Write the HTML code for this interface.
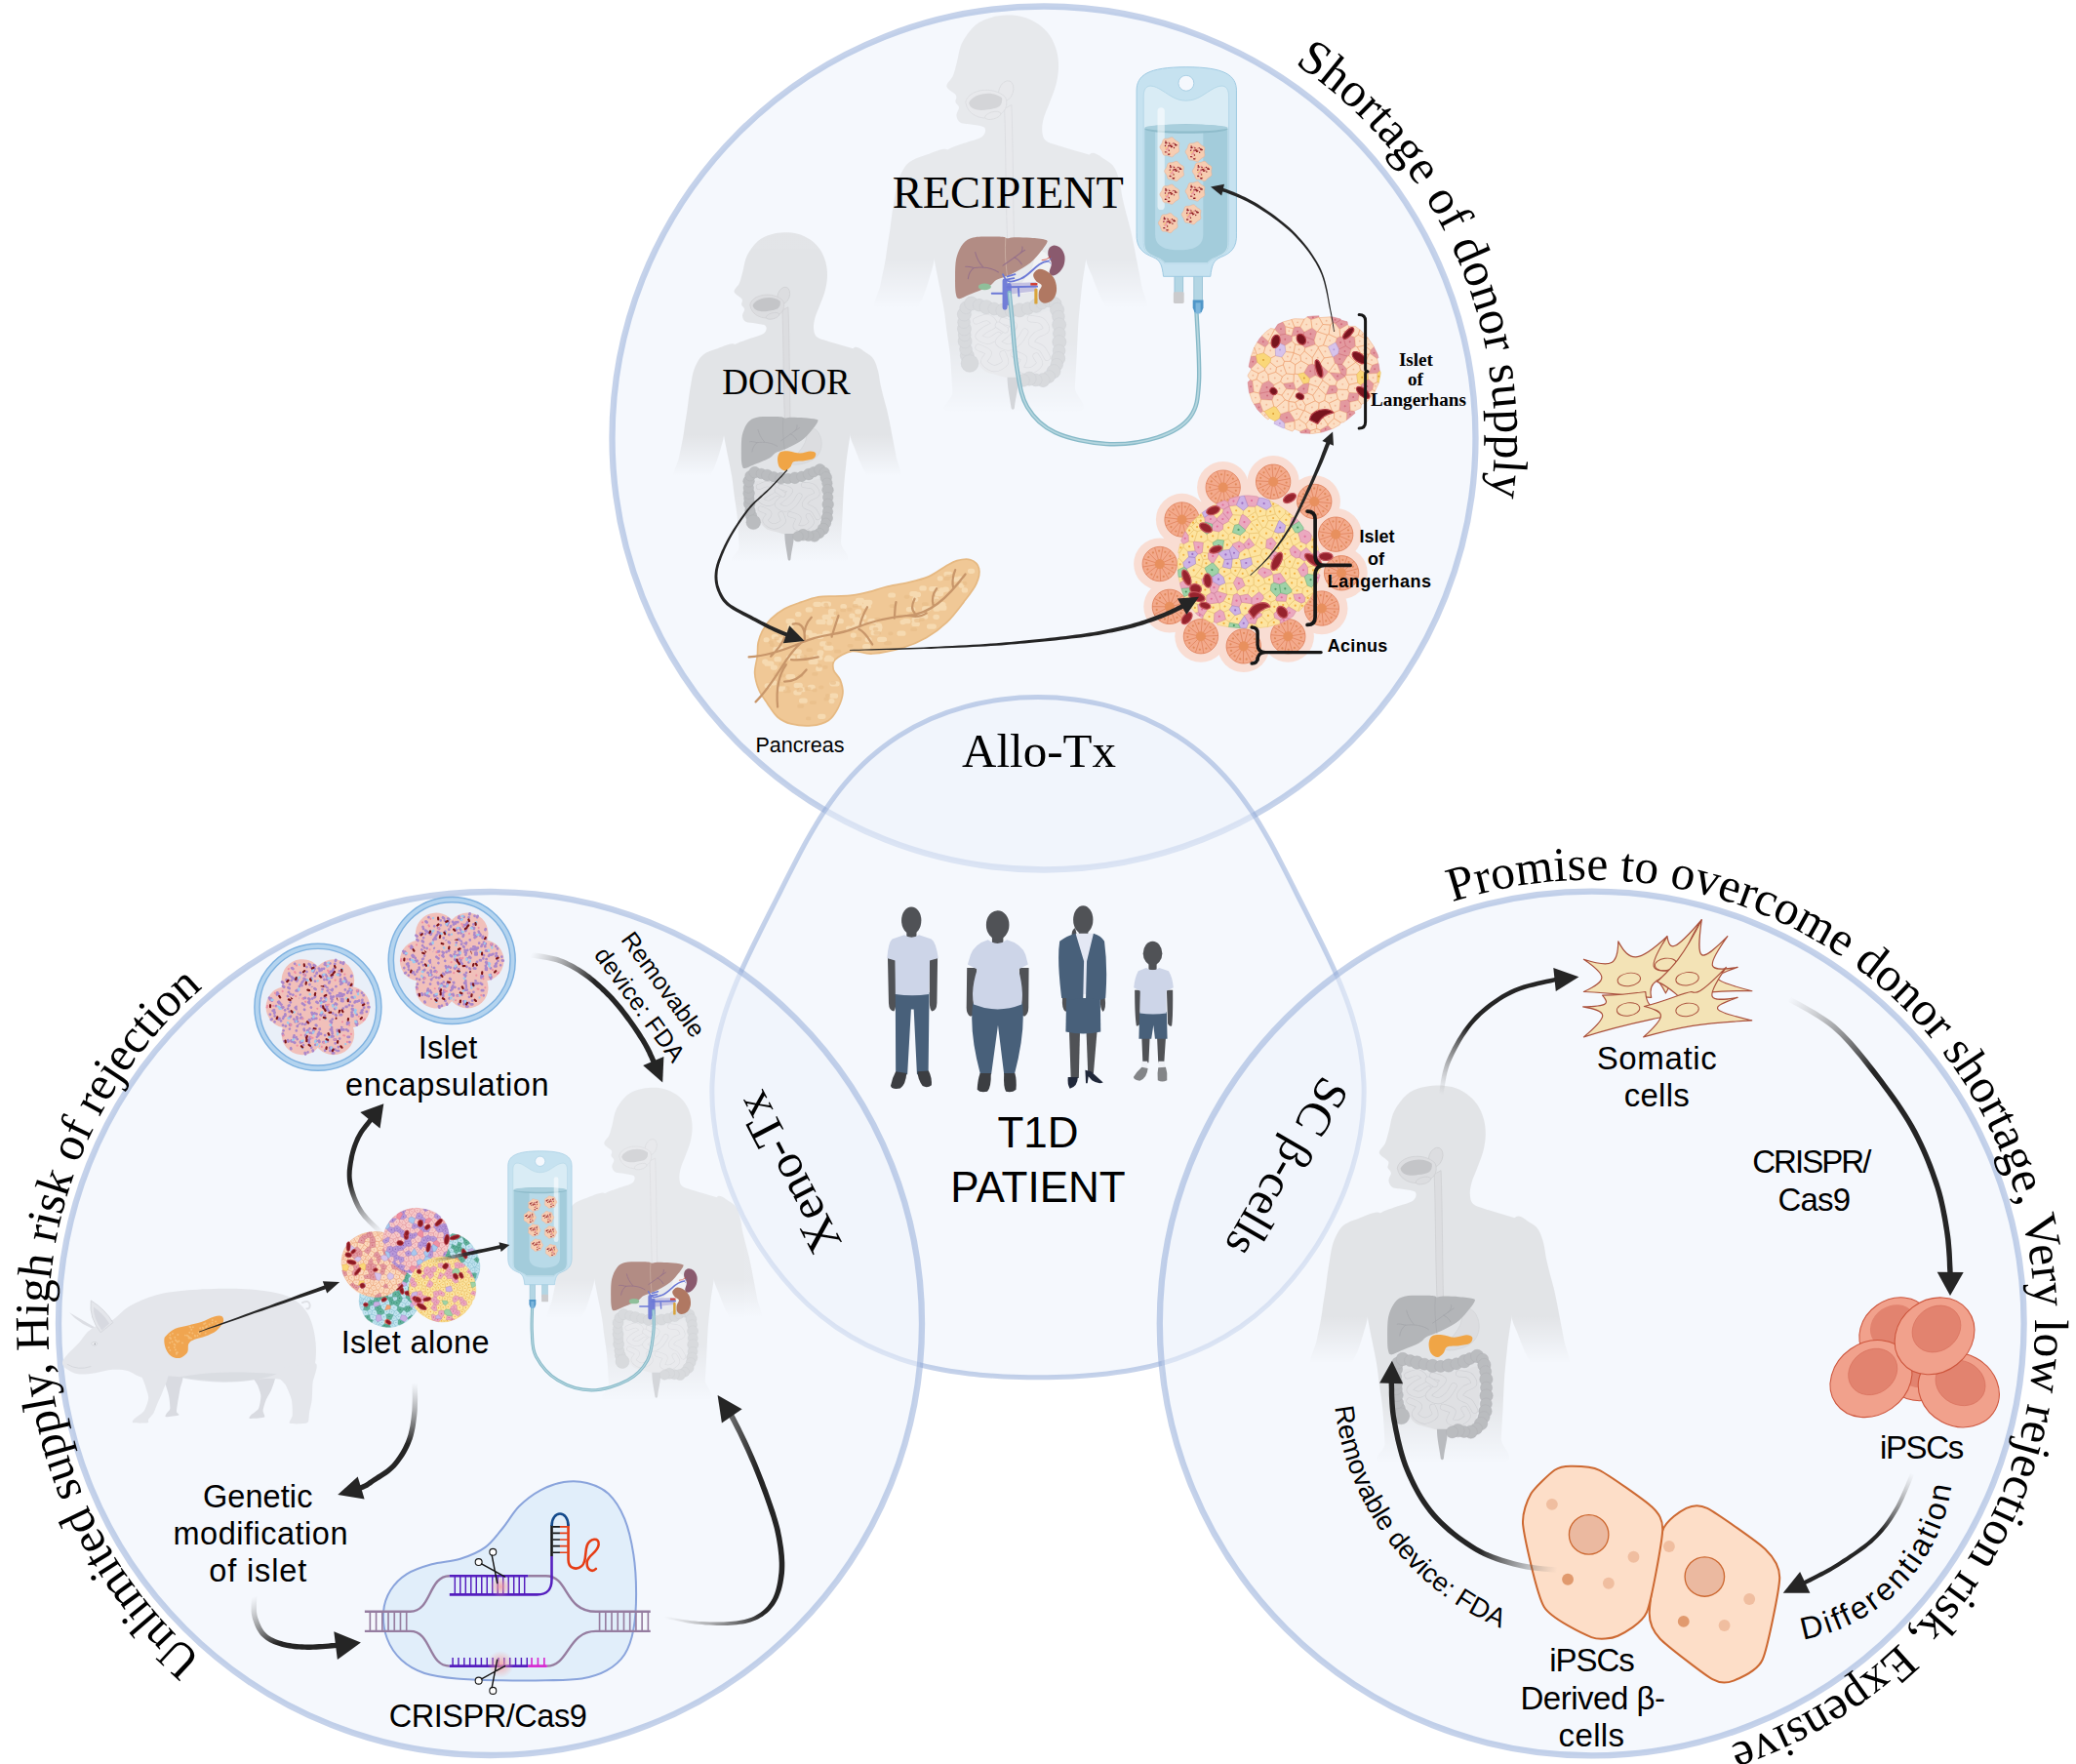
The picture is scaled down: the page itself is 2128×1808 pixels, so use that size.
<!DOCTYPE html>
<html lang="en"><head><meta charset="utf-8"><title>Islet transplantation strategies for T1D</title>
<style>
html,body{margin:0;padding:0;background:#fff;}
body{width:2128px;height:1808px;overflow:hidden;}
svg{display:block;}
.serif{font-family:"Liberation Serif","DejaVu Serif",serif;}
.sans{font-family:"Liberation Sans","DejaVu Sans",sans-serif;}
text{fill:#000;}
</style></head><body>
<svg xmlns="http://www.w3.org/2000/svg" width="2128" height="1808" viewBox="0 0 2128 1808">
<defs>
<linearGradient id="sgT" gradientUnits="userSpaceOnUse" x1="0" y1="1380" x2="0" y2="1655"><stop offset="0" stop-color="#c8c8c8"/><stop offset="1" stop-color="#c8c8c8" stop-opacity="0"/></linearGradient><linearGradient id="sgA" gradientUnits="userSpaceOnUse" x1="0" y1="1050" x2="0" y2="1240"><stop offset="0" stop-color="#c8c8c8"/><stop offset="1" stop-color="#c8c8c8" stop-opacity="0"/></linearGradient><g id="silh"><path d="M575 85C596.7 84.5 619.2 86.2 640 92C660.8 97.8 682.5 107.8 700 120C717.5 132.2 733 147.5 745 165C757 182.5 766.2 204.2 772 225C777.8 245.8 780.3 267.5 780 290C779.7 312.5 775.8 336.7 770 360C764.2 383.3 753 408.3 745 430C737 451.7 727 471.7 722 490C717 508.3 714 525 715 540C716 555 717.8 570 728 580C738.2 590 755.7 593 776 600C796.3 607 824.3 614 850 622C875.7 630 907.5 636.7 930 648C952.5 659.3 980 664.7 985 690C990 715.3 970 761.7 960 800C950 838.3 935.5 885 925 920C914.5 955 903 988 897 1010C891 1032 892.2 1033.7 889 1052C885.8 1070.3 881.2 1098.2 878 1120C874.8 1141.8 873.3 1151.5 870 1183C866.7 1214.5 861 1267.2 858 1309C855 1350.8 854.2 1392.3 852 1434C849.8 1475.7 846.5 1521.3 845 1559C843.5 1596.7 923.5 1643.2 843 1660C762.5 1676.8 442.5 1673.7 362 1660C281.5 1646.3 361.8 1615.7 360 1578C358.2 1540.3 354.7 1473.7 351 1434C347.3 1394.3 342.2 1371.3 338 1340C333.8 1308.7 331.5 1279.3 326 1246C320.5 1212.7 311.3 1172.3 305 1140C298.7 1107.7 292.2 1075.3 288 1052C283.8 1028.7 284.3 1025.3 280 1000C275.7 974.7 266.7 936.7 262 900C257.3 863.3 252 818.3 252 780C252 741.7 247.3 697 262 670C276.7 643 316.2 631 340 618C363.8 605 382 600.8 405 592C428 583.2 464.3 575.3 478 565C491.7 554.7 493.3 537.8 487 530C480.7 522.2 455.8 521.3 440 518C424.2 514.7 402.7 516 392 510C381.3 504 377 492 376 482C375 472 386.7 459 386 450C385.3 441 374 436 372 428C370 420 379.8 412.2 374 402C368.2 391.8 339 379.8 337 367C335 354.2 355.2 341.2 362 325C368.8 308.8 372 291.7 378 270C384 248.3 386 219.2 398 195C410 170.8 431.3 141.7 450 125C468.7 108.3 489.2 101.7 510 95C530.8 88.3 553.3 85.5 575 85Z" fill="url(#sgT)"/><path d="M908 632C923.3 622 954.3 650.3 970 660C985.7 669.7 993.3 675.8 1002 690C1010.7 704.2 1016.8 725.3 1022 745C1027.2 764.7 1028.7 787.2 1033 808C1037.3 828.8 1042.7 849.2 1048 870C1053.3 890.8 1060 912.2 1065 933C1070 953.8 1073.8 974.2 1078 995C1082.2 1015.8 1085 1031.8 1090 1058C1095 1084.2 1102.2 1118.3 1108 1152C1113.8 1185.7 1144.7 1241.2 1125 1260C1105.3 1278.8 1017.5 1270.8 990 1265C962.5 1259.2 968.5 1238.7 960 1225C951.5 1211.3 947 1201.3 939 1183C931 1164.7 920.3 1136.8 912 1115C903.7 1093.2 894.3 1079.5 889 1052C883.7 1024.5 881.8 1005.3 880 950C878.2 894.7 873.3 773 878 720C882.7 667 892.7 642 908 632Z" fill="url(#sgA)"/><path d="M340 618C328 604.7 274.7 632.2 250 640C225.3 647.8 206.5 655 192 665C177.5 675 171.3 685.8 163 700C154.7 714.2 147.3 732 142 750C136.7 768 134.5 788 131 808C127.5 828 124 849.2 121 870C118 890.8 116 912.2 113 933C110 953.8 106.2 974.2 103 995C99.8 1015.8 98.7 1031.8 94 1058C89.3 1084.2 81.5 1118.3 75 1152C68.5 1185.7 34.2 1241.2 55 1260C75.8 1278.8 170.8 1270.8 200 1265C229.2 1259.2 221.7 1238.7 230 1225C238.3 1211.3 243 1201.3 250 1183C257 1164.7 265.7 1136.8 272 1115C278.3 1093.2 283.3 1079.5 288 1052C292.7 1024.5 294.3 1005.3 300 950C305.7 894.7 315.3 775.3 322 720C328.7 664.7 352 631.3 340 618Z" fill="url(#sgA)"/></g><g id="orgGrey"><path d="M566 455 C 572 600 570 800 578 985 L604 985 C 600 800 600 600 594 440Z" fill="#dcdde0" stroke="#cdced1" stroke-width="3"/><ellipse cx="572" cy="385" rx="28" ry="42" fill="#dcdde0" stroke="#cdced1" stroke-width="3" transform="rotate(20 572 385)"/><path d="M412 430 C 420 380 520 360 570 410 C 585 450 560 480 520 490 C 470 500 420 480 412 430Z" fill="#dcdde0" stroke="#cdced1" stroke-width="3"/><path d="M425 432 C 440 395 520 380 556 412 C 560 445 540 455 500 458 C 470 465 430 460 425 432Z" fill="#c4c5c8"/><ellipse cx="520" cy="482" rx="32" ry="14" fill="#dcdde0" stroke="#cdced1" stroke-width="3" transform="rotate(-15 520 482)"/><g transform="translate(297 874.5) scale(0.4379)"><path d="M900 330C920 306.7 958.3 325 980 340C1001.7 355 1020 390 1030 420C1040 450 1045 486.7 1040 520C1035 553.3 1023.3 591.7 1000 620C976.7 648.3 940 673.3 900 690C860 706.7 793.3 720 760 720C726.7 720 696.7 710 700 690C703.3 670 753.3 635 780 600C806.7 565 840 525 860 480C880 435 880 353.3 900 330Z" fill="#dcdde0" stroke="#c9cbce" stroke-width="4"/><path d="M330 900C360 879.2 438.3 919.2 500 925C561.7 930.8 633.3 938.3 700 935C766.7 931.7 845 913.3 900 905C955 896.7 1006.3 852.5 1030 885C1053.7 917.5 1042 1030.8 1042 1100C1042 1169.2 1040.3 1246.7 1030 1300C1019.7 1353.3 1010 1395.8 980 1420C950 1444.2 896.7 1435 850 1445C803.3 1455 750 1479.2 700 1480C650 1480.8 596.7 1463.3 550 1450C503.3 1436.7 455 1433.3 420 1400C385 1366.7 356.7 1308.3 340 1250C323.3 1191.7 321.7 1108.3 320 1050C318.3 991.7 300 920.8 330 900Z" fill="#dfe0e3"/><path d="M360 960C376.7 955 433.3 925 460 930C486.7 935 523.3 971.7 520 990C516.7 1008.3 463.3 1021.7 440 1040C416.7 1058.3 375 1083.3 380 1100C385 1116.7 440 1141.7 470 1140C500 1138.3 545 1098.3 560 1090" fill="none" stroke="#cfd0d4" stroke-width="64" stroke-linecap="round" stroke-linejoin="round"/><path d="M360 960C376.7 955 433.3 925 460 930C486.7 935 523.3 971.7 520 990C516.7 1008.3 463.3 1021.7 440 1040C416.7 1058.3 375 1083.3 380 1100C385 1116.7 440 1141.7 470 1140C500 1138.3 545 1098.3 560 1090" fill="none" stroke="#dfe0e3" stroke-width="52" stroke-linecap="round" stroke-linejoin="round"/><path d="M600 960C616.7 966.7 693.3 981.7 700 1000C706.7 1018.3 663.3 1045 640 1070C616.7 1095 558.3 1128.3 560 1150C561.7 1171.7 620 1200 650 1200C680 1200 715 1173.3 740 1150C765 1126.7 790 1075 800 1060" fill="none" stroke="#cfd0d4" stroke-width="64" stroke-linecap="round" stroke-linejoin="round"/><path d="M600 960C616.7 966.7 693.3 981.7 700 1000C706.7 1018.3 663.3 1045 640 1070C616.7 1095 558.3 1128.3 560 1150C561.7 1171.7 620 1200 650 1200C680 1200 715 1173.3 740 1150C765 1126.7 790 1075 800 1060" fill="none" stroke="#dfe0e3" stroke-width="52" stroke-linecap="round" stroke-linejoin="round"/><path d="M850 940C866.7 943.3 926.7 943.3 950 960C973.3 976.7 998.3 1018.3 990 1040C981.7 1061.7 921.7 1070 900 1090C878.3 1110 851.7 1140 860 1160C868.3 1180 926.7 1188.3 950 1210C973.3 1231.7 991.7 1276.7 1000 1290" fill="none" stroke="#cfd0d4" stroke-width="64" stroke-linecap="round" stroke-linejoin="round"/><path d="M850 940C866.7 943.3 926.7 943.3 950 960C973.3 976.7 998.3 1018.3 990 1040C981.7 1061.7 921.7 1070 900 1090C878.3 1110 851.7 1140 860 1160C868.3 1180 926.7 1188.3 950 1210C973.3 1231.7 991.7 1276.7 1000 1290" fill="none" stroke="#dfe0e3" stroke-width="52" stroke-linecap="round" stroke-linejoin="round"/><path d="M380 1200C395 1208.3 461.7 1228.3 470 1250C478.3 1271.7 421.7 1306.7 430 1330C438.3 1353.3 488.3 1388.3 520 1390C551.7 1391.7 606.7 1361.7 620 1340C633.3 1318.3 603.3 1273.3 600 1260" fill="none" stroke="#cfd0d4" stroke-width="64" stroke-linecap="round" stroke-linejoin="round"/><path d="M380 1200C395 1208.3 461.7 1228.3 470 1250C478.3 1271.7 421.7 1306.7 430 1330C438.3 1353.3 488.3 1388.3 520 1390C551.7 1391.7 606.7 1361.7 620 1340C633.3 1318.3 603.3 1273.3 600 1260" fill="none" stroke="#dfe0e3" stroke-width="52" stroke-linecap="round" stroke-linejoin="round"/><path d="M700 1260C715 1266.7 780 1278.3 790 1300C800 1321.7 750 1371.7 760 1390C770 1408.3 821.7 1416.7 850 1410C878.3 1403.3 921.7 1371.7 930 1350C938.3 1328.3 905 1291.7 900 1280" fill="none" stroke="#cfd0d4" stroke-width="64" stroke-linecap="round" stroke-linejoin="round"/><path d="M700 1260C715 1266.7 780 1278.3 790 1300C800 1321.7 750 1371.7 760 1390C770 1408.3 821.7 1416.7 850 1410C878.3 1403.3 921.7 1371.7 930 1350C938.3 1328.3 905 1291.7 900 1280" fill="none" stroke="#dfe0e3" stroke-width="52" stroke-linecap="round" stroke-linejoin="round"/><path d="M560 1000C570 1006.7 610 1033.3 620 1040" fill="none" stroke="#cfd0d4" stroke-width="64" stroke-linecap="round" stroke-linejoin="round"/><path d="M560 1000C570 1006.7 610 1033.3 620 1040" fill="none" stroke="#dfe0e3" stroke-width="52" stroke-linecap="round" stroke-linejoin="round"/><path d="M640 1470 C 640 1560 660 1640 676 1750 Q 690 1775 704 1750 C 715 1640 745 1560 740 1470Z" fill="#b9bbbf"/><circle cx="290" cy="1330" r="56" fill="#babcbf" stroke="#acaeb2" stroke-width="4"/><circle cx="276.6" cy="1274.4" r="62" fill="#babcbf" stroke="#acaeb2" stroke-width="4"/><circle cx="264.8" cy="1218.1" r="56" fill="#babcbf" stroke="#acaeb2" stroke-width="4"/><circle cx="256.6" cy="1145.2" r="62" fill="#babcbf" stroke="#acaeb2" stroke-width="4"/><circle cx="253.5" cy="1088" r="56" fill="#babcbf" stroke="#acaeb2" stroke-width="4"/><circle cx="251" cy="1030.9" r="62" fill="#babcbf" stroke="#acaeb2" stroke-width="4"/><circle cx="247.2" cy="971.6" r="56" fill="#babcbf" stroke="#acaeb2" stroke-width="4"/><circle cx="250" cy="900" r="62" fill="#babcbf" stroke="#acaeb2" stroke-width="4"/><circle cx="265.5" cy="841.2" r="56" fill="#babcbf" stroke="#acaeb2" stroke-width="4"/><circle cx="313.6" cy="802.7" r="62" fill="#babcbf" stroke="#acaeb2" stroke-width="4"/><circle cx="385.7" cy="817.7" r="56" fill="#babcbf" stroke="#acaeb2" stroke-width="4"/><circle cx="450" cy="835" r="62" fill="#babcbf" stroke="#acaeb2" stroke-width="4"/><circle cx="521.3" cy="851.3" r="56" fill="#babcbf" stroke="#acaeb2" stroke-width="4"/><circle cx="598.8" cy="867.3" r="62" fill="#babcbf" stroke="#acaeb2" stroke-width="4"/><circle cx="675.1" cy="871.7" r="56" fill="#babcbf" stroke="#acaeb2" stroke-width="4"/><circle cx="750.6" cy="863.5" r="62" fill="#babcbf" stroke="#acaeb2" stroke-width="4"/><circle cx="825.5" cy="848" r="56" fill="#babcbf" stroke="#acaeb2" stroke-width="4"/><circle cx="901.3" cy="823.4" r="62" fill="#babcbf" stroke="#acaeb2" stroke-width="4"/><circle cx="953.9" cy="798.8" r="56" fill="#babcbf" stroke="#acaeb2" stroke-width="4"/><circle cx="1022.6" cy="774.4" r="62" fill="#babcbf" stroke="#acaeb2" stroke-width="4"/><circle cx="1073.4" cy="804.5" r="56" fill="#babcbf" stroke="#acaeb2" stroke-width="4"/><circle cx="1089.8" cy="859" r="62" fill="#babcbf" stroke="#acaeb2" stroke-width="4"/><circle cx="1101.9" cy="921.4" r="56" fill="#babcbf" stroke="#acaeb2" stroke-width="4"/><circle cx="1108.2" cy="995.3" r="62" fill="#babcbf" stroke="#acaeb2" stroke-width="4"/><circle cx="1109.9" cy="1074.5" r="56" fill="#babcbf" stroke="#acaeb2" stroke-width="4"/><circle cx="1110" cy="1151.6" r="62" fill="#babcbf" stroke="#acaeb2" stroke-width="4"/><circle cx="1107.6" cy="1230.1" r="56" fill="#babcbf" stroke="#acaeb2" stroke-width="4"/><circle cx="1100" cy="1300" r="62" fill="#babcbf" stroke="#acaeb2" stroke-width="4"/><circle cx="1086.4" cy="1356.5" r="56" fill="#babcbf" stroke="#acaeb2" stroke-width="4"/><circle cx="1058.9" cy="1417.1" r="62" fill="#babcbf" stroke="#acaeb2" stroke-width="4"/><circle cx="1016.2" cy="1464.5" r="56" fill="#babcbf" stroke="#acaeb2" stroke-width="4"/><circle cx="962.8" cy="1495.9" r="62" fill="#babcbf" stroke="#acaeb2" stroke-width="4"/><circle cx="898.1" cy="1494.2" r="56" fill="#babcbf" stroke="#acaeb2" stroke-width="4"/><circle cx="839.3" cy="1482.7" r="62" fill="#babcbf" stroke="#acaeb2" stroke-width="4"/><circle cx="785.2" cy="1498.4" r="56" fill="#babcbf" stroke="#acaeb2" stroke-width="4"/><circle cx="300" cy="1345" r="78" fill="#babcbf" stroke="#acaeb2" stroke-width="4"/><path d="M240 262C265.3 229.8 290 217.7 330 207C370 196.3 435 199.2 480 198C525 196.8 573.3 197.3 600 200C626.7 202.7 623.3 213.2 640 214C656.7 214.8 665 205.7 700 205C735 204.3 803.3 206.5 850 210C896.7 213.5 955 219.3 980 226C1005 232.7 1005 233.5 1000 250C995 266.5 975 294.2 950 325C925 355.8 888.3 403.3 850 435C811.7 466.7 758.3 494.2 720 515C681.7 535.8 650 547.2 620 560C590 572.8 565 577 540 592C515 607 510 628.3 470 650C430 671.7 344.2 703.7 300 722C255.8 740.3 225.7 760 205 760C184.3 760 182.2 748.7 176 722C169.8 695.3 167.7 653.7 168 600C168.3 546.3 166 456.3 178 400C190 343.7 214.7 294.2 240 262Z" fill="#b3b5b8"/><path d="M625 205 C 615 330 625 450 640 560" fill="none" stroke="#a3a5a9" stroke-width="5"/><path d="M560 520 C 500 480 420 470 340 480 M420 472 C 380 430 360 380 350 340 M340 480 C 310 500 290 540 285 580 M340 480 C 300 470 280 465 262 470 M600 460 C 660 420 740 360 800 320 M700 385 C 740 400 760 430 770 450 M740 360 C 770 340 780 310 775 290" fill="none" stroke="#a6a8ac" stroke-width="9" stroke-linecap="round"/><path d="M566 630C571.7 610.3 579 589.5 600 580C621 570.5 657.7 570.3 692 573C726.3 575.7 768 596 806 596C844 596 891.5 573 920 573C948.5 573 971.3 582.7 977 596C982.7 609.3 974.8 639.7 954 653C933.2 666.3 888 670.3 852 676C816 681.7 762.8 675.7 738 687C713.2 698.3 718.3 727.7 703 744C687.7 760.3 665 783.2 646 785C627 786.8 602.3 769.5 589 755C575.7 740.5 569.8 718.8 566 698C562.2 677.2 560.3 649.7 566 630Z" fill="#f0a546"/></g></g><g id="orgCol"><path d="M566 455 C 572 600 570 800 578 985 L604 985 C 600 800 600 600 594 440Z" fill="#e8e9ec" stroke="#dadbde" stroke-width="3"/><ellipse cx="572" cy="385" rx="28" ry="42" fill="#e8e9ec" stroke="#dadbde" stroke-width="3" transform="rotate(20 572 385)"/><path d="M412 430 C 420 380 520 360 570 410 C 585 450 560 480 520 490 C 470 500 420 480 412 430Z" fill="#e8e9ec" stroke="#dadbde" stroke-width="3"/><path d="M425 432 C 440 395 520 380 556 412 C 560 445 540 455 500 458 C 470 465 430 460 425 432Z" fill="#d4d5d8"/><ellipse cx="520" cy="482" rx="32" ry="14" fill="#e8e9ec" stroke="#dadbde" stroke-width="3" transform="rotate(-15 520 482)"/><g transform="translate(297 874.5) scale(0.4379)"><path d="M900 330C920 306.7 958.3 325 980 340C1001.7 355 1020 390 1030 420C1040 450 1045 486.7 1040 520C1035 553.3 1023.3 591.7 1000 620C976.7 648.3 940 673.3 900 690C860 706.7 793.3 720 760 720C726.7 720 696.7 710 700 690C703.3 670 753.3 635 780 600C806.7 565 840 525 860 480C880 435 880 353.3 900 330Z" fill="#f1f2f4" stroke="#e2e3e6" stroke-width="4"/><path d="M330 900C360 879.2 438.3 919.2 500 925C561.7 930.8 633.3 938.3 700 935C766.7 931.7 845 913.3 900 905C955 896.7 1006.3 852.5 1030 885C1053.7 917.5 1042 1030.8 1042 1100C1042 1169.2 1040.3 1246.7 1030 1300C1019.7 1353.3 1010 1395.8 980 1420C950 1444.2 896.7 1435 850 1445C803.3 1455 750 1479.2 700 1480C650 1480.8 596.7 1463.3 550 1450C503.3 1436.7 455 1433.3 420 1400C385 1366.7 356.7 1308.3 340 1250C323.3 1191.7 321.7 1108.3 320 1050C318.3 991.7 300 920.8 330 900Z" fill="#e9eaed"/><path d="M360 960C376.7 955 433.3 925 460 930C486.7 935 523.3 971.7 520 990C516.7 1008.3 463.3 1021.7 440 1040C416.7 1058.3 375 1083.3 380 1100C385 1116.7 440 1141.7 470 1140C500 1138.3 545 1098.3 560 1090" fill="none" stroke="#dcdde1" stroke-width="64" stroke-linecap="round" stroke-linejoin="round"/><path d="M360 960C376.7 955 433.3 925 460 930C486.7 935 523.3 971.7 520 990C516.7 1008.3 463.3 1021.7 440 1040C416.7 1058.3 375 1083.3 380 1100C385 1116.7 440 1141.7 470 1140C500 1138.3 545 1098.3 560 1090" fill="none" stroke="#e9eaed" stroke-width="52" stroke-linecap="round" stroke-linejoin="round"/><path d="M600 960C616.7 966.7 693.3 981.7 700 1000C706.7 1018.3 663.3 1045 640 1070C616.7 1095 558.3 1128.3 560 1150C561.7 1171.7 620 1200 650 1200C680 1200 715 1173.3 740 1150C765 1126.7 790 1075 800 1060" fill="none" stroke="#dcdde1" stroke-width="64" stroke-linecap="round" stroke-linejoin="round"/><path d="M600 960C616.7 966.7 693.3 981.7 700 1000C706.7 1018.3 663.3 1045 640 1070C616.7 1095 558.3 1128.3 560 1150C561.7 1171.7 620 1200 650 1200C680 1200 715 1173.3 740 1150C765 1126.7 790 1075 800 1060" fill="none" stroke="#e9eaed" stroke-width="52" stroke-linecap="round" stroke-linejoin="round"/><path d="M850 940C866.7 943.3 926.7 943.3 950 960C973.3 976.7 998.3 1018.3 990 1040C981.7 1061.7 921.7 1070 900 1090C878.3 1110 851.7 1140 860 1160C868.3 1180 926.7 1188.3 950 1210C973.3 1231.7 991.7 1276.7 1000 1290" fill="none" stroke="#dcdde1" stroke-width="64" stroke-linecap="round" stroke-linejoin="round"/><path d="M850 940C866.7 943.3 926.7 943.3 950 960C973.3 976.7 998.3 1018.3 990 1040C981.7 1061.7 921.7 1070 900 1090C878.3 1110 851.7 1140 860 1160C868.3 1180 926.7 1188.3 950 1210C973.3 1231.7 991.7 1276.7 1000 1290" fill="none" stroke="#e9eaed" stroke-width="52" stroke-linecap="round" stroke-linejoin="round"/><path d="M380 1200C395 1208.3 461.7 1228.3 470 1250C478.3 1271.7 421.7 1306.7 430 1330C438.3 1353.3 488.3 1388.3 520 1390C551.7 1391.7 606.7 1361.7 620 1340C633.3 1318.3 603.3 1273.3 600 1260" fill="none" stroke="#dcdde1" stroke-width="64" stroke-linecap="round" stroke-linejoin="round"/><path d="M380 1200C395 1208.3 461.7 1228.3 470 1250C478.3 1271.7 421.7 1306.7 430 1330C438.3 1353.3 488.3 1388.3 520 1390C551.7 1391.7 606.7 1361.7 620 1340C633.3 1318.3 603.3 1273.3 600 1260" fill="none" stroke="#e9eaed" stroke-width="52" stroke-linecap="round" stroke-linejoin="round"/><path d="M700 1260C715 1266.7 780 1278.3 790 1300C800 1321.7 750 1371.7 760 1390C770 1408.3 821.7 1416.7 850 1410C878.3 1403.3 921.7 1371.7 930 1350C938.3 1328.3 905 1291.7 900 1280" fill="none" stroke="#dcdde1" stroke-width="64" stroke-linecap="round" stroke-linejoin="round"/><path d="M700 1260C715 1266.7 780 1278.3 790 1300C800 1321.7 750 1371.7 760 1390C770 1408.3 821.7 1416.7 850 1410C878.3 1403.3 921.7 1371.7 930 1350C938.3 1328.3 905 1291.7 900 1280" fill="none" stroke="#e9eaed" stroke-width="52" stroke-linecap="round" stroke-linejoin="round"/><path d="M560 1000C570 1006.7 610 1033.3 620 1040" fill="none" stroke="#dcdde1" stroke-width="64" stroke-linecap="round" stroke-linejoin="round"/><path d="M560 1000C570 1006.7 610 1033.3 620 1040" fill="none" stroke="#e9eaed" stroke-width="52" stroke-linecap="round" stroke-linejoin="round"/><path d="M640 1470 C 640 1560 660 1640 676 1750 Q 690 1775 704 1750 C 715 1640 745 1560 740 1470Z" fill="#d4d6da"/><circle cx="290" cy="1330" r="56" fill="#d8dadd" stroke="#cdcfd3" stroke-width="4"/><circle cx="276.6" cy="1274.4" r="62" fill="#d8dadd" stroke="#cdcfd3" stroke-width="4"/><circle cx="264.8" cy="1218.1" r="56" fill="#d8dadd" stroke="#cdcfd3" stroke-width="4"/><circle cx="256.6" cy="1145.2" r="62" fill="#d8dadd" stroke="#cdcfd3" stroke-width="4"/><circle cx="253.5" cy="1088" r="56" fill="#d8dadd" stroke="#cdcfd3" stroke-width="4"/><circle cx="251" cy="1030.9" r="62" fill="#d8dadd" stroke="#cdcfd3" stroke-width="4"/><circle cx="247.2" cy="971.6" r="56" fill="#d8dadd" stroke="#cdcfd3" stroke-width="4"/><circle cx="250" cy="900" r="62" fill="#d8dadd" stroke="#cdcfd3" stroke-width="4"/><circle cx="265.5" cy="841.2" r="56" fill="#d8dadd" stroke="#cdcfd3" stroke-width="4"/><circle cx="313.6" cy="802.7" r="62" fill="#d8dadd" stroke="#cdcfd3" stroke-width="4"/><circle cx="385.7" cy="817.7" r="56" fill="#d8dadd" stroke="#cdcfd3" stroke-width="4"/><circle cx="450" cy="835" r="62" fill="#d8dadd" stroke="#cdcfd3" stroke-width="4"/><circle cx="521.3" cy="851.3" r="56" fill="#d8dadd" stroke="#cdcfd3" stroke-width="4"/><circle cx="598.8" cy="867.3" r="62" fill="#d8dadd" stroke="#cdcfd3" stroke-width="4"/><circle cx="675.1" cy="871.7" r="56" fill="#d8dadd" stroke="#cdcfd3" stroke-width="4"/><circle cx="750.6" cy="863.5" r="62" fill="#d8dadd" stroke="#cdcfd3" stroke-width="4"/><circle cx="825.5" cy="848" r="56" fill="#d8dadd" stroke="#cdcfd3" stroke-width="4"/><circle cx="901.3" cy="823.4" r="62" fill="#d8dadd" stroke="#cdcfd3" stroke-width="4"/><circle cx="953.9" cy="798.8" r="56" fill="#d8dadd" stroke="#cdcfd3" stroke-width="4"/><circle cx="1022.6" cy="774.4" r="62" fill="#d8dadd" stroke="#cdcfd3" stroke-width="4"/><circle cx="1073.4" cy="804.5" r="56" fill="#d8dadd" stroke="#cdcfd3" stroke-width="4"/><circle cx="1089.8" cy="859" r="62" fill="#d8dadd" stroke="#cdcfd3" stroke-width="4"/><circle cx="1101.9" cy="921.4" r="56" fill="#d8dadd" stroke="#cdcfd3" stroke-width="4"/><circle cx="1108.2" cy="995.3" r="62" fill="#d8dadd" stroke="#cdcfd3" stroke-width="4"/><circle cx="1109.9" cy="1074.5" r="56" fill="#d8dadd" stroke="#cdcfd3" stroke-width="4"/><circle cx="1110" cy="1151.6" r="62" fill="#d8dadd" stroke="#cdcfd3" stroke-width="4"/><circle cx="1107.6" cy="1230.1" r="56" fill="#d8dadd" stroke="#cdcfd3" stroke-width="4"/><circle cx="1100" cy="1300" r="62" fill="#d8dadd" stroke="#cdcfd3" stroke-width="4"/><circle cx="1086.4" cy="1356.5" r="56" fill="#d8dadd" stroke="#cdcfd3" stroke-width="4"/><circle cx="1058.9" cy="1417.1" r="62" fill="#d8dadd" stroke="#cdcfd3" stroke-width="4"/><circle cx="1016.2" cy="1464.5" r="56" fill="#d8dadd" stroke="#cdcfd3" stroke-width="4"/><circle cx="962.8" cy="1495.9" r="62" fill="#d8dadd" stroke="#cdcfd3" stroke-width="4"/><circle cx="898.1" cy="1494.2" r="56" fill="#d8dadd" stroke="#cdcfd3" stroke-width="4"/><circle cx="839.3" cy="1482.7" r="62" fill="#d8dadd" stroke="#cdcfd3" stroke-width="4"/><circle cx="785.2" cy="1498.4" r="56" fill="#d8dadd" stroke="#cdcfd3" stroke-width="4"/><circle cx="300" cy="1345" r="78" fill="#d8dadd" stroke="#cdcfd3" stroke-width="4"/><path d="M240 262C265.3 229.8 290 217.7 330 207C370 196.3 435 199.2 480 198C525 196.8 573.3 197.3 600 200C626.7 202.7 623.3 213.2 640 214C656.7 214.8 665 205.7 700 205C735 204.3 803.3 206.5 850 210C896.7 213.5 955 219.3 980 226C1005 232.7 1005 233.5 1000 250C995 266.5 975 294.2 950 325C925 355.8 888.3 403.3 850 435C811.7 466.7 758.3 494.2 720 515C681.7 535.8 650 547.2 620 560C590 572.8 565 577 540 592C515 607 510 628.3 470 650C430 671.7 344.2 703.7 300 722C255.8 740.3 225.7 760 205 760C184.3 760 182.2 748.7 176 722C169.8 695.3 167.7 653.7 168 600C168.3 546.3 166 456.3 178 400C190 343.7 214.7 294.2 240 262Z" fill="#b28c84"/><path d="M625 205 C 615 330 625 450 640 560" fill="none" stroke="#d9c2b4" stroke-width="5"/><path d="M560 520 C 500 480 420 470 340 480 M420 472 C 380 430 360 380 350 340 M340 480 C 310 500 290 540 285 580 M340 480 C 300 470 280 465 262 470 M600 460 C 660 420 740 360 800 320 M700 385 C 740 400 760 430 770 450 M740 360 C 770 340 780 310 775 290" fill="none" stroke="#96708a" stroke-width="9" stroke-linecap="round"/><ellipse cx="435" cy="652" rx="58" ry="30" fill="#8fbf9a"/><path d="M240 262C265.3 229.8 290 217.7 330 207C370 196.3 435 199.2 480 198C525 196.8 573.3 197.3 600 200C626.7 202.7 623.3 213.2 640 214C656.7 214.8 665 205.7 700 205C735 204.3 803.3 206.5 850 210C896.7 213.5 955 219.3 980 226C1005 232.7 1005 233.5 1000 250C995 266.5 975 294.2 950 325C925 355.8 888.3 403.3 850 435C811.7 466.7 758.3 494.2 720 515C681.7 535.8 650 547.2 620 560C590 572.8 565 577 540 592C515 607 510 628.3 470 650C430 671.7 344.2 703.7 300 722C255.8 740.3 225.7 760 205 760C184.3 760 182.2 748.7 176 722C169.8 695.3 167.7 653.7 168 600C168.3 546.3 166 456.3 178 400C190 343.7 214.7 294.2 240 262Z" fill="#b28c84" opacity="0.0"/><path d="M650 620 L900 610 L905 690 L650 720Z" fill="#b9b5dd" opacity="0.8"/><path d="M1060 278C1077.5 276.3 1103.7 284.7 1120 300C1136.3 315.3 1153 343.3 1158 370C1163 396.7 1159.7 433.3 1150 460C1140.3 486.7 1116.7 514.7 1100 530C1083.3 545.3 1063.3 553.7 1050 552C1036.7 550.3 1021.7 538.7 1020 520C1018.3 501.3 1041.7 465 1040 440C1038.3 415 1014.2 391.7 1010 370C1005.8 348.3 1006.7 325.3 1015 310C1023.3 294.7 1042.5 279.7 1060 278Z" fill="#8a5a6e"/><path d="M930 492C952.5 488.7 986.7 503.7 1010 520C1033.3 536.3 1057.5 561.7 1070 590C1082.5 618.3 1088.3 660 1085 690C1081.7 720 1067.5 751.7 1050 770C1032.5 788.3 1000 800 980 800C960 800 939.2 786.7 930 770C920.8 753.3 921.7 721.7 925 700C928.3 678.3 954.2 656.7 950 640C945.8 623.3 912.5 616.7 900 600C887.5 583.3 870 558 875 540C880 522 907.5 495.3 930 492Z" fill="#b07862"/><rect x="885" y="668" width="28" height="140" rx="8" fill="#d9a43b"/><rect x="850" y="618" width="62" height="22" fill="#d23b2e"/><path d="M618 600 L618 840 M655 640 L655 800" stroke="#6b78d6" stroke-width="44" fill="none" stroke-linecap="round" opacity="0.95"/><path d="M500 712 L600 712 M640 655 L910 650 M600 540 C 640 640 700 600 760 580 C 860 540 900 430 1010 420 M740 655 L745 735 M640 560 L710 540 M640 585 L700 575" stroke="#6b78d6" stroke-width="16" fill="none" stroke-linecap="round"/><path d="M1010 420 L1040 395 M1010 420 L1035 445" stroke="#6b78d6" stroke-width="7" fill="none"/><path d="M950 412 L990 405 L1030 380" stroke="#d23b2e" stroke-width="7" fill="none"/></g></g><g id="isb"><path d="M57 0C57 9.4 62.1 20.8 58.6 28.2C55 35.6 42.9 38.7 35.5 44.6C28.2 50.4 22.5 61.5 14.5 63.4C6.4 65.2 -3.5 57.7 -12.7 55.6C-21.8 53.5 -34.1 56 -40.5 50.8C-47 45.7 -47.3 33.2 -51.4 24.7C-55.4 16.3 -65 8.2 -65 0C-65 -8.2 -55.4 -16.3 -51.4 -24.7C-47.3 -33.2 -47 -45.7 -40.5 -50.8C-34.1 -56 -21.8 -53.5 -12.7 -55.6C-3.5 -57.7 6.4 -65.2 14.5 -63.4C22.5 -61.5 28.2 -50.4 35.5 -44.6C42.9 -38.7 55 -35.6 58.6 -28.2C62.1 -20.8 57 -9.4 57 0Z" fill="#f6cdb2" stroke="#e8a98c" stroke-width="3"/><path d="M15 -6h0M-19 34h0M-26 -15h0M-2 -7h0M-11 14h0M-4 -12h0M-12 2h0M-1 45h0M19 -6h0M-23 16h0M-18 10h0M13 -20h0M-8 -30h0M9 -2h0" stroke="#ee9aa0" stroke-width="11" stroke-linecap="round"/><path d="M1 40h0M-26 6h0M12 -9h0M-29 7h0M3 -20h0M-6 22h0M13 -1h0M-20 -1h0" stroke="#f3c070" stroke-width="8" stroke-linecap="round"/><path d="M-28 -27h7M36 -13h7M27 4h0M-27 -36h0M-30 32h4M-30 -8h0M-3 -24h0M34 -20h0M0 -10h7M-9 -8h0M8 -1h0M14 -3h0M-11 46h7M24 -24h0M34 -13h4M-6 22h0" stroke="#8c1c24" stroke-width="9" stroke-linecap="round"/></g><g id="ivbag"><rect x="340" y="1390" width="55" height="200" fill="#b3d6e4" stroke="#8fbdd2" stroke-width="5"/><rect x="465" y="1390" width="55" height="240" fill="#b3d6e4" stroke="#8fbdd2" stroke-width="5"/><rect x="333" y="1570" width="68" height="74" rx="9" fill="#cbcbcd"/><path d="M458 1622h68v50l-12 30h-44l-12-30z" fill="#4f96c8"/><rect x="476" y="1640" width="32" height="70" fill="#7db6dc"/><path d="M95 270C95 170 170 118 415 118S740 170 740 270V1190C745 1290 700 1320 640 1345C590 1365 580 1400 572 1470H268C260 1400 250 1365 200 1345C140 1320 90 1290 95 1190Z" fill="#c6e2f0" stroke="#9cc8e0" stroke-width="6"/><path d="M140 310C140 240 175 225 235 255C300 290 340 335 415 335S530 290 595 255C655 225 690 240 690 310V1250C690 1300 670 1325 620 1345C580 1360 560 1372 555 1385H275C270 1372 250 1360 210 1345C160 1325 140 1300 140 1250Z" fill="#d9ecf5" stroke="#a8cfe2" stroke-width="4"/><path d="M146 515H684V1250C684 1298 666 1320 618 1340C578 1356 560 1368 553 1380H277C270 1368 252 1356 212 1340C164 1320 146 1298 146 1250Z" fill="#a3ccdb"/><path d="M215 520H525V1200C525 1270 470 1300 370 1300S215 1270 215 1200Z" fill="#bcdcea" opacity="0.85"/><ellipse cx="415" cy="517" rx="269" ry="30" fill="#8fbccb"/><ellipse cx="415" cy="510" rx="269" ry="22" fill="#a9cfdd"/><rect x="230" y="380" width="46" height="660" rx="23" fill="#fff" opacity="0.55"/><circle cx="415" cy="222" r="50" fill="#f5f8fd" stroke="#9cc8e0" stroke-width="5"/><use href="#isb" x="310" y="635"/><use href="#isb" x="475" y="665"/><use href="#isb" x="340" y="790"/><use href="#isb" x="520" y="790"/><use href="#isb" x="310" y="940"/><use href="#isb" x="475" y="920"/><use href="#isb" x="450" y="1070"/><use href="#isb" x="300" y="1125"/></g><g id="acin"><circle r="105" fill="#f3aa8c" stroke="#dc7850" stroke-width="4"/><path d="M26 0L104 0M23 12L92 48M15 21L59 86M3 26L13 103M-9 24L-37 97M-19 17L-78 69M-25 6L-101 25M-25 -6L-101 -25M-19 -17L-78 -69M-9 -24L-37 -97M3 -26L13 -103M15 -21L59 -86M23 -12L92 -48" stroke="#dc7850" stroke-width="3.5" fill="none"/><path d="M78 19h0M60 53h0M28 75h0M-10 79h0M-45 66h0M-71 37h0M-80 0h0M-71 -37h0M-45 -66h0M-10 -79h0M28 -75h0M60 -53h0M78 -19h0" stroke="#e08a5c" stroke-width="13" stroke-linecap="round"/><circle r="30" fill="#e8905e"/></g><g id="lobe0"><circle r="147" fill="#f1c0ba"/><path d="M-13 16h10M-13 99h0M-88 3h0M-113 -55h0M10 109h0M26 -29h10M43 32h0M34 92h0M-10 -16h0M5 39h10M43 -26h0M58 -51h0M3 -131h0M-27 97h10M51 -80h0M-8 134h10M-22 18h0M77 -64h0M-25 118h0M-71 -111h0M-9 -3h0M-14 -86h0M-22 -32h10M-22 -80h6M21 -128h0M-80 -67h6M92 -31h0M-114 23h0M34 -104h10M93 -101h10M-88 -96h0M88 -70h0M-95 36h0M52 -31h10M28 -21h0M-109 3h6M-73 57h6M-22 113h10M-57 -90h0M-104 -5h0M-61 116h0M69 -120h10M-15 -123h0M-61 8h0M-13 -47h0M25 118h10M114 56h0M-134 38h10M-121 -52h0M12 66h0M-41 51h0M103 -23h0M101 20h10M-107 -67h10M63 -31h10" stroke="#aa86ca" stroke-width="19" stroke-linecap="round"/><path d="M9 39h0M-36 -118h0M-84 90h0M-68 59h0M71 9h0M78 11h0M125 0h0M97 55h0" stroke="#ef8fa3" stroke-width="15" stroke-linecap="round"/><path d="M-16 94l0 9M28 -5l0 9M-108 78l7 5M-55 49l0 9M44 -16l0 5M-26 -69l7 5M85 71l0 0M-32 23l4 0M-101 0l0 9" stroke="#9ccbee" stroke-width="16" stroke-linecap="round"/><path d="M-8 119l6 -11M-32 5l-6 -11M60 95l-9 -9M-50 92l-2 12M30 49l-2 12M-40 41l-11 -5M39 -26l4 12M75 -65l2 -12" stroke="#7e1418" stroke-width="15" stroke-linecap="round"/></g><g id="lobe1"><circle r="147" fill="#f1c0ba"/><path d="M25 -21h6M-103 -86h10M134 0h0M3 65h6M75 -82h0M24 44h0M131 -38h6M132 20h10M-90 -4h10M49 -94h0M9 48h0M23 -116h10M20 89h6M11 110h10M13 -67h0M33 -106h10M-73 12h0M-23 -133h0M10 136h0M-43 132h10M-2 -129h6M-9 -84h10M-111 8h0M53 16h0M-69 -21h0M-15 -44h10M52 -24h0M12 -20h6M76 15h0M36 -46h10M-117 17h0M-74 17h10M-63 -45h0M79 -100h10M-82 50h0M43 68h0M-22 -62h0M7 -56h0M109 -34h0M48 29h6M50 -25h6M-63 120h0M-31 -22h10M71 107h6M53 -32h6M-36 33h0M-62 75h0M100 -67h0M37 -128h0M-62 -38h0M34 78h0M66 -29h6M-57 -118h0M-101 51h6M-8 58h0" stroke="#aa86ca" stroke-width="19" stroke-linecap="round"/><path d="M-30 132h0M67 58h0M47 -63h0M-92 28h0M-122 24h0M4 11h0M-7 -99h0M39 -53h0" stroke="#ef8fa3" stroke-width="15" stroke-linecap="round"/><path d="M90 28l7 0M-48 -102l0 0M99 -82l4 5M72 -77l7 5M45 8l0 9M17 67l4 9M-103 -33l4 0M-2 -41l0 9M9 -81l4 5" stroke="#9ccbee" stroke-width="16" stroke-linecap="round"/><path d="M-123 -51l-11 5M90 25l-11 6M-71 -51l-6 -11M-15 -91l5 -11M21 130l-12 -2M34 -20l-10 -8M45 -19l12 4M95 -30l-9 8" stroke="#7e1418" stroke-width="15" stroke-linecap="round"/></g><g id="lobe2"><circle r="147" fill="#f1c0ba"/><path d="M50 -114h0M36 -36h0M135 -12h6M-21 -99h0M-59 -38h10M91 17h0M85 33h10M2 -38h0M-133 -41h0M66 -52h0M2 116h0M-60 60h10M-99 -65h0M-17 -110h0M-65 -73h10M41 -44h0M21 35h0M88 -59h0M21 12h6M-93 22h0M-39 -120h0M-77 -91h10M-51 -85h6M57 111h10M-42 13h0M96 12h0M61 96h0M126 22h0M91 -40h0M-3 -120h10M28 17h0M43 20h0M-60 -50h10M65 123h0M-3 122h0M58 49h0M-93 -74h6M94 -92h0M-63 -78h0M129 -39h0M105 -6h0M46 -120h6M-76 -70h0M-23 0h6M22 -11h0M-1 -14h0M81 -108h0M23 52h6M55 -45h0M-7 -129h0M5 -100h0M24 62h6M13 -71h10M87 -39h10M-3 111h10" stroke="#aa86ca" stroke-width="19" stroke-linecap="round"/><path d="M-39 109h0M47 -121h0M116 76h0M12 128h0M108 84h0M73 60h0M-107 24h0M-138 1h0" stroke="#ef8fa3" stroke-width="15" stroke-linecap="round"/><path d="M42 30l7 9M31 -77l4 5M42 14l7 5M-120 -1l4 9M-26 -59l4 0M52 97l7 5M55 -100l0 5M0 -122l0 0M-114 -53l7 0" stroke="#9ccbee" stroke-width="16" stroke-linecap="round"/><path d="M0 82l0 12M-42 37l-7 -10M-97 81l11 6M-95 -51l3 12M-12 -41l-1 -12M88 76l8 -10M-69 43l3 -12M94 -22l10 -7" stroke="#7e1418" stroke-width="15" stroke-linecap="round"/></g><g id="capsule"><circle r="432" fill="#e9eff8" stroke="#7fb2e0" stroke-width="46"/><circle r="432" fill="none" stroke="#b4d4ef" stroke-width="26"/><use href="#lobe0" transform="translate(111 192) rotate(0)"/><use href="#lobe1" transform="translate(-111 192) rotate(73)"/><use href="#lobe2" transform="translate(-222 0) rotate(146)"/><use href="#lobe0" transform="translate(-111 -192) rotate(219)"/><use href="#lobe1" transform="translate(111 -192) rotate(292)"/><use href="#lobe2" transform="translate(222 -0) rotate(365)"/><use href="#lobe1" transform="rotate(40)"/></g><radialGradient id="glow"><stop offset="0" stop-color="#f59a9a" stop-opacity="0.8"/><stop offset="1" stop-color="#f59a9a" stop-opacity="0"/></radialGradient><linearGradient id="ag1" gradientUnits="userSpaceOnUse" x1="391.4" y1="1264" x2="358.9" y2="1212.7"><stop offset="0" stop-color="rgba(120,120,120,0)"/><stop offset="1" stop-color="#252525"/></linearGradient><linearGradient id="ag2" gradientUnits="userSpaceOnUse" x1="441.5" y1="1292.9" x2="482" y2="1284.5"><stop offset="0" stop-color="rgba(120,120,120,0)"/><stop offset="1" stop-color="#252525"/></linearGradient><linearGradient id="ag3" gradientUnits="userSpaceOnUse" x1="544.3" y1="978.7" x2="608.6" y2="1005.5"><stop offset="0" stop-color="rgba(120,120,120,0)"/><stop offset="1" stop-color="#252525"/></linearGradient><linearGradient id="ag4" gradientUnits="userSpaceOnUse" x1="425.2" y1="1417.4" x2="417.9" y2="1479.8"><stop offset="0" stop-color="rgba(120,120,120,0)"/><stop offset="1" stop-color="#252525"/></linearGradient><linearGradient id="ag5" gradientUnits="userSpaceOnUse" x1="260.6" y1="1636.2" x2="285.5" y2="1684"><stop offset="0" stop-color="rgba(120,120,120,0)"/><stop offset="1" stop-color="#252525"/></linearGradient><linearGradient id="ag6" gradientUnits="userSpaceOnUse" x1="680.8" y1="1657.5" x2="782.5" y2="1653.3"><stop offset="0" stop-color="rgba(120,120,120,0)"/><stop offset="1" stop-color="#252525"/></linearGradient><linearGradient id="ag7" gradientUnits="userSpaceOnUse" x1="1477.1" y1="1121.9" x2="1504.3" y2="1053.2"><stop offset="0" stop-color="rgba(120,120,120,0)"/><stop offset="1" stop-color="#252525"/></linearGradient><linearGradient id="ag8" gradientUnits="userSpaceOnUse" x1="1833.6" y1="1023.7" x2="1919.7" y2="1097.3"><stop offset="0" stop-color="rgba(120,120,120,0)"/><stop offset="1" stop-color="#252525"/></linearGradient><linearGradient id="ag9" gradientUnits="userSpaceOnUse" x1="1960.4" y1="1510.2" x2="1928.5" y2="1568.8"><stop offset="0" stop-color="rgba(120,120,120,0)"/><stop offset="1" stop-color="#252525"/></linearGradient><linearGradient id="ag10" gradientUnits="userSpaceOnUse" x1="1596.3" y1="1609.3" x2="1516.9" y2="1590.1"><stop offset="0" stop-color="rgba(120,120,120,0)"/><stop offset="1" stop-color="#252525"/></linearGradient><path id="tp_diff" d="M1848.2 1680.4A185 185 0 0 0 2000.3 1523.1"/><path id="tp_remr" d="M1368.4 1442.1A279.7 279.7 0 0 0 1538.5 1668.9"/><path id="tp_short" d="M1327 65.1A462 462 0 0 1 1527.9 510.1"/><path id="tp_unlim" d="M207.1 1699.9A453 453 0 0 1 207.7 1012.6"/><path id="tp_prom" d="M1488.8 924.5A455 455 0 1 1 1770.8 1789.7"/>
</defs>
<g id="p00_circles"><circle cx="1070" cy="449" r="442.5" fill="rgba(237,242,251,0.55)" stroke="rgba(139,165,213,0.5)" stroke-width="6.3"/><path d="M1064 714.6C1051.5 714.6 1038.8 715.4 1026.4 717C1014 718.7 1001.5 721 989.5 724.3C977.4 727.6 965.5 731.7 954.1 736.7C942.7 741.7 931.6 747.6 921.2 754.3C910.8 761 900.9 768.6 891.8 776.7C882.6 784.8 874.1 793.8 866.3 802.9C858.5 812.1 851.5 821.9 844.9 831.7C838.4 841.5 832.6 851.6 826.9 861.5C821.3 871.5 816.3 881.5 811.2 891.3C806.1 901.1 801.3 910.9 796.5 920.5C791.6 930.2 786.8 939.7 781.9 949.4C777.1 959.1 772.2 968.7 767.5 978.7C762.8 988.6 758 998.6 753.8 1009.1C749.6 1019.5 745.4 1030.2 742.1 1041.2C738.8 1052.2 735.8 1063.5 733.8 1075C731.8 1086.5 730.5 1098.3 730 1110.1C729.6 1121.9 730 1133.9 731.3 1145.7C732.5 1157.6 734.6 1169.5 737.4 1181.1C740.2 1192.8 743.8 1204.4 748 1215.7C752.2 1227 757.2 1238.1 762.7 1249C768.1 1259.8 774.2 1270.5 780.9 1280.7C787.6 1290.9 794.9 1300.8 802.8 1310.2C810.6 1319.6 819.1 1328.7 828.1 1337C837.1 1345.3 846.8 1353.1 856.9 1360.1C867 1367 877.7 1373.3 888.6 1378.8C899.6 1384.2 911 1388.8 922.5 1392.8C934 1396.7 945.9 1399.7 957.7 1402.3C969.5 1404.8 981.4 1406.5 993.2 1408C1005.1 1409.4 1016.9 1410.2 1028.7 1410.9C1040.5 1411.5 1052.2 1411.7 1064 1411.7C1075.8 1411.7 1087.5 1411.5 1099.3 1410.9C1111.1 1410.2 1122.9 1409.4 1134.8 1408C1146.6 1406.5 1158.5 1404.8 1170.3 1402.3C1182.1 1399.7 1194 1396.7 1205.5 1392.8C1217 1388.8 1228.4 1384.2 1239.4 1378.8C1250.3 1373.3 1261 1367 1271.1 1360.1C1281.2 1353.1 1290.9 1345.3 1299.9 1337C1308.9 1328.7 1317.4 1319.6 1325.2 1310.2C1333.1 1300.8 1340.4 1290.9 1347.1 1280.7C1353.8 1270.5 1359.9 1259.8 1365.3 1249C1370.8 1238.1 1375.8 1227 1380 1215.7C1384.2 1204.4 1387.8 1192.8 1390.6 1181.1C1393.4 1169.5 1395.5 1157.6 1396.7 1145.7C1398 1133.9 1398.4 1121.9 1398 1110.1C1397.5 1098.3 1396.2 1086.5 1394.2 1075C1392.2 1063.5 1389.2 1052.2 1385.9 1041.2C1382.6 1030.2 1378.4 1019.5 1374.2 1009.1C1370 998.6 1365.2 988.6 1360.5 978.7C1355.8 968.7 1350.9 959.1 1346.1 949.4C1341.2 939.7 1336.4 930.2 1331.5 920.5C1326.7 910.9 1321.9 901.1 1316.8 891.3C1311.7 881.5 1306.7 871.5 1301.1 861.5C1295.4 851.6 1289.6 841.5 1283.1 831.7C1276.5 821.9 1269.5 812.1 1261.7 802.9C1253.9 793.8 1245.4 784.8 1236.2 776.7C1227.1 768.6 1217.2 761 1206.8 754.3C1196.4 747.6 1185.3 741.7 1173.9 736.7C1162.5 731.7 1150.6 727.6 1138.5 724.3C1126.5 721 1114 718.7 1101.6 717C1089.2 715.4 1076.5 714.6 1064 714.6Z" fill="rgba(237,242,251,0.55)" stroke="rgba(139,165,213,0.5)" stroke-width="5"/><circle cx="502.5" cy="1356.5" r="442.5" fill="rgba(237,242,251,0.55)" stroke="rgba(139,165,213,0.5)" stroke-width="6.3"/><circle cx="1631.7" cy="1356.5" r="442.9" fill="rgba(237,242,251,0.55)" stroke="rgba(139,165,213,0.5)" stroke-width="6.3"/></g><g id="p05_defs"></g><g id="p06_bag"></g><g id="p10_top"><g transform="translate(883.1 -6.4) scale(0.2589)"><use href="#silh" opacity="0.3"/><use href="#orgCol"/></g><g transform="translate(680 220) scale(0.2154)"><use href="#silh" opacity="0.4"/><use href="#orgGrey"/></g><path d="M1226.4 318C1226.8 330.2 1230.1 372.7 1229 391C1227.9 409.3 1227 418 1219.8 427.6C1212.6 437.2 1200.3 443.9 1186 448.5C1171.7 453.1 1151.2 455.9 1133.8 455C1116.4 454.1 1095.1 449.6 1081.6 443.3C1068.1 437 1059.5 428.1 1053 417.2C1046.5 406.3 1045.1 393.3 1042.5 378.1C1039.9 362.9 1038.6 339 1037.3 326C1036 313 1035.1 304.3 1034.7 300" fill="none" stroke="#86b9c8" stroke-width="4.4" stroke-linecap="round"/><path d="M1226.4 318C1226.8 330.2 1230.1 372.7 1229 391C1227.9 409.3 1227 418 1219.8 427.6C1212.6 437.2 1200.3 443.9 1186 448.5C1171.7 453.1 1151.2 455.9 1133.8 455C1116.4 454.1 1095.1 449.6 1081.6 443.3C1068.1 437 1059.5 428.1 1053 417.2C1046.5 406.3 1045.1 393.3 1042.5 378.1C1039.9 362.9 1038.6 339 1037.3 326C1036 313 1035.1 304.3 1034.7 300" fill="none" stroke="#b5d6df" stroke-width="1.8"/><use href="#ivbag" transform="translate(1150 50) scale(0.15873 0.15873)"/><g transform="translate(700 520) scale(0.1734)"><path d="M1700 310C1721.7 317.5 1744.2 336.7 1750 360C1755.8 383.3 1750 416.7 1735 450C1720 483.3 1689.2 521.7 1660 560C1630.8 598.3 1596.7 645 1560 680C1523.3 715 1483.3 745 1440 770C1396.7 795 1353.3 814.2 1300 830C1246.7 845.8 1170 861.7 1120 865C1070 868.3 1036.7 844.2 1000 850C963.3 855.8 918.3 881.7 900 900C881.7 918.3 885 940 890 960C895 980 920.8 996.7 930 1020C939.2 1043.3 947.5 1071.7 945 1100C942.5 1128.3 929.2 1163.3 915 1190C900.8 1216.7 885.8 1243.3 860 1260C834.2 1276.7 796.7 1286.7 760 1290C723.3 1293.3 673.3 1288.3 640 1280C606.7 1271.7 583.3 1260 560 1240C536.7 1220 518.3 1186.7 500 1160C481.7 1133.3 462.5 1110 450 1080C437.5 1050 426.7 1013.3 425 980C423.3 946.7 436.7 910 440 880C443.3 850 440 825 445 800C450 775 457.5 753.3 470 730C482.5 706.7 498.3 681.7 520 660C541.7 638.3 570 616.7 600 600C630 583.3 666.7 571.7 700 560C733.3 548.3 766.7 535.8 800 530C833.3 524.2 866.7 526.7 900 525C933.3 523.3 966.7 524.2 1000 520C1033.3 515.8 1066.7 508.3 1100 500C1133.3 491.7 1161.7 479.2 1200 470C1238.3 460.8 1288.3 455 1330 445C1371.7 435 1413.3 425.8 1450 410C1486.7 394.2 1521.7 365.8 1550 350C1578.3 334.2 1595 321.7 1620 315C1645 308.3 1678.3 302.5 1700 310Z" fill="#f0c896" stroke="#e6b982" stroke-width="10"/><path d="M1153 699h9M1516 574h24M1080 562h26M823 807h17M1370 516h23M1065 647h7M483 912h6M568 834h11M739 605h13M504 924h19M757 757h23M670 1052h24M1490 543h10M553 898h15M530 1037h11M1493 648h9M809 866h6M1644 462h5M1412 478h14M1634 421h9M1601 426h12M784 573h21M491 783h6M1557 394h21M678 632h8M495 924h29M1035 550h22M782 888h30M772 764h8M846 831h30M1298 678h5M877 1145h5M756 913h29M631 703h9M688 883h15M832 572h30M1354 511h23M1163 781h28M1529 595h16M864 682h7M1428 599h26M623 673h25M1031 616h10M665 852h23M605 779h13M752 1063h16M625 888h26M574 1073h28M1334 603h26M1076 823h19M1280 745h23M800 954h9M875 631h16M1405 646h30M1137 723h25M1005 756h6M1018 664h17M701 1077h9M647 790h6M1371 544h6M1494 594h30M1091 782h11M1456 704h28M668 1095h19M882 1114h21M1366 689h20M849 898h30M867 672h7M873 615h19M532 946h12M701 1143h21M1518 420h5M538 765h12M569 785h26M811 1236h19M1504 511h22M1227 519h16M737 740h13M1662 490h8M699 791h6M614 745h18M801 677h30M802 763h16M1494 601h12M997 641h6M1021 566h26M1107 673h25M1149 709h16M1116 713h12M1071 584h27M1311 673h21M837 648h25M945 586h9M978 715h7M1698 377h13M808 858h10M623 1001h27M497 1054h10M882 1043h30M1011 709h22M1029 686h29M1549 485h10M547 839h19M856 888h11M1383 647h27M1531 591h14M1469 482h24M1125 742h24M1367 664h14M917 673h19M840 745h16M1527 489h13M1413 624h5" stroke="#f7dcb4" stroke-width="30" stroke-linecap="round" opacity="0.9"/><path d="M740 843h16M1589 405h9M1350 629h22M814 1063h8M773 985h15M1231 583h20M774 1081h8M1319 529h10M983 818h13M687 1175h18M759 1154h20M853 1113h6M941 608h13M1356 722h18M987 727h5M615 1068h6M566 1043h22M640 797h20M902 625h9M607 919h6M703 883h20M981 604h10M1405 662h13M516 798h8M573 994h23M688 1076h11M604 1086h24M689 995h12M1378 669h16M1199 803h25M549 775h10M1551 422h17M728 1073h20M546 988h8M683 1081h8M1664 450h5M1563 409h13M1224 746h8M1276 644h11M1134 720h11M881 1037h14M1143 662h14M905 851h20M1496 552h9M1013 582h13M1423 572h18M843 575h6M577 929h8M737 1248h9M837 945h9M1138 743h22M844 1133h9M853 806h16M1025 778h22M524 813h6M849 587h5M805 937h7" stroke="#e9bd88" stroke-width="22" stroke-linecap="round" opacity="0.6"/><path d="M390 885C470 880 560 860 700 800S900 760 1000 720S1200 650 1330 640S1560 540 1670 395M700 800C600 880 560 1020 430 1150M610 930C560 1000 550 1080 560 1180M640 900C700 905 760 895 800 885M600 1030C660 1030 700 1000 730 960M520 880C560 840 590 800 600 770M650 690C690 680 720 700 720 770M760 650C720 690 715 740 720 780M920 640C900 700 890 730 880 765M1040 720C1080 740 1100 780 1120 810M1090 590C1060 640 1050 680 1045 705M1260 560C1250 600 1255 630 1250 655M1370 540C1350 580 1355 610 1370 625M1500 480C1470 520 1475 560 1480 580M1610 370C1590 420 1590 450 1600 480M1330 640C1380 650 1420 640 1440 625" fill="none" stroke="#c8966a" stroke-width="13" stroke-linecap="round"/></g><g transform="translate(1150 460) scale(0.16861)"><circle cx="615" cy="235" r="158" fill="#f9ddd3"/><circle cx="920" cy="200" r="158" fill="#f9ddd3"/><circle cx="1170" cy="320" r="158" fill="#f9ddd3"/><circle cx="1300" cy="520" r="158" fill="#f9ddd3"/><circle cx="1335" cy="755" r="158" fill="#f9ddd3"/><circle cx="1215" cy="970" r="158" fill="#f9ddd3"/><circle cx="1010" cy="1140" r="158" fill="#f9ddd3"/><circle cx="740" cy="1200" r="158" fill="#f9ddd3"/><circle cx="480" cy="1140" r="158" fill="#f9ddd3"/><circle cx="290" cy="960" r="158" fill="#f9ddd3"/><circle cx="230" cy="700" r="158" fill="#f9ddd3"/><circle cx="365" cy="430" r="158" fill="#f9ddd3"/><circle cx="760" cy="700" r="470" fill="#f9ddd3"/><g transform="translate(615 235) rotate(0)"><use href="#acin"/></g><g transform="translate(920 200) rotate(17)"><use href="#acin"/></g><g transform="translate(1170 320) rotate(34)"><use href="#acin"/></g><g transform="translate(1300 520) rotate(51)"><use href="#acin"/></g><g transform="translate(1335 755) rotate(68)"><use href="#acin"/></g><g transform="translate(1215 970) rotate(85)"><use href="#acin"/></g><g transform="translate(1010 1140) rotate(102)"><use href="#acin"/></g><g transform="translate(740 1200) rotate(119)"><use href="#acin"/></g><g transform="translate(480 1140) rotate(136)"><use href="#acin"/></g><g transform="translate(290 960) rotate(153)"><use href="#acin"/></g><g transform="translate(230 700) rotate(170)"><use href="#acin"/></g><g transform="translate(365 430) rotate(187)"><use href="#acin"/></g><path d="M545 372L574 350L575 334L530 360ZM953 344L948 341L896 313L910 348L922 352ZM499 414L488 389L469 404L454 418ZM618 368L574 350L545 372L544 391L576 425L614 388ZM739 375L696 343L653 348L652 349L672 401L727 405L735 399ZM809 351L767 350L739 375L735 399L761 417L813 382ZM828 415L875 404L879 371L820 341L809 351L813 382ZM910 348L879 371L875 404L880 411L933 397L922 352ZM922 352L933 397L960 429L994 393L996 374L953 344ZM994 393L1033 420L1050 416L1049 416L1000 377L996 374ZM422 473L452 444L451 421L421 450L409 468ZM452 444L487 471L506 445L503 416L499 414L454 418L451 421ZM710 459L727 405L672 401L651 432L649 441L686 464ZM761 417L784 443L822 426L828 415L813 382ZM875 404L828 415L822 426L857 481L872 476L890 437L880 411ZM880 411L890 437L954 439L958 436L960 429L933 397ZM1033 420L994 393L960 429L958 436L995 466L1022 463ZM404 528L438 493L422 473L409 468L386 501ZM452 444L422 473L438 493L459 502L486 494L487 471ZM649 441L615 460L614 488L649 523L672 508L686 464ZM750 499L774 515L833 511L834 507L783 444L749 492ZM783 444L834 507L857 481L822 426L784 443ZM954 439L890 437L872 476L926 505L927 504ZM1020 535L1054 509L1031 470L1022 463L995 466L986 507L1014 534ZM459 502L438 493L404 528L405 563L435 566L440 564ZM517 519L486 494L459 502L440 564L494 571L522 553ZM581 553L590 504L546 495L517 519L522 553L552 571ZM590 504L581 553L620 557L646 547L649 523L614 488ZM672 508L649 523L646 547L674 578L713 563L720 525ZM720 525L713 563L740 580L773 542L774 515L750 499ZM838 526L833 511L774 515L773 542L806 585L812 584ZM872 476L857 481L834 507L833 511L838 526L880 553L911 539L926 505ZM948 512L927 504L926 505L911 539L939 574L970 571L972 567ZM1014 534L986 507L948 512L972 567ZM1072 510L1054 509L1020 535L1041 589L1047 589L1088 565ZM1149 555L1183 578L1179 566L1152 525ZM374 597L375 578L371 576L354 578L342 632L349 635ZM446 622L435 566L405 563L375 578L374 597L401 625ZM524 635L565 614L552 571L522 553L494 571L488 630ZM620 557L611 618L653 613L672 589L674 578L646 547ZM876 602L880 553L838 526L812 584L852 614ZM988 606L970 571L939 574L914 614L915 617L956 638ZM1041 589L1020 535L1014 534L972 567L970 571L988 606L1020 612ZM1088 565L1047 589L1089 627L1121 601L1121 579ZM1149 555L1121 579L1121 601L1158 640L1193 620L1195 616L1194 606L1183 578ZM407 657L401 625L374 597L349 635L348 667L372 692ZM494 674L526 670L524 635L488 630L477 637ZM784 661L784 661L768 610L753 604L714 632L706 665L721 677ZM852 614L812 584L806 585L768 610L784 661L843 646ZM863 675L899 667L915 617L914 614L876 602L852 614L843 646ZM959 657L986 678L1029 645L1020 612L988 606L956 638ZM378 719L372 692L348 667L340 668L338 700L341 737ZM448 699L484 715L494 674L477 637L461 640L445 661ZM547 695L526 670L494 674L484 715L487 718L504 725ZM589 640L556 695L590 733L612 718L624 674ZM706 665L671 670L666 719L728 722L728 722L721 677ZM856 721L863 675L843 646L784 661L784 661L792 702L834 734ZM899 667L863 675L856 721L904 737L926 710L925 685ZM925 685L926 710L988 718L992 716L986 678L959 657ZM992 716L1019 727L1033 721L1058 664L1029 645L986 678ZM1069 733L1110 691L1109 682L1079 661L1058 664L1033 721ZM1186 706L1186 696L1154 656L1109 682L1110 691L1129 720ZM1186 696L1186 706L1200 737L1208 734L1212 700L1210 680ZM484 715L448 699L393 729L413 777L417 780L443 776L487 718ZM487 718L443 776L485 793L521 763L504 725ZM586 754L617 780L664 752L660 729L612 718L590 733ZM664 752L697 778L728 722L666 719L660 729ZM751 729L728 722L728 722L697 778L698 779L730 789L770 769ZM792 702L751 729L770 769L801 781L827 755L834 734ZM988 718L926 710L904 737L916 761L919 766L963 756ZM1022 782L1019 727L992 716L988 718L963 756L997 804ZM1019 727L1022 782L1066 792L1092 775L1069 733L1033 721ZM1194 760L1200 737L1186 706L1129 720L1130 762L1183 768ZM345 779L353 816L407 780ZM443 776L417 780L422 831L470 850L492 823L485 793ZM617 780L627 816L631 819L678 815L698 779L697 778L664 752ZM730 789L748 831L780 837L802 827L801 781L770 769ZM801 781L802 827L826 843L871 818L862 786L827 755ZM916 761L862 786L871 818L908 825L924 814L919 766ZM1032 858L1064 834L1066 792L1022 782L997 804L994 809ZM1110 777L1092 775L1066 792L1064 834L1100 849L1128 831ZM414 884L443 909L476 877L470 850L422 831L411 846ZM470 850L476 877L515 892L542 875L532 833L492 823ZM580 867L637 884L631 819L627 816L594 830ZM702 861L678 815L631 819L637 884L639 885L679 889L700 880ZM717 894L765 884L780 837L748 831L702 861L700 880ZM834 870L826 843L802 827L780 837L765 884L789 908ZM903 860L908 825L871 818L826 843L834 870L858 891ZM1043 885L1096 881L1100 849L1064 834L1032 858L1030 872ZM1154 841L1128 831L1100 849L1096 881L1114 906L1163 875L1166 868ZM1180 810L1154 841L1166 868L1183 836L1190 814ZM442 938L443 909L414 884L379 899L397 932L424 950ZM513 945L515 892L476 877L443 909L442 938L461 946L508 952ZM639 885L617 925L667 948L679 889ZM940 899L903 860L858 891L862 907L907 932L936 919ZM1014 953L1052 918L1043 885L1030 872L1004 885L997 927ZM1114 906L1111 929L1122 937L1151 897L1163 875ZM465 995L461 946L442 938L424 950L417 964L448 997ZM593 939L587 935L513 945L508 952L516 983L563 1000L597 978ZM667 948L617 925L593 939L597 978L619 992L653 978L670 954ZM728 933L712 962L723 1000L744 1014L774 998L787 974L793 946L788 941ZM787 974L851 1004L862 986L834 944L793 946ZM907 932L862 907L834 944L862 986L896 977ZM907 932L896 977L924 1002L962 971L943 925L936 919ZM943 925L962 971L993 978L1014 960L1014 953L997 927ZM1091 938L1052 918L1014 953L1014 960L1059 987L1072 985ZM1111 929L1091 938L1072 985L1075 989L1111 952L1122 937ZM516 983L494 1016L492 1028L540 1055L546 1058L560 1052L563 1000ZM631 1037L653 1053L688 1012L653 978L619 992ZM653 1053L655 1057L709 1067L744 1017L744 1014L723 1000L688 1012ZM896 977L862 986L851 1004L849 1016L890 1058L929 1028L924 1002ZM581 1070L641 1082L650 1083L655 1057L653 1053L631 1037L576 1059ZM757 1090L765 1090L820 1089L824 1084L812 1064L770 1060ZM812 1064L824 1084L839 1088L883 1083L885 1082L890 1058L849 1016L823 1031ZM890 1058L885 1082L885 1083L889 1082L951 1066L963 1061L961 1043L929 1028Z" fill="#fde4a0" stroke="#ecc46e" stroke-width="3" stroke-linejoin="round"/><path d="M652 349L653 348L646 325L623 313L578 333L575 334L574 350L618 368ZM696 343L718 291L710 289L700 290L656 302L646 325L653 348ZM820 341L834 298L822 290L772 284L756 284L743 285L767 350L809 351ZM651 432L672 401L652 349L618 368L614 388ZM503 416L506 445L550 459L578 435L576 425L544 391ZM576 425L578 435L615 460L649 441L651 432L614 388ZM735 399L727 405L710 459L749 492L783 444L784 443L761 417ZM1033 420L1022 463L1031 470L1078 442L1078 442L1050 416ZM546 495L590 504L614 488L615 460L578 435L550 459ZM371 576L375 578L405 563L404 528L386 501L383 505L360 558ZM1149 555L1152 525L1141 508L1139 506L1104 490L1072 510L1088 565L1121 579ZM477 637L488 630L494 571L440 564L435 566L446 622L461 640ZM753 604L740 580L713 563L674 578L672 589L714 632ZM773 542L740 580L753 604L768 610L806 585ZM939 574L911 539L880 553L876 602L914 614ZM587 632L565 614L524 635L526 670L547 695L556 695L589 640ZM915 617L899 667L925 685L959 657L956 638ZM1058 664L1079 661L1089 627L1047 589L1041 589L1020 612L1029 645ZM1121 601L1089 627L1079 661L1109 682L1154 656L1158 640ZM1193 620L1158 640L1154 656L1186 696L1210 680L1205 640ZM827 755L862 786L916 761L904 737L856 721L834 734ZM1129 720L1110 691L1069 733L1092 775L1110 777L1130 762ZM422 831L417 780L413 777L407 780L353 816L356 833L362 851L411 846ZM485 793L492 823L532 833L552 806L551 776L521 763ZM730 789L698 779L678 815L702 861L748 831ZM997 804L963 756L919 766L924 814L958 825L994 809ZM1194 760L1183 768L1180 810L1190 814L1204 770L1204 766ZM532 833L542 875L561 879L580 867L594 830L552 806ZM515 892L513 945L587 935L561 879L542 875ZM561 879L587 935L593 939L617 925L639 885L637 884L580 867ZM679 889L667 948L670 954L712 962L728 933L717 894L700 880ZM789 908L765 884L717 894L728 933L788 941ZM834 870L789 908L788 941L793 946L834 944L862 907L858 891ZM1004 885L965 876L940 899L936 919L943 925L997 927ZM1114 906L1096 881L1043 885L1052 918L1091 938L1111 929ZM494 1016L516 983L508 952L461 946L465 995ZM448 997L457 1008L490 1030L492 1028L494 1016L465 995ZM597 978L563 1000L560 1052L576 1059L631 1037L619 992ZM744 1014L744 1017L770 1060L812 1064L823 1031L774 998ZM774 998L823 1031L849 1016L851 1004L787 974ZM929 1028L961 1043L994 1025L993 978L962 971L924 1002ZM1059 987L1014 960L993 978L994 1025L1017 1034L1041 1017ZM994 1025L961 1043L963 1061L1011 1038L1017 1034Z" fill="#eba8bf" stroke="#cf7f9c" stroke-width="3" stroke-linejoin="round"/><path d="M743 285L728 287L718 291L696 343L739 375L767 350ZM896 313L892 311L864 301L836 297L834 298L820 341L879 371L910 348ZM499 414L503 416L544 391L545 372L530 360L522 365L488 389ZM986 507L995 466L958 436L954 439L927 504L948 512ZM445 661L461 640L446 622L401 625L407 657ZM671 670L653 613L611 618L587 632L589 640L624 674ZM706 665L714 632L672 589L653 613L671 670L671 670ZM393 729L448 699L445 661L407 657L372 692L378 719ZM612 718L660 729L666 719L671 670L671 670L624 674ZM784 661L721 677L728 722L751 729L792 702ZM551 776L552 806L594 830L627 816L617 780L586 754ZM670 954L653 978L688 1012L723 1000L712 962ZM770 1060L744 1017L709 1067L719 1088L757 1090Z" fill="#cdb2e6" stroke="#9f7fc8" stroke-width="3" stroke-linejoin="round"/><path d="M506 445L487 471L486 494L517 519L546 495L550 459ZM710 459L686 464L672 508L720 525L750 499L749 492ZM1104 490L1103 478L1078 442L1031 470L1054 509L1072 510ZM587 632L611 618L620 557L581 553L552 571L565 614ZM341 737L343 767L345 779L407 780L413 777L393 729L378 719ZM547 695L504 725L521 763L551 776L586 754L590 733L556 695ZM1130 762L1110 777L1128 831L1154 841L1180 810L1183 768ZM362 851L378 897L379 899L414 884L411 846ZM958 825L924 814L908 825L903 860L940 899L965 876ZM1030 872L1032 858L994 809L958 825L965 876L1004 885ZM709 1067L655 1057L650 1083L704 1088L719 1088Z" fill="#9fd2a8" stroke="#5fae74" stroke-width="3" stroke-linejoin="round"/><path d="M554 354h0M920 336h0M479 406h0M579 383h0M695 375h0M773 379h0M842 379h0M903 381h0M958 382h0M1017 399h0M433 449h0M479 437h0M688 430h0M797 414h0M858 438h0M920 421h0M998 432h0M410 496h0M457 475h0M648 479h0M788 488h0M822 463h0M913 464h0M1017 497h0M429 531h0M482 535h0M553 530h0M614 527h0M682 541h0M743 538h0M804 540h0M878 514h0M940 541h0M979 532h0M1054 547h0M1162 552h0M358 601h0M410 594h0M523 597h0M640 584h0M849 572h0M951 603h0M1006 576h0M1089 593h0M1157 597h0M375 645h0M504 651h0M745 643h0M809 622h0M878 637h0M992 639h0M354 702h0M469 675h0M512 696h0M591 688h0M696 695h0M826 686h0M891 700h0M958 691h0M1020 686h0M1070 696h0M1146 690h0M1200 708h0M437 738h0M485 758h0M623 746h0M690 741h0M734 758h0M792 741h0M942 735h0M996 757h0M1050 758h0M1163 738h0M368 791h0M453 811h0M656 788h0M770 803h0M831 801h0M896 796h0M1033 815h0M1093 812h0M441 868h0M506 857h0M612 851h0M664 852h0M740 863h0M798 865h0M867 851h0M1065 862h0M1128 865h0M1171 836h0M414 915h0M481 917h0M651 913h0M900 898h0M1022 910h0M1131 907h0M444 966h0M555 965h0M626 958h0M751 969h0M824 970h0M871 947h0M927 960h0M980 949h0M1054 953h0M1096 954h0M531 1020h0M650 1013h0M700 1034h0M889 1014h0M620 1061h0M790 1076h0M849 1057h0M924 1055h0" stroke="#f0b040" stroke-width="13" stroke-linecap="round" fill="none"/><path d="M614 341h0M679 318h0M789 315h0M643 388h0M539 427h0M613 427h0M744 445h0M1045 441h0M580 472h0M384 544h0M1113 533h0M465 598h0M712 594h0M770 579h0M904 577h0M553 652h0M927 651h0M1053 628h0M1117 643h0M1184 657h0M869 752h0M1103 737h0M390 819h0M520 798h0M711 818h0M953 791h0M1190 784h0M560 843h0M544 912h0M598 899h0M697 923h0M755 912h0M823 912h0M971 903h0M1080 907h0M487 976h0M473 1010h0M592 1019h0M784 1032h0M812 1003h0M961 1007h0M1019 997h0M984 1041h0" stroke="#e0709a" stroke-width="13" stroke-linecap="round" fill="none"/><path d="M732 330h0M864 332h0M518 387h0M962 479h0M429 640h0M631 643h0M682 633h0M410 690h0M643 698h0M755 694h0M587 793h0M689 981h0M740 1060h0" stroke="#9a6cc0" stroke-width="13" stroke-linecap="round" fill="none"/><path d="M517 480h0M709 492h0M1069 478h0M588 588h0M373 754h0M548 736h0M1148 796h0M390 869h0M934 853h0M992 850h0M681 1074h0" stroke="#4f9a64" stroke-width="13" stroke-linecap="round" fill="none"/><ellipse cx="448" cy="851" rx="35" ry="29" transform="rotate(15 448 851)" fill="#96232d" stroke="#c4525a" stroke-width="7.6"/><ellipse cx="521" cy="801" rx="42" ry="24" transform="rotate(83 521 801)" fill="#96232d" stroke="#c4525a" stroke-width="7.6"/><ellipse cx="506" cy="953" rx="34" ry="19" transform="rotate(16 506 953)" fill="#96232d" stroke="#c4525a" stroke-width="7.6"/><ellipse cx="571" cy="612" rx="40" ry="20" transform="rotate(162 571 612)" fill="#96232d" stroke="#c4525a" stroke-width="7.6"/><ellipse cx="393" cy="783" rx="50" ry="22" transform="rotate(68 393 783)" fill="#96232d" stroke="#c4525a" stroke-width="7.6"/><ellipse cx="942" cy="684" rx="59" ry="25" transform="rotate(117 942 684)" fill="#96232d" stroke="#c4525a" stroke-width="7.6"/><ellipse cx="1164" cy="677" rx="61" ry="25" transform="rotate(35 1164 677)" fill="#96232d" stroke="#c4525a" stroke-width="7.6"/><ellipse cx="975" cy="993" rx="39" ry="28" transform="rotate(51 975 993)" fill="#96232d" stroke="#c4525a" stroke-width="7.6"/><ellipse cx="456" cy="899" rx="51" ry="26" transform="rotate(18 456 899)" fill="#96232d" stroke="#c4525a" stroke-width="7.6"/><path d="M770 990C800 930 880 920 900 960C860 970 830 990 800 1030Z" fill="#96232d" stroke="#c4525a" stroke-width="8"/><ellipse cx="555" cy="375" rx="42" ry="24" transform="rotate(-20 555 375)" fill="#96232d" stroke="#c4525a" stroke-width="7"/><ellipse cx="510" cy="480" rx="42" ry="24" transform="rotate(30 510 480)" fill="#96232d" stroke="#c4525a" stroke-width="7"/><ellipse cx="1020" cy="300" rx="42" ry="24" transform="rotate(-30 1020 300)" fill="#96232d" stroke="#c4525a" stroke-width="7"/><ellipse cx="395" cy="1030" rx="42" ry="24" transform="rotate(-50 395 1030)" fill="#96232d" stroke="#c4525a" stroke-width="7"/><ellipse cx="1240" cy="655" rx="42" ry="24" transform="rotate(0 1240 655)" fill="#96232d" stroke="#c4525a" stroke-width="7"/></g><g transform="translate(1240 290) scale(0.13488)"><path d="M741 260L770 279L829 262L831 251L782 252L741 257ZM995 274L937 259L920 257L919 258L934 303L953 307L995 281ZM1046 295L995 281L953 307L987 352L1049 317ZM576 332L556 297L518 314L494 351L494 351L532 395L579 388ZM636 347L622 401L626 406L713 393L719 372L689 333L644 333ZM815 370L778 341L719 372L713 393L719 406L795 435ZM398 402L397 403L378 424L361 452L422 490L451 457L446 445ZM579 388L532 395L522 454L571 476L626 442L626 406L622 401ZM795 435L719 406L703 472L724 494L803 468ZM956 453L982 504L1034 479L1016 412L991 406L966 418ZM1016 412L1034 479L1075 505L1108 482L1102 412L1060 398ZM1075 505L1034 479L982 504L976 537L1047 557L1061 554ZM1221 511L1218 536L1273 577L1282 567L1276 544L1247 485ZM362 602L352 554L314 558L300 619L297 637L315 651ZM951 612L968 618L1009 618L1047 557L976 537L938 562ZM782 614L750 622L716 683L759 727L803 703L794 620ZM803 703L858 731L904 675L837 616L794 620ZM995 685L1030 709L1039 699L1042 652L1009 618L968 618ZM1234 625L1207 690L1276 685L1292 670L1283 611L1280 609ZM1029 712L1030 709L995 685L911 680L967 749ZM308 736L290 755L290 758L299 829L303 839L336 829L325 743ZM373 837L376 840L485 819L489 775L449 742L400 763ZM638 754L557 765L582 806L650 811L655 808ZM757 767L752 759L713 766L659 809L701 850L744 838ZM910 778L883 849L963 837L975 809L958 777ZM1157 822L1202 836L1237 812L1247 766L1205 731L1147 775ZM389 886L475 891L495 838L485 819L376 840ZM1047 886L1065 906L1129 892L1138 837L1059 833ZM392 985L405 974L383 910L337 920L363 962L384 984ZM1047 886L992 896L985 968L1042 988L1069 969L1065 906ZM645 1051L649 1045L606 978L600 975L538 997L528 1031L568 1065ZM1098 974L1069 969L1042 988L1040 1042L1057 1029L1105 989ZM768 1122L741 1104L688 1127L689 1139L702 1142L763 1144ZM897 1082L838 1117L843 1136L860 1133L927 1110Z" fill="#e3999f" stroke="#cf6f78" stroke-width="3" stroke-linejoin="round"/><path d="M576 332L636 347L644 333L622 278L560 295L556 297ZM644 333L689 333L719 274L648 272L633 274L622 278ZM689 333L719 372L778 341L770 279L741 260L719 274ZM860 315L832 264L829 262L770 279L778 341L815 370L819 370ZM832 264L860 315L916 319L934 303L919 258ZM494 351L494 351L464 345L428 370L399 401L398 402L446 445ZM636 347L576 332L579 388L622 401ZM905 390L916 319L860 315L819 370L893 395ZM934 303L916 319L905 390L966 418L991 406L987 352L953 307ZM987 352L991 406L1016 412L1060 398L1058 329L1049 317ZM1058 329L1060 398L1102 412L1129 394L1141 355L1106 329ZM1129 394L1187 424L1203 419L1200 415L1147 359L1141 355ZM451 457L498 468L522 454L532 395L494 351L446 445ZM719 406L713 393L626 406L626 442L650 467L703 472ZM819 370L815 370L795 435L803 468L825 485L863 473L893 395ZM863 473L901 485L956 453L966 418L905 390L893 395ZM1102 412L1108 482L1122 487L1174 475L1187 424L1129 394ZM1187 424L1174 475L1221 511L1247 485L1243 477L1203 419ZM352 554L358 547L339 490L316 552L314 558ZM358 547L410 533L422 490L361 452L341 486L339 490ZM422 490L410 533L465 571L501 553L498 468L451 457ZM571 476L577 522L638 530L650 467L626 442ZM703 472L650 467L638 530L639 532L689 552L720 518L724 494ZM724 494L720 518L780 569L825 495L825 485L803 468ZM825 485L825 495L870 570L935 561L901 485L863 473ZM1075 505L1061 554L1110 603L1149 538L1122 487L1108 482ZM1174 475L1122 487L1149 538L1208 543L1218 536L1221 511ZM559 622L567 596L547 563L501 553L465 571L459 602L508 641ZM613 596L639 532L638 530L577 522L547 563L567 596ZM650 621L694 592L689 552L639 532L613 596ZM780 569L720 518L689 552L694 592L750 622L782 614ZM837 616L870 570L825 495L780 569L782 614L794 620ZM870 570L837 616L904 675L904 675L951 612L938 562L935 561ZM1061 554L1047 557L1009 618L1042 652L1110 603L1110 603ZM1110 603L1139 628L1183 603L1208 543L1149 538L1110 603ZM1273 577L1218 536L1208 543L1183 603L1234 625L1280 609ZM419 649L362 602L315 651L316 659L371 687L418 663ZM444 696L502 677L508 641L459 602L419 649L418 663ZM502 677L552 712L583 689L559 622L508 641ZM583 689L640 695L646 691L650 621L613 596L567 596L559 622ZM694 592L650 621L646 691L671 693L716 683L750 622ZM911 680L995 685L968 618L951 612L904 675ZM1039 699L1118 695L1145 663L1139 628L1110 603L1042 652ZM1234 625L1183 603L1139 628L1145 663L1201 693L1207 690ZM371 687L316 659L291 698L290 709L308 736L325 743L356 732ZM400 763L449 742L444 696L418 663L371 687L356 732ZM444 696L449 742L489 775L538 750L552 712L502 677ZM583 689L552 712L538 750L557 765L638 754L640 695ZM638 754L655 808L659 809L713 766L671 693L646 691L640 695ZM759 727L752 759L757 767L826 792L858 741L858 731L803 703ZM858 731L858 741L910 778L958 777L967 749L911 680L904 675L904 675ZM1125 758L1118 695L1039 699L1030 709L1029 712L1060 773ZM1201 693L1205 731L1247 766L1275 753L1276 685L1207 690ZM325 743L336 829L373 837L400 763L356 732ZM548 853L582 806L557 765L538 750L489 775L485 819L495 838ZM826 798L826 792L757 767L744 838L784 854ZM826 792L826 798L882 849L883 849L910 778L858 741ZM958 777L975 809L1048 812L1060 773L1029 712L967 749ZM1138 837L1157 822L1147 775L1125 758L1060 773L1048 812L1059 833ZM1275 753L1247 766L1237 812L1256 821L1285 760L1286 755ZM389 886L376 840L373 837L336 829L303 839L323 898L337 920L383 910ZM475 891L488 939L505 946L573 889L548 853L495 838ZM573 889L598 897L650 811L582 806L548 853ZM698 880L701 850L659 809L655 808L650 811L598 897L600 900L649 907ZM744 838L701 850L698 880L729 930L801 896L784 854ZM801 896L831 912L873 893L882 849L826 798L784 854ZM963 837L883 849L882 849L873 893L907 913L974 882ZM992 896L1047 886L1059 833L1048 812L975 809L963 837L974 882ZM1129 892L1152 923L1196 901L1211 885L1213 882L1202 836L1157 822L1138 837ZM1237 812L1202 836L1213 882L1254 826L1256 821ZM417 976L488 939L475 891L389 886L383 910L405 974ZM600 975L600 900L598 897L573 889L505 946L538 997ZM669 954L649 907L600 900L600 975L606 978ZM720 969L729 930L698 880L649 907L669 954L716 970ZM828 956L831 912L801 896L729 930L720 969L773 997ZM873 893L831 912L828 956L863 993L930 973L907 913ZM907 913L930 973L947 983L985 968L992 896L974 882ZM1065 906L1069 969L1098 974L1149 949L1152 923L1129 892ZM390 990L416 1017L444 1038L456 1028L417 976L405 974L392 985ZM669 954L606 978L649 1045L678 1035L716 970ZM773 997L720 969L716 970L678 1035L731 1073L778 1017ZM807 1043L859 1020L863 993L828 956L773 997L778 1017ZM859 1020L898 1076L945 1029L947 983L930 973L863 993ZM1042 988L985 968L947 983L945 1029L996 1062L1017 1059L1040 1042ZM586 1112L624 1126L629 1127L646 1111L645 1051L568 1065L569 1102ZM688 1127L741 1104L731 1073L678 1035L649 1045L645 1051L646 1111ZM731 1073L741 1104L768 1122L814 1109L807 1043L778 1017ZM814 1109L838 1117L897 1082L898 1076L859 1020L807 1043ZM897 1082L927 1110L934 1108L988 1078L996 1062L945 1029L898 1076ZM838 1117L814 1109L768 1122L763 1144L782 1145L843 1136Z" fill="#fcdec3" stroke="#eb9664" stroke-width="3" stroke-linejoin="round"/><path d="M498 468L501 553L547 563L577 522L571 476L522 454ZM935 561L938 562L976 537L982 504L956 453L901 485ZM569 1102L568 1065L528 1031L495 1050L489 1069L549 1099L565 1105Z" fill="#d7c3eb" stroke="#a58fd0" stroke-width="3" stroke-linejoin="round"/><path d="M459 602L465 571L410 533L358 547L352 554L362 602L419 649ZM671 693L713 766L752 759L759 727L716 683ZM1147 775L1205 731L1201 693L1145 663L1118 695L1125 758ZM1292 670L1276 685L1275 753L1286 755L1299 688L1298 673ZM538 997L505 946L488 939L417 976L456 1028L495 1050L528 1031Z" fill="#fad778" stroke="#e4b040" stroke-width="3" stroke-linejoin="round"/><path d="M785 262h0M953 280h0M1001 313h0M541 349h0M668 369h0M767 387h0M406 447h0M573 428h0M748 452h0M994 452h0M1065 447h0M1027 519h0M1249 532h0M328 598h0M988 578h0M765 670h0M841 670h0M1010 657h0M1254 654h0M972 708h0M312 788h0M434 793h0M610 783h0M715 804h0M931 812h0M1197 786h0M438 856h0M1091 867h0M374 945h0M1028 936h0M585 1023h0M1067 998h0M730 1127h0M880 1110h0" stroke="#d06a7c" stroke-width="14" stroke-linecap="round" fill="none"/><path d="M603 312h0M668 299h0M736 316h0M812 312h0M887 287h0M446 390h0M603 365h0M874 353h0M948 363h0M1025 369h0M1095 367h0M1161 393h0M492 418h0M672 431h0M839 426h0M913 438h0M1140 442h0M1208 466h0M337 533h0M378 501h0M461 513h0M611 489h0M679 506h0M774 512h0M878 521h0M1104 538h0M1173 510h0M513 595h0M592 559h0M655 577h0M735 574h0M821 568h0M898 610h0M1056 602h0M1158 579h0M1231 585h0M367 648h0M462 652h0M542 667h0M606 643h0M691 644h0M952 655h0M1093 657h0M1185 645h0M329 702h0M405 715h0M495 723h0M592 727h0M668 747h0M804 746h0M912 735h0M1080 730h0M1242 720h0M359 782h0M530 802h0M779 810h0M868 792h0M1010 770h0M1103 800h0M1258 784h0M348 872h0M516 889h0M595 845h0M653 864h0M745 880h0M833 859h0M922 872h0M1010 849h0M1169 870h0M1225 841h0M432 925h0M561 944h0M627 938h0M691 926h0M778 945h0M874 943h0M954 932h0M1106 932h0M421 1003h0M661 994h0M729 1019h0M819 1002h0M905 1017h0M994 1014h0M610 1087h0M686 1083h0M775 1075h0M847 1069h0M944 1070h0M802 1128h0" stroke="#f2b896" stroke-width="14" stroke-linecap="round" fill="none"/><path d="M534 508h0M944 506h0M533 1067h0" stroke="#b59ad8" stroke-width="14" stroke-linecap="round" fill="none"/><path d="M408 585h0M718 723h0M1158 717h0M1285 709h0M483 993h0" stroke="#d89a30" stroke-width="14" stroke-linecap="round" fill="none"/><ellipse cx="686" cy="862" rx="32" ry="23" transform="rotate(25 686 862)" fill="#78141e" stroke="#b43a44" stroke-width="8.3"/><ellipse cx="1054" cy="382" rx="55" ry="22" transform="rotate(133 1054 382)" fill="#78141e" stroke="#b43a44" stroke-width="8.3"/><ellipse cx="830" cy="651" rx="69" ry="22" transform="rotate(74 830 651)" fill="#78141e" stroke="#b43a44" stroke-width="8.3"/><ellipse cx="696" cy="428" rx="43" ry="32" transform="rotate(59 696 428)" fill="#78141e" stroke="#b43a44" stroke-width="8.3"/><ellipse cx="501" cy="444" rx="50" ry="32" transform="rotate(105 501 444)" fill="#78141e" stroke="#b43a44" stroke-width="8.3"/><ellipse cx="1136" cy="568" rx="62" ry="32" transform="rotate(37 1136 568)" fill="#78141e" stroke="#b43a44" stroke-width="8.3"/><ellipse cx="1166" cy="833" rx="61" ry="29" transform="rotate(39 1166 833)" fill="#78141e" stroke="#b43a44" stroke-width="8.3"/><ellipse cx="485" cy="823" rx="29" ry="25" transform="rotate(39 485 823)" fill="#78141e" stroke="#b43a44" stroke-width="8.3"/><path d="M760 1040C770 960 900 940 940 985C880 1000 850 1020 820 1070Z" fill="#78141e" stroke="#b43a44" stroke-width="9"/></g><path d="M1393.1 322.5Q1399.6 322.5 1399.6 329.0L1399.6 378.25Q1399.6 380.75 1402.1 380.75Q1399.6 380.75 1399.6 383.25L1399.6 432.5Q1399.6 439 1393.1 439" fill="none" stroke="#161616" stroke-width="3.0" stroke-linecap="round" stroke-linejoin="round"/><path d="M1340.1 524.1Q1348.1 524.1 1348.1 532.1L1348.1 569.4Q1348.1 579.4 1358.1 579.4L1384.1 579.4M1358.1 579.4Q1348.1 579.4 1348.1 589.4L1348.1 632.4Q1348.1 640.4 1340.1 640.4" fill="none" stroke="#161616" stroke-width="3.7" stroke-linecap="round" stroke-linejoin="round"/><path d="M1283.1 643Q1289.1 643 1289.1 649L1289.1 660.6Q1289.1 668.6 1297.1 668.6L1354.1 668.6M1297.1 668.6Q1289.1 668.6 1289.1 676.6L1289.1 674Q1289.1 680 1283.1 680" fill="none" stroke="#161616" stroke-width="3.4" stroke-linecap="round" stroke-linejoin="round"/><path d="M806.6 481.3L805.4 482.5L803.9 484.1L802.2 485.9L800.2 488L798.1 490.2L795.9 492.5L793.6 494.9L791.4 497.2L789.2 499.4L787.2 501.4L785.2 503.3L783.2 505.1L781.2 506.9L779.3 508.6L777.3 510.4L775.3 512.2L773.2 514L771.2 516L769.2 518.1L767.3 520.4L765.3 522.8L763.2 525.5L761.2 528.2L759.2 531.1L757.1 534L755.2 536.9L753.2 539.9L751.4 542.8L749.6 545.7L748 548.4L746.4 551.2L744.9 553.9L743.5 556.7L742.1 559.4L740.9 562.2L739.6 564.8L738.5 567.4L737.5 569.9L736.6 572.3L735.7 574.6L735 576.7L734.4 578.6L733.9 580.5L733.5 582.3L733.1 584L732.9 585.6L732.7 587.2L732.6 588.8L732.5 590.4L732.5 592L732.6 593.7L732.7 595.3L732.9 596.9L733.2 598.5L733.5 600.1L733.9 601.7L734.4 603.2L734.9 604.7L735.5 606.2L736.1 607.6L736.7 609.1L737.4 610.4L738.1 611.8L738.9 613.2L739.7 614.5L740.7 615.9L741.8 617.2L743 618.6L744.4 619.9L746 621.3L747.7 622.6L749.7 624L751.7 625.3L753.9 626.5L756.2 627.8L758.6 629.1L761.1 630.4L763.6 631.7L766.1 633L768.5 634.3L771.1 635.7L773.7 637.1L776.4 638.6L779.2 640L782 641.5L784.8 643L787.7 644.4L790.5 645.8L793.4 647.2L796.2 648.5L799.1 649.7L802.2 651L805.5 652.3L808.1 653.2L809.5 649.3L806.9 648.4L803.7 647.2L800.7 645.9L797.8 644.7L795 643.5L792.2 642.2L789.4 640.9L786.6 639.5L783.7 638.1L780.9 636.7L778.2 635.2L775.5 633.8L772.8 632.4L770.3 631.1L767.7 629.8L765.2 628.5L762.7 627.2L760.3 626L757.9 624.8L755.6 623.5L753.5 622.3L751.5 621.1L749.7 619.9L748 618.7L746.6 617.5L745.3 616.3L744.2 615.1L743.3 613.9L742.4 612.7L741.6 611.5L740.9 610.3L740.2 609L739.6 607.7L738.9 606.4L738.3 605L737.8 603.6L737.3 602.2L736.8 600.8L736.4 599.4L736.1 598L735.9 596.5L735.7 595L735.5 593.5L735.5 592L735.4 590.4L735.5 588.9L735.6 587.5L735.7 586L735.9 584.4L736.2 582.8L736.6 581.2L737 579.4L737.6 577.5L738.3 575.4L739.1 573.2L739.9 570.9L740.9 568.4L742 565.9L743.1 563.2L744.4 560.5L745.7 557.8L747.1 555L748.5 552.3L750 549.6L751.6 546.8L753.3 544L755.1 541.1L757 538.1L758.9 535.2L760.9 532.2L762.9 529.4L764.8 526.7L766.8 524L768.7 521.6L770.6 519.4L772.6 517.3L774.5 515.3L776.4 513.5L778.4 511.7L780.4 509.9L782.3 508.1L784.3 506.3L786.3 504.5L788.2 502.6L790.3 500.5L792.4 498.2L794.6 495.9L796.9 493.5L799.1 491.1L801.2 488.9L803.1 486.8L804.8 484.9L806.3 483.3L807.4 482.1Z" fill="#252525"/><path d="M824.8 657L802.8 659.2L809.2 641.3Z" fill="#252525"/><path d="M871 666.8L875.1 666.8L880.4 666.7L886.6 666.6L893.6 666.4L901.1 666.3L909 666.1L917.1 665.9L925.1 665.8L932.8 665.5L940 665.3L947.1 665.1L954.3 664.9L961.6 664.6L968.9 664.3L976.2 664L983.4 663.7L990.5 663.4L997.3 663.1L1003.9 662.8L1010.1 662.4L1015.9 662.1L1021.3 661.7L1026.5 661.4L1031.4 661L1036.2 660.6L1040.9 660.2L1045.6 659.8L1050.3 659.4L1055.1 659L1060.1 658.5L1065.4 658L1070.8 657.5L1076.2 657L1081.8 656.4L1087.3 655.8L1092.7 655.2L1098.1 654.6L1103.2 654L1108.2 653.4L1112.9 652.8L1117.3 652.2L1121.5 651.5L1125.5 650.9L1129.4 650.2L1133.1 649.5L1136.7 648.8L1140.3 648.2L1143.7 647.4L1147.1 646.7L1150.5 646L1153.7 645.2L1156.9 644.4L1160 643.7L1163 642.9L1165.9 642L1168.8 641.2L1171.6 640.4L1174.4 639.5L1177.1 638.6L1179.9 637.7L1182.7 636.7L1185.4 635.7L1188 634.7L1190.7 633.7L1193.3 632.7L1195.9 631.6L1198.4 630.5L1201 629.4L1203.5 628.3L1206 627.1L1208.6 625.8L1211.4 624.4L1214.2 622.9L1215.4 622.3L1213.1 618.1L1211.9 618.7L1209.2 620.2L1206.5 621.6L1204 622.9L1201.5 624.1L1199.1 625.2L1196.6 626.3L1194.1 627.4L1191.6 628.5L1189 629.6L1186.4 630.6L1183.8 631.6L1181.2 632.6L1178.5 633.5L1175.8 634.5L1173 635.4L1170.3 636.3L1167.5 637.2L1164.7 638L1161.9 638.8L1158.9 639.7L1155.9 640.5L1152.8 641.2L1149.5 642L1146.2 642.8L1142.9 643.6L1139.5 644.3L1136 645L1132.4 645.8L1128.7 646.5L1124.9 647.2L1120.9 647.9L1116.7 648.5L1112.3 649.2L1107.7 649.9L1102.8 650.6L1097.6 651.2L1092.3 651.9L1086.9 652.5L1081.4 653.2L1075.9 653.8L1070.4 654.4L1065.1 654.9L1059.9 655.5L1054.8 656L1050 656.5L1045.3 657L1040.6 657.5L1036 657.9L1031.2 658.3L1026.3 658.7L1021.1 659.2L1015.7 659.6L1009.9 660L1003.7 660.4L997.2 660.8L990.4 661.2L983.3 661.6L976.1 662L968.8 662.3L961.5 662.7L954.2 663L947 663.4L940 663.7L932.7 664L925 664.2L917 664.5L909 664.8L901.1 665L893.6 665.3L886.6 665.5L880.4 665.7L875.1 665.8L871 666Z" fill="#252525"/><path d="M1229 611.8L1216.3 629.9L1206.9 613.4Z" fill="#252525"/><path d="M1281.8 590.1L1283 588.9L1284.5 587.5L1286.4 585.8L1288.5 583.9L1290.7 581.9L1293 579.7L1295.4 577.3L1297.8 574.9L1300.1 572.5L1302.2 570.1L1304.3 567.6L1306.4 565L1308.5 562.3L1310.7 559.5L1312.8 556.6L1314.9 553.7L1317 550.7L1319 547.6L1321 544.6L1322.9 541.4L1324.8 538.3L1326.7 535L1328.5 531.6L1330.2 528.2L1332 524.7L1333.7 521.2L1335.3 517.8L1337 514.4L1338.6 511.1L1340.1 507.8L1341.7 504.6L1343.2 501.4L1344.8 498.1L1346.2 494.9L1347.7 491.7L1349.1 488.6L1350.4 485.6L1351.7 482.7L1352.9 480.1L1354 477.6L1354.9 475.4L1355.8 473.4L1356.6 471.6L1357.2 469.9L1357.9 468.3L1358.4 466.9L1359 465.4L1359.6 463.9L1360.2 462.4L1360.9 460.7L1361.6 458.9L1362.4 457L1363.3 455L1363.9 453.4L1360 451.9L1359.4 453.4L1358.6 455.5L1357.8 457.4L1357.1 459.3L1356.5 460.9L1355.9 462.5L1355.3 464L1354.8 465.5L1354.2 467L1353.7 468.5L1353 470.2L1352.3 472L1351.5 474L1350.6 476.2L1349.6 478.7L1348.5 481.3L1347.3 484.2L1346 487.2L1344.7 490.3L1343.3 493.5L1341.9 496.8L1340.4 500.1L1338.9 503.3L1337.5 506.6L1336 509.8L1334.4 513.2L1332.9 516.6L1331.3 520.1L1329.7 523.6L1328 527.1L1326.3 530.5L1324.6 533.9L1322.9 537.2L1321.1 540.4L1319.2 543.5L1317.3 546.6L1315.4 549.6L1313.4 552.6L1311.3 555.6L1309.3 558.5L1307.2 561.3L1305.2 564L1303.2 566.6L1301.2 569.1L1299.1 571.6L1296.9 574.1L1294.6 576.5L1292.2 578.9L1290 581.1L1287.8 583.2L1285.8 585.2L1283.9 586.9L1282.4 588.3L1281.2 589.5Z" fill="#252525"/><path d="M1366.1 442.4L1367 456.8L1355.4 452.1Z" fill="#252525"/><path d="M1367.9 339.9L1367.7 338.7L1367.5 337.2L1367.3 335.5L1367 333.6L1366.7 331.4L1366.3 329L1365.9 326.5L1365.4 323.7L1364.9 320.8L1364.2 317.7L1363.6 314.3L1362.9 310.6L1362.2 306.6L1361.5 302.4L1360.7 298L1359.7 293.6L1358.6 289.1L1357.4 284.7L1355.9 280.5L1354.3 276.4L1352.4 272.6L1350.3 268.7L1348 264.9L1345.6 261.2L1343.1 257.5L1340.4 253.8L1337.6 250.3L1334.7 246.8L1331.7 243.4L1328.6 240.1L1325.4 236.8L1322 233.6L1318.5 230.5L1314.8 227.4L1311 224.5L1307.3 221.6L1303.5 218.8L1299.8 216.2L1296.2 213.8L1292.8 211.5L1289.5 209.3L1286.1 207.3L1282.8 205.5L1279.5 203.7L1276.3 202.1L1273.2 200.7L1270.2 199.3L1267.3 198L1264.5 196.8L1261.8 195.7L1259.3 194.7L1256.7 193.8L1254.2 193L1252.2 192.4L1251.2 195.8L1253.2 196.4L1255.6 197.1L1258.1 197.9L1260.6 198.9L1263.2 200L1265.9 201.1L1268.8 202.3L1271.8 203.6L1274.9 205.1L1278.1 206.6L1281.3 208.2L1284.6 210L1287.9 211.9L1291.2 213.9L1294.6 216.2L1298.2 218.6L1301.9 221.1L1305.6 223.8L1309.4 226.6L1313.2 229.5L1316.8 232.4L1320.4 235.5L1323.8 238.6L1327 241.7L1330 244.9L1333 248.2L1335.9 251.6L1338.7 255.1L1341.4 258.6L1344 262.3L1346.4 265.9L1348.7 269.6L1350.8 273.4L1352.7 277.2L1354.4 281.1L1355.9 285.2L1357.2 289.5L1358.3 293.9L1359.3 298.3L1360.2 302.6L1361 306.8L1361.7 310.8L1362.4 314.6L1363.2 317.9L1363.8 321L1364.4 323.9L1364.9 326.6L1365.4 329.2L1365.8 331.5L1366.1 333.7L1366.4 335.6L1366.7 337.3L1366.9 338.8L1367.1 340.1Z" fill="#252525"/><path d="M1241 191.5L1255 188.7L1252.2 200.4Z" fill="#252525"/></g><g id="p20_left"><use href="#capsule" transform="translate(325.9 1032.2) scale(0.14451)"/><use href="#capsule" transform="translate(463.2 984.5) scale(0.14451)"/><g transform="translate(60 1200) scale(0.22158)"><path d="M480 945C489 940.3 562.4 942.4 572 950C581.6 957.6 564.6 994.8 562 1010C559.4 1025.2 551.9 1067.8 550 1080C548.1 1092.2 545.3 1109.2 546 1115C546.7 1120.8 561.7 1127.3 556 1130C550.3 1132.7 503.5 1138.9 497 1138C490.5 1137.1 497.8 1126.4 500 1122C502.2 1117.6 514.8 1109.6 516 1100C517.2 1090.4 512.5 1052.8 510 1040C507.6 1027.2 498.5 1001.1 495 990C491.5 978.9 471 949.7 480 945Z" fill="#d9dbe1"/><path d="M900 945C909.6 938.6 992 927.4 1002 935C1012 942.6 990.9 995.4 986 1010C981.1 1024.6 964.7 1048.3 960 1060C955.3 1071.7 946.9 1100.7 946 1110C945.1 1119.3 959.1 1135.8 952 1140C944.9 1144.2 892.2 1147.2 885 1146C877.8 1144.8 885.3 1135.4 890 1130C894.7 1124.6 919.6 1110.5 925 1100C930.4 1089.5 936.6 1052.8 936 1040C935.4 1027.2 924.2 1001.1 920 990C915.8 978.9 890.4 951.4 900 945Z" fill="#d9dbe1"/><path d="M165 722L50 655Q100 715 195 742Z" fill="#dcdee4"/><path d="M18 885C19.7 873.3 32.2 860 45 845C57.8 830 80 811.7 95 795C110 778.3 120.8 758.3 135 745C149.2 731.7 160.8 724.2 180 715C199.2 705.8 225 705 250 690C275 675 296.7 644.2 330 625C363.3 605.8 405 587.2 450 575C495 562.8 541.7 557 600 552C658.3 547 741.7 544.5 800 545C858.3 545.5 906.7 549.2 950 555C993.3 560.8 1030 567.5 1060 580C1090 592.5 1111.7 610 1130 630C1148.3 650 1160 671.7 1170 700C1180 728.3 1187.5 766.7 1190 800C1192.5 833.3 1191.7 873.3 1185 900C1178.3 926.7 1172.5 949.2 1150 960C1127.5 970.8 1083.3 964.7 1050 965C1016.7 965.3 991.7 960.3 950 962C908.3 963.7 850 974.5 800 975C750 975.5 696.7 969.2 650 965C603.3 960.8 558.3 950.8 520 950C481.7 949.2 445 960 420 960C395 960 386.7 955.8 370 950C353.3 944.2 340 930 320 925C300 920 275 918.3 250 920C225 921.7 196.7 931.7 170 935C143.3 938.3 112.5 943.3 90 940C67.5 936.7 47 924.2 35 915C23 905.8 16.3 896.7 18 885Z" fill="#e4e6eb"/><path d="M385 925C397.2 918.6 493.7 923.9 505 935C516.3 946.1 487.7 1003.1 482 1020C476.3 1036.9 460.9 1068.3 456 1080C451.1 1091.7 444.7 1111.8 440 1120C435.3 1128.2 419.3 1144.6 416 1150C412.7 1155.4 420.3 1164.1 412 1166C403.7 1167.9 352.2 1168.1 345 1166C337.8 1163.9 344.1 1154.5 350 1148C355.9 1141.5 388.3 1121.4 396 1110C403.7 1098.6 415.5 1064 416 1050C416.5 1036 403.6 1004.6 400 990C396.4 975.4 372.8 931.4 385 925Z" fill="#e4e6eb"/><path d="M1005 925C1021.1 913.3 1168 883.6 1188 890C1208 896.4 1177.9 960.2 1176 980C1174.1 999.8 1173.9 1043.7 1172 1060C1170.1 1076.3 1162.6 1107.6 1160 1120C1157.4 1132.4 1160.5 1160.4 1150 1166C1139.5 1171.6 1077.9 1172.2 1070 1168C1062.1 1163.8 1081.1 1142.6 1082 1130C1082.9 1117.4 1081.7 1076.3 1078 1060C1074.3 1043.7 1058.5 1005.8 1050 990C1041.5 974.2 988.9 936.7 1005 925Z" fill="#e4e6eb"/><path d="M560 955C700 990 900 985 1010 940C900 930 700 925 560 955Z" fill="#d6d8de" opacity="0.7"/><path d="M195 748Q140 680 150 600Q215 640 252 702Z" fill="#e4e6eb" stroke="#d3d5db" stroke-width="4"/><path d="M200 738Q160 680 162 630Q205 660 235 706Z" fill="#d7d9e0"/><ellipse cx="166" cy="800" rx="13" ry="8" fill="#f2f3f6" stroke="#c9cbd2" stroke-width="3"/><circle cx="168" cy="801" r="4" fill="#a9abb3"/><path d="M40 895Q90 925 150 905" fill="none" stroke="#d3d5db" stroke-width="4"/><path d="M1128 610q30 -15 35 10q0 20 -15 18" fill="none" stroke="#dfe1e6" stroke-width="9" stroke-linecap="round"/><path d="M500 760C508.5 751.7 523.3 737.5 540 730C556.7 722.5 580 720 600 715C620 710 640 706.7 660 700C680 693.3 704.2 679.5 720 675C735.8 670.5 748 668.8 755 673C762 677.2 766.2 688.8 762 700C757.8 711.2 743.7 729.2 730 740C716.3 750.8 696.7 758.3 680 765C663.3 771.7 643 774.2 630 780C617 785.8 607.7 790 602 800C596.3 810 603 829 596 840C589 851 572.7 863.3 560 866C547.3 868.7 530.8 863.7 520 856C509.2 848.3 500.2 832.7 495 820C489.8 807.3 488.2 790 489 780C489.8 770 491.5 768.3 500 760Z" fill="#f0a550"/><path d="M671 732h0M606 748h0M610 724h0M615 734h0M673 708h0M614 775h0M679 705h0M736 709h0M667 725h0M550 841h0M518 773h0M722 720h0M546 842h0M535 802h0M711 703h0M539 806h0M669 734h0M516 759h0M727 697h0M648 748h0M654 754h0M515 795h0M552 758h0M557 787h0M682 722h0M604 774h0M686 719h0M631 762h0M573 796h0M546 847h0M607 771h0M603 774h0M655 728h0M601 766h0M545 786h0M509 818h0M541 783h0M595 762h0M586 761h0M707 724h0M632 765h0M622 723h0M712 691h0M528 753h0M608 774h0M519 777h0M515 772h0M684 722h0M680 751h0M538 771h0M620 751h0M550 792h0M516 830h0M698 711h0M541 828h0M526 791h0M607 721h0M643 763h0M510 818h0M536 817h0" stroke="#f7c27e" stroke-width="9" stroke-linecap="round" opacity="0.8"/></g><g transform="translate(550.7 1097.4) scale(0.2037)"><use href="#silh" opacity="0.3"/><use href="#orgCol"/></g><path d="M545.6 1340C545.5 1344.3 544.7 1357.3 545.3 1365.7C545.9 1374.1 545 1382 549.4 1390.2C553.8 1398.4 562.3 1408.9 571.8 1414.7C581.3 1420.5 594.6 1424.9 606.5 1424.9C618.4 1424.9 633.8 1419.8 643.3 1414.7C652.8 1409.6 659.3 1402.5 663.7 1394.3C668.1 1386.1 668.8 1374.2 669.8 1365.7C670.8 1357.2 669.8 1347 669.8 1343.3" fill="none" stroke="#86b9c8" stroke-width="3.2" stroke-linecap="round"/><path d="M545.6 1340C545.5 1344.3 544.7 1357.3 545.3 1365.7C545.9 1374.1 545 1382 549.4 1390.2C553.8 1398.4 562.3 1408.9 571.8 1414.7C581.3 1420.5 594.6 1424.9 606.5 1424.9C618.4 1424.9 633.8 1419.8 643.3 1414.7C652.8 1409.6 659.3 1402.5 663.7 1394.3C668.1 1386.1 668.8 1374.2 669.8 1365.7C670.8 1357.2 669.8 1347 669.8 1343.3" fill="none" stroke="#b5d6df" stroke-width="1.2"/><use href="#ivbag" transform="translate(595.7 1167.8) scale(-0.10127 0.10127)"/><g transform="translate(60 1200) scale(0.22158)"><circle cx="1530" cy="585" r="140" fill="#c3e4ef"/><path d="M1516 457L1531 450L1531 447L1530 447L1509 449L1505 450ZM1531 450L1547 457L1557 449L1552 448L1531 447ZM1456 480L1458 476L1461 465L1448 472L1442 477ZM1488 458L1487 460L1488 463L1507 481L1518 473L1516 457L1505 450L1497 452ZM1576 467L1567 452L1559 450L1557 449L1547 457L1545 469L1552 482ZM1567 452L1576 467L1579 469L1589 468L1595 461L1594 460L1573 452L1568 451ZM1426 495L1438 505L1457 484L1456 480L1442 477L1431 486L1426 492ZM1553 491L1552 482L1545 469L1526 475L1530 490L1542 501ZM1575 488L1579 469L1576 467L1552 482L1553 491L1562 494ZM1597 494L1597 479L1589 468L1579 469L1575 488L1591 498ZM1442 513L1438 505L1426 495L1420 499L1417 503L1410 514L1410 519L1427 531L1430 530ZM1493 496L1482 491L1469 496L1465 510L1482 519L1485 517ZM1506 498L1504 495L1493 496L1485 517L1507 514L1511 508ZM1553 516L1571 513L1562 494L1553 491L1542 501L1541 505ZM1634 518L1642 511L1644 502L1635 492L1629 485L1617 498L1618 510ZM1465 510L1457 515L1463 539L1485 530L1482 519ZM1507 514L1501 535L1517 539L1531 534L1530 515L1511 508ZM1634 518L1618 510L1610 519L1610 530L1618 538L1635 531ZM1655 538L1660 528L1656 521L1655 518L1642 511L1634 518L1635 531L1646 539ZM1401 562L1416 557L1418 548L1401 535L1398 542L1396 553ZM1448 544L1430 530L1427 531L1418 548L1416 557L1425 565L1440 563ZM1469 558L1469 557L1462 541L1448 544L1440 563L1451 570ZM1514 557L1524 564L1543 552L1541 540L1531 534L1517 539ZM1541 540L1543 552L1548 557L1568 559L1578 533L1577 532L1555 532ZM1617 559L1618 538L1610 530L1588 538L1599 560L1610 561ZM1634 561L1654 566L1662 549L1658 542L1655 538L1646 539ZM1416 557L1401 562L1398 565L1395 583L1396 584L1410 594L1414 593L1425 578L1425 565ZM1451 570L1440 563L1425 565L1425 578L1441 590L1452 575ZM1479 581L1469 558L1451 570L1452 575L1463 585ZM1491 552L1469 557L1469 558L1479 581L1486 584L1497 572L1498 562ZM1548 557L1543 552L1524 564L1523 582L1524 584L1544 584L1545 583ZM1591 589L1607 588L1610 561L1599 560L1580 572ZM1662 549L1654 566L1660 578L1666 580L1674 576L1672 562L1669 552ZM1396 584L1391 598L1391 603L1406 610L1410 594ZM1425 578L1414 593L1434 604L1442 597L1441 590ZM1452 575L1441 590L1442 597L1458 601L1463 585ZM1545 583L1544 584L1548 597L1552 604L1568 597L1567 582ZM1605 615L1618 599L1618 596L1607 588L1591 589L1585 606ZM1407 614L1406 610L1391 603L1391 607L1393 619ZM1434 604L1414 593L1410 594L1406 610L1407 614L1415 623L1432 618ZM1482 606L1488 621L1491 624L1512 615L1511 599L1489 593ZM1531 605L1521 591L1511 599L1512 615L1519 621L1534 622ZM1582 607L1571 627L1597 635L1607 626L1605 615L1585 606ZM1625 624L1631 610L1618 599L1605 615L1607 626L1609 627ZM1660 636L1663 633L1665 629L1671 611L1668 604L1650 610L1648 612L1648 616ZM1408 645L1411 643L1415 623L1407 614L1393 619L1394 629L1400 644ZM1463 630L1456 621L1440 624L1439 640L1451 647L1464 642ZM1519 621L1512 615L1491 624L1492 634L1506 647L1510 644ZM1570 628L1551 617L1536 623L1535 639L1555 650L1566 644ZM1654 648L1655 648L1660 637L1660 636L1648 616L1635 634L1635 641ZM1416 671L1436 667L1429 647L1411 643L1408 645L1408 658ZM1439 668L1448 664L1451 647L1439 640L1429 647L1436 667ZM1451 647L1448 664L1470 671L1476 665L1473 649L1464 642ZM1534 639L1510 644L1506 647L1507 659L1516 666L1529 661ZM1535 639L1534 639L1529 661L1548 667L1555 650ZM1559 674L1580 659L1566 644L1555 650L1548 667L1548 667ZM1583 660L1587 667L1605 670L1611 655L1597 643ZM1605 670L1614 682L1632 668L1623 649L1611 655ZM1654 648L1635 641L1623 648L1623 649L1632 668L1638 669L1641 666L1653 650ZM1470 671L1448 664L1439 668L1441 686L1455 691L1468 689ZM1507 659L1491 667L1496 690L1509 693L1519 684L1516 666ZM1569 689L1559 674L1548 667L1539 687L1549 695ZM1583 660L1580 659L1559 674L1569 689L1572 690L1579 687L1587 667ZM1468 689L1455 691L1450 702L1466 711L1470 710L1475 698ZM1510 706L1509 693L1496 690L1476 698L1498 716ZM1532 712L1549 704L1549 695L1539 687L1532 688L1531 711ZM1572 690L1569 689L1549 695L1549 704L1560 719L1563 718L1571 710ZM1498 716L1476 698L1475 698L1470 710L1471 712L1487 718L1497 720ZM1549 704L1532 712L1536 723L1552 721L1560 719Z" fill="#c3e4ef" stroke="#7fbacd" stroke-width="1.6" stroke-linejoin="round"/><path d="M1458 476L1482 475L1488 463L1487 460L1472 460L1467 461L1461 465ZM1530 515L1531 534L1541 540L1555 532L1553 516L1541 505ZM1535 639L1536 623L1534 622L1519 621L1510 644L1534 639ZM1532 688L1519 684L1509 693L1510 706L1517 710L1531 711Z" fill="#f3a374" stroke="#d9804c" stroke-width="1.6" stroke-linejoin="round"/><path d="M1545 469L1547 457L1531 450L1516 457L1518 473L1526 475ZM1616 475L1612 472L1595 461L1589 468L1597 479ZM1458 476L1456 480L1457 484L1469 496L1482 491L1482 475ZM1507 481L1488 463L1482 475L1482 491L1493 496L1504 495ZM1530 490L1526 475L1518 473L1507 481L1504 495L1506 498ZM1597 479L1597 494L1617 498L1629 485L1629 485L1616 475ZM1465 510L1469 496L1457 484L1438 505L1442 513L1457 515ZM1542 501L1530 490L1506 498L1511 508L1530 515L1541 505ZM1579 519L1588 511L1591 498L1575 488L1562 494L1571 513ZM1610 519L1618 510L1617 498L1597 494L1591 498L1588 511ZM1418 548L1427 531L1410 519L1407 521L1406 522L1401 535ZM1448 544L1462 541L1463 539L1457 515L1442 513L1430 530ZM1507 514L1485 517L1482 519L1485 530L1494 537L1501 535ZM1577 532L1579 519L1571 513L1553 516L1555 532ZM1463 539L1462 541L1469 557L1491 552L1494 537L1485 530ZM1494 537L1491 552L1498 562L1514 557L1517 539L1501 535ZM1599 560L1588 538L1578 533L1568 559L1578 572L1580 572ZM1635 531L1618 538L1617 559L1629 564L1634 561L1646 539ZM1524 564L1514 557L1498 562L1497 572L1523 582ZM1568 559L1548 557L1545 583L1567 582L1578 572ZM1607 588L1618 596L1633 583L1629 564L1617 559L1610 561ZM1629 564L1633 583L1641 586L1660 578L1654 566L1634 561ZM1458 601L1461 607L1482 606L1489 593L1486 584L1479 581L1463 585ZM1497 572L1486 584L1489 593L1511 599L1521 591L1524 584L1523 582ZM1524 584L1521 591L1531 605L1548 597L1544 584ZM1578 572L1567 582L1568 597L1582 607L1585 606L1591 589L1580 572ZM1618 596L1618 599L1631 610L1648 612L1650 610L1641 586L1633 583ZM1641 586L1650 610L1668 604L1669 601L1666 580L1660 578ZM1666 580L1669 601L1673 601L1675 585L1674 576ZM1456 621L1461 607L1458 601L1442 597L1434 604L1432 618L1440 624ZM1548 597L1531 605L1534 622L1536 623L1551 617L1552 604ZM1568 597L1552 604L1551 617L1570 628L1571 627L1582 607ZM1439 640L1440 624L1432 618L1415 623L1411 643L1429 647ZM1473 649L1492 634L1491 624L1488 621L1463 630L1464 642ZM1597 635L1571 627L1570 628L1566 644L1580 659L1583 660L1597 643ZM1607 626L1597 635L1597 643L1611 655L1623 649L1623 648L1609 627ZM1623 648L1635 641L1635 634L1625 624L1609 627ZM1506 647L1492 634L1473 649L1476 665L1491 667L1507 659ZM1441 686L1439 668L1436 667L1416 671L1416 672L1428 687L1434 691ZM1548 667L1548 667L1529 661L1516 666L1519 684L1532 688L1539 687ZM1614 682L1614 685L1618 687L1626 681L1638 669L1632 668ZM1441 686L1434 691L1446 700L1450 702L1455 691ZM1572 690L1571 710L1578 712L1592 706L1601 700L1601 698L1579 687ZM1517 710L1510 706L1498 716L1497 720L1508 722L1517 723ZM1532 712L1531 711L1517 710L1517 723L1530 723L1536 723Z" fill="#62b29c" stroke="#3f937c" stroke-width="1.6" stroke-linejoin="round"/><path d="M1577 532L1578 533L1588 538L1610 530L1610 519L1588 511L1579 519ZM1488 621L1482 606L1461 607L1456 621L1463 630ZM1648 616L1648 612L1631 610L1625 624L1635 634ZM1476 698L1496 690L1491 667L1476 665L1470 671L1468 689L1475 698ZM1605 670L1587 667L1579 687L1601 698L1614 685L1614 682Z" fill="#c9b0e4" stroke="#9a7cc6" stroke-width="1.6" stroke-linejoin="round"/><path d="M1518 451h0M1544 450h0M1453 473h0M1504 464h0M1558 464h0M1580 460h0M1441 489h0M1540 484h0M1565 481h0M1586 482h0M1425 513h0M1478 504h0M1498 506h0M1555 504h0M1629 502h0M1469 524h0M1516 524h0M1621 524h0M1646 525h0M1405 549h0M1431 548h0M1454 555h0M1527 548h0M1559 544h0M1605 545h0M1649 552h0M1410 574h0M1437 574h0M1464 572h0M1484 566h0M1535 570h0M1597 574h0M1664 565h0M1400 597h0M1429 591h0M1452 589h0M1556 591h0M1601 600h0M1397 611h0M1419 608h0M1496 607h0M1521 608h0M1590 621h0M1617 614h0M1660 617h0M1404 629h0M1451 633h0M1504 629h0M1552 633h0M1647 634h0M1420 657h0M1440 653h0M1462 656h0M1519 652h0M1541 653h0M1562 659h0M1597 658h0M1618 665h0M1637 653h0M1454 677h0M1505 676h0M1552 682h0M1574 674h0M1463 699h0M1495 701h0M1539 698h0M1561 702h0M1482 710h0M1544 714h0" stroke="#8cc4d8" stroke-width="6" stroke-linecap="round" fill="none"/><path d="M1530 462h0M1600 471h0M1470 483h0M1493 482h0M1516 485h0M1610 486h0M1454 502h0M1524 502h0M1577 502h0M1603 505h0M1413 532h0M1447 528h0M1494 524h0M1565 523h0M1478 544h0M1503 547h0M1582 553h0M1629 546h0M1511 568h0M1559 570h0M1619 577h0M1642 573h0M1473 594h0M1504 585h0M1534 592h0M1578 589h0M1634 598h0M1656 593h0M1670 588h0M1446 610h0M1541 610h0M1565 611h0M1426 632h0M1477 634h0M1580 642h0M1608 641h0M1623 634h0M1490 652h0M1430 677h0M1530 674h0M1625 677h0M1445 693h0M1582 699h0M1508 715h0M1525 717h0" stroke="#3a8a74" stroke-width="6" stroke-linecap="round" fill="none"/><ellipse cx="1506" cy="596" rx="13" ry="9" transform="rotate(155 1506 596)" fill="#8c1a22" stroke="#c0444e" stroke-width="3.1"/><ellipse cx="1587" cy="551" rx="21" ry="9" transform="rotate(73 1587 551)" fill="#8c1a22" stroke="#c0444e" stroke-width="3.1"/><ellipse cx="1565" cy="478" rx="12" ry="12" transform="rotate(13 1565 478)" fill="#8c1a22" stroke="#c0444e" stroke-width="3.1"/><ellipse cx="1421" cy="619" rx="11" ry="9" transform="rotate(175 1421 619)" fill="#8c1a22" stroke="#c0444e" stroke-width="3.1"/><ellipse cx="1526" cy="700" rx="14" ry="9" transform="rotate(34 1526 700)" fill="#8c1a22" stroke="#c0444e" stroke-width="3.1"/><ellipse cx="1622" cy="567" rx="21" ry="11" transform="rotate(7 1622 567)" fill="#8c1a22" stroke="#c0444e" stroke-width="3.1"/><ellipse cx="1576" cy="538" rx="20" ry="10" transform="rotate(149 1576 538)" fill="#8c1a22" stroke="#c0444e" stroke-width="3.1"/><ellipse cx="1544" cy="511" rx="22" ry="11" transform="rotate(82 1544 511)" fill="#8c1a22" stroke="#c0444e" stroke-width="3.1"/><circle cx="1805" cy="440" r="145" fill="#c3e4ef"/><path d="M1787 300L1807 297L1805 291L1805 291L1783 294ZM1745 323L1760 317L1758 303L1739 311L1738 313L1737 316ZM1760 317L1773 324L1774 324L1786 306L1787 300L1783 294L1782 294L1760 301L1758 303ZM1807 297L1787 300L1786 306L1804 324L1818 311L1813 299ZM1717 356L1728 335L1721 324L1704 339L1703 340ZM1728 335L1743 334L1745 323L1737 316L1731 317L1721 324L1721 324ZM1758 345L1773 324L1760 317L1745 323L1743 334L1745 339ZM1786 306L1774 324L1791 341L1799 337L1804 324ZM1818 311L1804 324L1799 337L1820 341L1821 340L1827 318ZM1827 318L1821 340L1841 349L1849 330L1844 318L1843 317ZM1874 333L1876 325L1868 307L1865 307L1844 318L1849 330L1866 335ZM1698 372L1718 357L1717 356L1703 340L1690 356L1685 365ZM1718 357L1720 358L1735 352L1745 339L1743 334L1728 335L1717 356ZM1735 352L1757 367L1764 360L1758 345L1745 339ZM1816 356L1820 341L1799 337L1791 341L1788 358L1804 365ZM1884 360L1884 346L1874 333L1866 335L1860 353L1880 362ZM1896 365L1914 359L1915 348L1907 338L1907 337L1902 336L1884 346L1884 360ZM1710 393L1711 393L1731 380L1720 358L1718 357L1698 372L1699 380ZM1737 382L1749 381L1753 376L1757 367L1735 352L1720 358L1731 380ZM1786 359L1764 360L1757 367L1753 376L1784 386ZM1829 375L1829 363L1816 356L1804 365L1811 376ZM1870 377L1871 381L1889 391L1899 382L1896 365L1884 360L1880 362ZM1936 385L1932 375L1926 364L1922 366L1926 382L1934 385ZM1677 418L1688 409L1684 389L1675 385L1671 397L1669 408ZM1737 382L1731 380L1711 393L1721 413L1735 409ZM1784 386L1753 376L1749 381L1763 404L1770 404L1785 391ZM1840 384L1829 375L1811 376L1809 384L1818 402L1834 403L1839 400ZM1851 374L1840 384L1839 400L1847 404L1867 394L1871 381L1870 377ZM1871 381L1867 394L1880 408L1889 400L1889 391ZM1889 391L1889 400L1910 407L1911 406L1915 390L1899 382ZM1934 385L1926 382L1915 390L1911 406L1921 410L1936 398ZM1669 408L1666 418L1665 424L1671 425L1676 421L1677 418ZM1677 418L1676 421L1694 440L1706 419L1691 409L1688 409ZM1691 409L1706 419L1718 418L1720 417L1721 413L1711 393L1710 393ZM1752 417L1735 409L1721 413L1720 417L1736 432L1753 425ZM1761 437L1783 420L1770 404L1763 404L1752 417L1753 425ZM1801 419L1803 413L1787 391L1785 391L1770 404L1783 420L1794 424ZM1813 428L1831 418L1834 403L1818 402L1803 413L1801 419ZM1910 407L1889 400L1880 408L1878 419L1895 426L1902 423ZM1911 406L1910 407L1902 423L1911 429L1930 420L1921 410ZM1676 455L1695 442L1694 440L1676 421L1671 425L1664 439L1664 440L1664 450ZM1713 447L1718 418L1706 419L1694 440L1695 442L1701 447ZM1736 432L1725 453L1727 455L1756 452L1763 445L1761 437L1753 425ZM1783 420L1761 437L1763 445L1771 447L1790 446L1794 424ZM1878 419L1863 428L1862 429L1863 433L1881 449L1895 439L1895 426ZM1895 426L1895 439L1909 453L1922 446L1911 429L1902 423ZM1930 420L1911 429L1922 446L1926 446L1929 445L1939 425ZM1929 445L1948 458L1949 440L1948 427L1940 425L1939 425ZM1668 481L1679 466L1676 455L1664 450L1664 462L1666 481ZM1726 463L1747 478L1757 459L1756 452L1727 455ZM1790 446L1771 447L1776 470L1796 463L1797 453ZM1827 463L1837 481L1858 462L1854 453L1827 453ZM1881 449L1863 433L1854 453L1858 462L1868 468L1883 463ZM1903 464L1909 453L1895 439L1881 449L1883 463L1889 467ZM1922 446L1909 453L1903 464L1911 474L1927 473L1926 446ZM1929 445L1926 446L1927 473L1934 476L1945 472L1947 463L1948 458ZM1679 466L1668 481L1681 491L1692 491L1695 469ZM1719 481L1727 490L1748 489L1750 486L1747 478L1726 463L1719 475ZM1750 486L1771 483L1771 477L1757 459L1747 478ZM1796 487L1802 495L1803 495L1810 492L1816 471L1797 468ZM1816 471L1810 492L1833 490L1838 485L1837 481L1827 463ZM1868 468L1858 462L1837 481L1838 485L1852 490L1865 487ZM1889 467L1883 463L1868 468L1865 487L1868 489L1888 487ZM1910 489L1911 474L1903 464L1889 467L1888 487L1897 497ZM1934 476L1931 492L1938 493L1941 484L1945 472ZM1681 491L1668 481L1666 481L1667 485L1674 507L1674 507ZM1694 519L1703 509L1699 495L1692 491L1681 491L1674 507L1675 509ZM1749 501L1748 489L1727 490L1726 506L1736 510ZM1833 490L1810 492L1803 495L1819 515L1834 512ZM1897 497L1888 487L1868 489L1872 506L1889 509L1896 499ZM1919 516L1928 510L1927 497L1910 489L1897 497L1896 499ZM1927 497L1928 510L1929 511L1932 505L1938 493L1931 492ZM1694 519L1675 509L1684 528L1690 534ZM1723 535L1714 513L1703 509L1694 519L1690 534L1690 534L1703 542ZM1726 506L1714 513L1723 535L1728 537L1740 530L1736 510ZM1819 515L1803 495L1802 495L1789 516L1791 526L1808 533ZM1836 514L1834 512L1819 515L1808 533L1809 534L1826 537L1835 529ZM1860 518L1854 514L1836 514L1835 529L1851 537L1863 529ZM1732 557L1728 537L1723 535L1703 542L1703 549L1718 560L1721 562ZM1732 557L1737 561L1757 555L1755 530L1755 530L1740 530L1728 537ZM1781 535L1755 530L1757 555L1768 561L1781 554ZM1808 533L1791 526L1781 535L1781 554L1784 556L1807 547L1809 534ZM1835 529L1826 537L1836 557L1842 560L1844 559L1851 537ZM1902 530L1892 527L1876 537L1877 552L1887 559L1890 557L1905 543ZM1915 524L1902 530L1905 543L1906 541L1918 527ZM1737 561L1732 557L1721 562L1738 571L1739 571ZM1767 575L1768 561L1757 555L1737 561L1739 571L1755 577ZM1864 560L1844 559L1842 560L1840 576L1845 580L1850 578L1866 572ZM1877 552L1864 560L1866 572L1871 569L1887 559Z" fill="#c3e4ef" stroke="#7fbacd" stroke-width="1.6" stroke-linejoin="round"/><path d="M1841 295L1828 292L1820 291L1813 299L1818 311L1827 318L1843 317ZM1843 317L1844 318L1865 307L1863 303L1851 298L1841 295ZM1868 307L1876 325L1890 321L1872 308L1869 306ZM1876 325L1874 333L1884 346L1902 336L1900 330L1891 321L1890 321ZM1773 324L1758 345L1764 360L1786 359L1788 358L1791 341L1774 324ZM1821 340L1820 341L1816 356L1829 363L1841 350L1841 349ZM1849 330L1841 349L1841 350L1849 356L1860 353L1866 335ZM1811 376L1804 365L1788 358L1786 359L1784 386L1785 391L1787 391L1809 384ZM1841 350L1829 363L1829 375L1840 384L1851 374L1849 356ZM1860 353L1849 356L1851 374L1870 377L1880 362ZM1688 409L1691 409L1710 393L1699 380L1684 389ZM1763 404L1749 381L1737 382L1735 409L1752 417ZM1787 391L1803 413L1818 402L1809 384ZM1880 408L1867 394L1847 404L1863 428L1878 419ZM1936 398L1921 410L1930 420L1939 425L1940 425L1945 410L1945 409ZM1790 446L1797 453L1823 448L1813 428L1801 419L1794 424ZM1823 448L1823 448L1835 434L1831 418L1813 428ZM1827 453L1854 453L1863 433L1862 429L1835 434L1823 448ZM1696 468L1719 475L1726 463L1727 455L1725 453L1713 447L1701 447ZM1776 470L1771 447L1763 445L1756 452L1757 459L1771 477ZM1695 469L1692 491L1699 495L1719 481L1719 475L1696 468ZM1934 476L1927 473L1911 474L1910 489L1927 497L1931 492ZM1773 485L1771 508L1789 516L1802 495L1796 487ZM1852 490L1838 485L1833 490L1834 512L1836 514L1854 514ZM1865 487L1852 490L1854 514L1860 518L1872 506L1868 489ZM1789 516L1771 508L1761 512L1755 530L1755 530L1781 535L1791 526ZM1889 509L1892 527L1902 530L1915 524L1919 516L1896 499ZM1807 547L1813 560L1836 557L1826 537L1809 534ZM1877 552L1876 537L1863 529L1851 537L1844 559L1864 560ZM1784 556L1800 576L1801 576L1806 573L1813 560L1807 547ZM1842 560L1836 557L1813 560L1806 573L1833 582L1840 576ZM1770 581L1782 584L1800 585L1801 585L1801 576L1800 576L1769 578Z" fill="#62b29c" stroke="#3f937c" stroke-width="1.6" stroke-linejoin="round"/><path d="M1684 389L1699 380L1698 372L1685 365L1679 376L1675 385ZM1899 382L1915 390L1926 382L1922 366L1914 359L1896 365ZM1720 417L1718 418L1713 447L1725 453L1736 432ZM1796 463L1776 470L1771 477L1771 483L1773 485L1796 487L1797 468ZM1727 490L1719 481L1699 495L1703 509L1714 513L1726 506ZM1748 489L1749 501L1761 512L1771 508L1773 485L1771 483L1750 486ZM1740 530L1755 530L1761 512L1749 501L1736 510Z" fill="#c9b0e4" stroke="#9a7cc6" stroke-width="1.6" stroke-linejoin="round"/><path d="M1862 429L1863 428L1847 404L1839 400L1834 403L1831 418L1835 434ZM1695 442L1676 455L1679 466L1695 469L1696 468L1701 447ZM1796 463L1797 468L1816 471L1827 463L1827 453L1823 448L1823 448L1797 453ZM1860 518L1863 529L1876 537L1892 527L1889 509L1872 506ZM1781 554L1768 561L1767 575L1769 578L1800 576L1784 556ZM1833 582L1806 573L1801 576L1801 585L1801 585L1805 585L1828 584L1833 583Z" fill="#f3a374" stroke="#d9804c" stroke-width="1.6" stroke-linejoin="round"/><path d="M1795 295h0M1749 313h0M1772 307h0M1802 308h0M1716 339h0M1733 325h0M1756 330h0M1789 324h0M1814 327h0M1835 331h0M1861 321h0M1701 357h0M1731 344h0M1750 352h0M1803 350h0M1873 348h0M1899 351h0M1713 375h0M1738 367h0M1772 371h0M1817 367h0M1885 375h0M1928 375h0M1678 401h0M1725 396h0M1766 389h0M1825 388h0M1854 388h0M1878 394h0M1901 394h0M1923 396h0M1670 417h0M1691 422h0M1707 408h0M1736 419h0M1765 419h0M1787 408h0M1818 413h0M1893 412h0M1914 418h0M1676 439h0M1707 433h0M1745 441h0M1778 435h0M1879 432h0M1906 438h0M1925 432h0M1941 440h0M1670 464h0M1742 462h0M1783 456h0M1841 463h0M1868 452h0M1894 454h0M1917 461h0M1935 461h0M1683 478h0M1733 478h0M1758 475h0M1804 480h0M1824 479h0M1854 477h0M1877 476h0M1899 479h0M1937 482h0M1673 492h0M1689 504h0M1736 498h0M1821 501h0M1881 497h0M1913 501h0M1930 499h0M1685 521h0M1705 526h0M1728 520h0M1803 515h0M1823 525h0M1848 524h0M1718 548h0M1743 544h0M1768 545h0M1793 540h0M1838 543h0M1889 541h0M1909 532h0M1731 563h0M1753 566h0M1851 568h0M1873 561h0" stroke="#8cc4d8" stroke-width="6" stroke-linecap="round" fill="none"/><path d="M1829 304h0M1850 305h0M1877 316h0M1887 332h0M1774 344h0M1827 351h0M1853 343h0M1795 375h0M1840 367h0M1862 365h0M1695 394h0M1747 399h0M1803 397h0M1864 410h0M1934 411h0M1804 437h0M1824 431h0M1844 442h0M1711 460h0M1766 459h0M1703 480h0M1921 483h0M1785 499h0M1843 500h0M1861 501h0M1773 522h0M1902 516h0M1819 547h0M1861 546h0M1800 560h0M1826 568h0M1788 580h0" stroke="#3a8a74" stroke-width="6" stroke-linecap="round" fill="none"/><ellipse cx="1741" cy="434" rx="15" ry="8" transform="rotate(15 1741 434)" fill="#8c1a22" stroke="#c0444e" stroke-width="3.1"/><ellipse cx="1697" cy="382" rx="11" ry="10" transform="rotate(134 1697 382)" fill="#8c1a22" stroke="#c0444e" stroke-width="3.1"/><ellipse cx="1702" cy="524" rx="13" ry="11" transform="rotate(133 1702 524)" fill="#8c1a22" stroke="#c0444e" stroke-width="3.1"/><ellipse cx="1780" cy="497" rx="13" ry="9" transform="rotate(166 1780 497)" fill="#8c1a22" stroke="#c0444e" stroke-width="3.1"/><ellipse cx="1878" cy="384" rx="24" ry="11" transform="rotate(70 1878 384)" fill="#8c1a22" stroke="#c0444e" stroke-width="3.1"/><ellipse cx="1852" cy="546" rx="23" ry="10" transform="rotate(132 1852 546)" fill="#8c1a22" stroke="#c0444e" stroke-width="3.1"/><ellipse cx="1833" cy="308" rx="24" ry="9" transform="rotate(164 1833 308)" fill="#8c1a22" stroke="#c0444e" stroke-width="3.1"/><ellipse cx="1806" cy="474" rx="17" ry="11" transform="rotate(53 1806 474)" fill="#8c1a22" stroke="#c0444e" stroke-width="3.1"/><circle cx="1462" cy="432" r="152" fill="#fbd9be"/><path d="M1405 298L1426 292L1427 290L1427 287L1416 289L1403 293ZM1477 298L1481 299L1497 285L1486 283L1472 283ZM1385 302L1395 308L1402 305L1405 298L1403 293L1393 297L1385 301ZM1477 298L1472 283L1462 282L1462 282L1452 290L1457 305L1461 307ZM1481 299L1495 317L1508 306L1510 295L1499 286L1497 285ZM1510 295L1508 306L1524 316L1536 300L1531 297L1519 292ZM1366 312L1352 322L1351 324L1360 335L1378 332ZM1382 333L1385 331L1395 308L1385 302L1383 302L1372 308L1366 312L1378 332ZM1433 308L1417 318L1417 327L1440 330L1441 311ZM1481 299L1477 298L1461 307L1467 326L1483 328L1494 322L1495 317ZM1524 316L1508 306L1495 317L1494 322L1505 332L1525 324ZM1341 349L1352 344L1360 335L1351 324L1336 340ZM1360 335L1352 344L1371 358L1382 351L1382 333L1378 332ZM1382 333L1382 351L1397 366L1414 342L1412 337L1385 331ZM1412 337L1414 342L1430 353L1438 353L1442 334L1440 330L1417 327ZM1484 348L1483 328L1467 326L1464 330L1466 352L1474 357ZM1494 322L1483 328L1484 348L1507 350L1505 332ZM1533 329L1525 324L1505 332L1507 350L1508 351L1511 352L1531 345ZM1558 351L1553 328L1549 324L1533 329L1531 345L1548 359ZM1553 328L1558 351L1567 351L1580 341L1568 326L1567 324ZM1319 373L1330 377L1347 369L1341 350L1327 354L1323 361L1319 372ZM1404 373L1413 372L1430 353L1414 342L1397 366L1397 368ZM1477 369L1474 357L1466 352L1443 357L1444 369L1463 380L1476 374ZM1507 350L1484 348L1474 357L1477 369L1498 366L1508 351ZM1545 370L1548 359L1531 345L1511 352L1519 364L1538 375ZM1322 395L1330 392L1330 377L1319 373L1318 374L1315 384L1313 389ZM1347 369L1330 377L1330 392L1341 401L1354 395L1356 375ZM1423 397L1433 390L1433 386L1413 372L1404 373L1404 390ZM1433 386L1433 390L1447 402L1457 395L1463 380L1444 369ZM1498 366L1477 369L1476 374L1489 394L1492 395L1506 389L1506 383ZM1562 396L1567 398L1578 391L1580 377L1556 377ZM1582 374L1580 377L1578 391L1596 407L1606 392L1604 386L1598 371ZM1317 409L1322 395L1313 389L1310 408L1310 411ZM1317 409L1335 415L1336 414L1341 401L1330 392L1322 395ZM1341 401L1336 414L1362 420L1369 410L1369 407L1354 395ZM1400 409L1410 416L1418 409L1423 397L1404 390L1397 400ZM1447 402L1433 390L1423 397L1418 409L1435 415L1447 403ZM1473 402L1457 395L1447 402L1447 403L1453 413L1471 413ZM1548 400L1549 412L1563 420L1569 415L1567 398L1562 396ZM1596 407L1596 414L1612 420L1611 408L1606 392ZM1312 436L1333 432L1335 415L1317 409L1310 411L1309 432L1309 434ZM1333 432L1343 441L1359 438L1362 420L1336 414L1335 415ZM1387 434L1385 422L1369 410L1362 420L1359 438L1363 441ZM1412 427L1410 416L1400 409L1385 422L1387 434L1391 436ZM1435 415L1418 409L1410 416L1412 427L1421 435L1433 431ZM1453 413L1454 430L1472 436L1480 433L1480 431L1471 413ZM1480 433L1486 435L1503 430L1507 418L1493 406L1480 431ZM1533 431L1532 424L1523 412L1507 418L1503 430L1519 440ZM1560 429L1563 420L1549 412L1532 424L1533 431L1539 435ZM1590 419L1569 415L1563 420L1560 429L1571 444L1587 440ZM1363 441L1359 438L1343 441L1338 458L1359 467L1369 456ZM1486 435L1480 433L1472 436L1466 454L1490 461L1495 452ZM1539 435L1533 431L1519 440L1515 452L1532 466L1545 453ZM1338 458L1331 464L1334 483L1341 488L1359 481L1359 467ZM1408 480L1415 460L1394 451L1381 461L1385 479L1391 483ZM1419 457L1415 460L1408 480L1412 485L1438 478L1431 460ZM1490 461L1466 454L1461 462L1463 472L1488 475ZM1532 466L1515 452L1511 454L1506 478L1520 484L1532 470ZM1561 457L1545 453L1532 466L1532 470L1551 482L1559 477ZM1564 455L1561 457L1559 477L1578 484L1587 474L1587 471ZM1343 501L1341 488L1334 483L1322 488L1328 501L1335 510ZM1359 481L1341 488L1343 501L1362 513L1369 505L1368 486ZM1385 479L1368 486L1369 505L1389 505L1391 483ZM1417 498L1412 485L1408 480L1391 483L1389 505L1393 510L1412 509ZM1520 484L1506 478L1493 481L1488 504L1508 507L1524 499ZM1559 477L1551 482L1549 496L1562 503L1578 497L1578 484ZM1600 482L1587 474L1578 484L1578 497L1589 506L1599 501L1600 500ZM1362 517L1362 513L1343 501L1335 510L1341 520L1348 527ZM1387 531L1387 531L1393 510L1389 505L1369 505L1362 513L1362 517L1371 528ZM1441 499L1417 498L1412 509L1416 518L1419 524L1440 516L1444 502ZM1444 502L1440 516L1449 532L1455 530L1460 506ZM1483 515L1483 508L1471 503L1460 506L1455 530L1464 531ZM1492 533L1501 535L1511 523L1508 507L1488 504L1483 508L1483 515ZM1524 499L1508 507L1511 523L1520 525L1534 512L1533 505ZM1563 524L1562 503L1549 496L1533 505L1534 512L1546 530ZM1568 526L1588 518L1589 506L1578 497L1562 503L1563 524ZM1419 537L1438 543L1443 542L1449 532L1440 516L1419 524ZM1464 531L1455 530L1449 532L1443 542L1456 554L1473 550ZM1492 533L1483 515L1464 531L1473 550L1480 553ZM1534 512L1520 525L1524 542L1533 547L1542 542L1546 530ZM1568 526L1563 524L1546 530L1542 542L1557 554L1571 541L1573 539ZM1410 562L1411 544L1391 537L1382 554L1396 562L1404 566ZM1423 569L1434 565L1438 543L1419 537L1411 544L1410 562ZM1434 565L1449 572L1452 571L1456 554L1443 542L1438 543ZM1485 565L1480 553L1473 550L1456 554L1452 571L1465 578ZM1508 542L1501 535L1492 533L1480 553L1485 565L1490 568L1502 564ZM1533 547L1524 542L1508 542L1502 564L1520 569L1528 561ZM1542 542L1533 547L1528 561L1538 568L1553 558L1557 554ZM1423 569L1410 562L1404 566L1416 572L1423 575ZM1449 572L1434 565L1423 569L1423 575L1439 580L1444 581ZM1465 578L1452 571L1449 572L1444 581L1462 585L1465 585ZM1502 564L1490 568L1493 582L1494 583L1510 580L1521 576L1520 569ZM1528 561L1520 569L1521 576L1533 571L1538 568Z" fill="#fbd9be" stroke="#e99a6e" stroke-width="1.6" stroke-linejoin="round"/><path d="M1450 289L1449 283L1439 284L1427 287L1427 290ZM1426 292L1405 298L1402 305L1417 318L1433 308ZM1457 305L1452 290L1450 289L1427 290L1426 292L1433 308L1441 311ZM1402 305L1395 308L1385 331L1412 337L1417 327L1417 318ZM1440 330L1442 334L1464 330L1467 326L1461 307L1457 305L1441 311ZM1524 316L1525 324L1533 329L1549 324L1549 317L1539 302L1536 300ZM1549 317L1549 324L1553 328L1567 324L1554 312ZM1464 330L1442 334L1438 353L1443 357L1466 352ZM1381 381L1397 368L1397 366L1382 351L1371 358L1359 374ZM1438 353L1430 353L1413 372L1433 386L1444 369L1443 357ZM1508 351L1498 366L1506 383L1519 364L1511 352ZM1556 377L1580 377L1582 374L1567 351L1558 351L1548 359L1545 370ZM1567 351L1582 374L1598 371L1595 364L1583 344L1580 341ZM1356 375L1354 395L1369 407L1383 397L1381 381L1359 374ZM1383 397L1397 400L1404 390L1404 373L1397 368L1381 381ZM1489 394L1476 374L1463 380L1457 395L1473 402ZM1519 364L1506 383L1506 389L1524 395L1533 389L1538 375ZM1533 389L1548 400L1562 396L1556 377L1545 370L1538 375ZM1480 431L1493 406L1492 395L1489 394L1473 402L1471 413ZM1524 395L1523 412L1532 424L1549 412L1548 400L1533 389ZM1453 413L1447 403L1435 415L1433 431L1445 434L1454 430ZM1614 437L1614 432L1612 420L1596 414L1590 419L1587 440L1598 449ZM1381 461L1394 451L1391 436L1387 434L1363 441L1369 456ZM1433 431L1421 435L1419 457L1431 460L1445 455L1445 434ZM1445 434L1445 455L1461 462L1466 454L1472 436L1454 430ZM1503 430L1486 435L1495 452L1511 454L1515 452L1519 440ZM1571 444L1560 429L1539 435L1545 453L1561 457L1564 455ZM1599 454L1598 449L1587 440L1571 444L1564 455L1587 471ZM1611 460L1612 460L1613 456L1614 437L1598 449L1599 454ZM1334 483L1331 464L1315 459L1312 461L1317 479L1322 488ZM1381 461L1369 456L1359 467L1359 481L1368 486L1385 479ZM1445 455L1431 460L1438 478L1445 484L1462 474L1463 472L1461 462ZM1506 478L1511 454L1495 452L1490 461L1488 475L1493 481ZM1611 460L1599 454L1587 471L1587 474L1600 482L1608 480L1608 479L1610 468ZM1445 484L1438 478L1412 485L1417 498L1441 499ZM1471 503L1462 474L1445 484L1441 499L1444 502L1460 506ZM1371 528L1362 517L1348 527L1358 536L1364 541ZM1391 537L1387 531L1371 528L1364 541L1376 550L1382 554ZM1520 525L1511 523L1501 535L1508 542L1524 542ZM1588 518L1568 526L1573 539L1587 523L1589 519ZM1493 582L1490 568L1485 565L1465 578L1465 585L1486 585L1490 584Z" fill="#e39aa0" stroke="#cc6c78" stroke-width="1.6" stroke-linejoin="round"/><path d="M1371 358L1352 344L1341 349L1341 350L1347 369L1356 375L1359 374ZM1369 407L1369 410L1385 422L1400 409L1397 400L1383 397ZM1492 395L1493 406L1507 418L1523 412L1524 395L1506 389ZM1596 414L1596 407L1578 391L1567 398L1569 415L1590 419ZM1483 508L1488 504L1493 481L1488 475L1463 472L1462 474L1471 503ZM1532 470L1520 484L1524 499L1533 505L1549 496L1551 482ZM1411 544L1419 537L1419 524L1416 518L1387 531L1387 531L1391 537Z" fill="#d7c3eb" stroke="#a58fd0" stroke-width="1.6" stroke-linejoin="round"/><path d="M1315 459L1331 464L1338 458L1343 441L1333 432L1312 436ZM1394 451L1415 460L1419 457L1421 435L1412 427L1391 436ZM1412 509L1393 510L1387 531L1416 518Z" fill="#fad778" stroke="#e4b040" stroke-width="1.6" stroke-linejoin="round"/><path d="M1415 292h0M1482 289h0M1396 300h0M1464 293h0M1496 300h0M1521 302h0M1364 324h0M1381 315h0M1430 319h0M1477 313h0M1509 319h0M1348 336h0M1369 343h0M1395 346h0M1428 338h0M1473 340h0M1494 337h0M1518 337h0M1544 340h0M1565 337h0M1333 364h0M1412 358h0M1460 365h0M1489 358h0M1531 359h0M1322 384h0M1343 384h0M1416 384h0M1447 385h0M1491 379h0M1568 385h0M1591 387h0M1315 400h0M1329 403h0M1353 408h0M1409 402h0M1432 403h0M1460 405h0M1559 407h0M1604 407h0M1320 422h0M1347 427h0M1372 427h0M1398 423h0M1422 422h0M1465 423h0M1493 422h0M1518 425h0M1547 424h0M1575 428h0M1353 451h0M1480 447h0M1530 448h0M1344 472h0M1397 467h0M1422 471h0M1475 465h0M1517 468h0M1548 466h0M1571 470h0M1333 495h0M1356 495h0M1379 492h0M1402 495h0M1505 493h0M1563 490h0M1589 490h0M1348 513h0M1377 516h0M1427 509h0M1449 515h0M1468 516h0M1497 518h0M1520 511h0M1549 512h0M1574 511h0M1433 530h0M1458 541h0M1478 534h0M1532 530h0M1557 537h0M1398 551h0M1423 552h0M1444 557h0M1467 563h0M1494 550h0M1517 554h0M1541 554h0M1414 568h0M1435 572h0M1455 578h0M1504 573h0M1527 568h0" stroke="#f2b48e" stroke-width="6" stroke-linecap="round" fill="none"/><path d="M1438 286h0M1417 304h0M1441 298h0M1402 322h0M1452 320h0M1536 316h0M1555 320h0M1452 344h0M1378 367h0M1430 368h0M1508 365h0M1562 365h0M1582 358h0M1367 389h0M1393 384h0M1472 389h0M1521 380h0M1547 386h0M1482 409h0M1535 406h0M1444 420h0M1600 430h0M1379 446h0M1432 445h0M1457 445h0M1502 442h0M1555 443h0M1582 454h0M1607 449h0M1323 473h0M1371 471h0M1446 468h0M1498 466h0M1600 468h0M1429 489h0M1456 492h0M1360 528h0M1377 539h0M1513 533h0M1577 527h0M1480 577h0" stroke="#cf6878" stroke-width="6" stroke-linecap="round" fill="none"/><ellipse cx="1579" cy="403" rx="23" ry="9" transform="rotate(106 1579 403)" fill="#8c1a22" stroke="#c0444e" stroke-width="3.1"/><ellipse cx="1466" cy="458" rx="11" ry="8" transform="rotate(170 1466 458)" fill="#8c1a22" stroke="#c0444e" stroke-width="3.1"/><ellipse cx="1406" cy="531" rx="12" ry="12" transform="rotate(152 1406 531)" fill="#8c1a22" stroke="#c0444e" stroke-width="3.1"/><ellipse cx="1356" cy="423" rx="22" ry="10" transform="rotate(13 1356 423)" fill="#8c1a22" stroke="#c0444e" stroke-width="3.1"/><ellipse cx="1341" cy="350" rx="22" ry="9" transform="rotate(91 1341 350)" fill="#8c1a22" stroke="#c0444e" stroke-width="3.1"/><ellipse cx="1341" cy="389" rx="15" ry="11" transform="rotate(12 1341 389)" fill="#8c1a22" stroke="#c0444e" stroke-width="3.1"/><ellipse cx="1364" cy="373" rx="13" ry="8" transform="rotate(139 1364 373)" fill="#8c1a22" stroke="#c0444e" stroke-width="3.1"/><ellipse cx="1384" cy="466" rx="21" ry="8" transform="rotate(128 1384 466)" fill="#8c1a22" stroke="#c0444e" stroke-width="3.1"/><circle cx="1655" cy="322" r="152" fill="#f6c9c9"/><path d="M1622 184L1639 175L1632 176L1610 180ZM1599 198L1608 206L1623 195L1622 184L1610 180L1609 181L1607 182ZM1622 184L1623 195L1632 205L1648 186L1645 179L1639 175L1639 175ZM1645 179L1648 186L1659 197L1671 194L1674 182L1671 175L1655 174L1654 174ZM1674 182L1671 194L1685 205L1691 201L1696 188L1688 179ZM1696 188L1691 201L1710 208L1719 190L1716 183L1711 182ZM1719 190L1741 202L1747 197L1747 196L1747 196L1725 186L1716 183ZM1564 221L1566 219L1564 213L1557 209L1549 216L1545 220ZM1608 206L1610 215L1620 219L1633 213L1632 205L1623 195ZM1659 197L1648 186L1632 205L1633 213L1650 221L1652 220ZM1715 218L1710 208L1691 201L1685 205L1684 212L1700 224ZM1719 190L1710 208L1715 218L1726 224L1738 214L1741 202ZM1578 237L1577 224L1566 219L1564 221L1548 239L1557 257L1568 253ZM1579 223L1577 224L1578 237L1593 249L1605 251L1608 243L1595 225ZM1595 225L1608 243L1620 235L1620 219L1610 215ZM1650 221L1643 242L1662 250L1679 241L1673 225L1652 220ZM1757 227L1738 214L1726 224L1726 226L1739 245L1755 238ZM1782 243L1780 228L1767 222L1757 227L1755 238L1766 250ZM1780 228L1782 243L1786 246L1792 245L1783 229L1781 228ZM1529 240L1532 260L1553 264L1557 257L1548 239L1531 237L1531 237ZM1593 249L1578 237L1568 253L1581 264ZM1583 269L1595 276L1597 276L1610 263L1605 251L1593 249L1581 264ZM1605 251L1610 263L1627 267L1634 264L1639 245L1620 235L1608 243ZM1690 257L1720 261L1714 242L1695 241L1688 246ZM1720 261L1722 263L1736 262L1739 245L1726 226L1714 242ZM1513 294L1522 275L1521 270L1513 267L1510 275L1504 294ZM1627 267L1610 263L1597 276L1613 299L1625 287ZM1636 292L1653 286L1644 270L1634 264L1627 267L1625 287ZM1644 270L1653 286L1660 290L1675 273L1662 261ZM1736 262L1722 263L1712 283L1713 287L1734 288L1747 275L1745 269ZM1524 307L1513 294L1504 294L1503 298L1500 321ZM1542 290L1522 275L1513 294L1524 307L1531 309ZM1548 317L1566 309L1552 286L1542 290L1531 309L1531 310ZM1566 309L1570 310L1583 304L1583 293L1566 280L1556 280L1552 286ZM1713 287L1712 283L1709 282L1686 283L1687 306L1696 305L1711 297ZM1734 288L1713 287L1711 297L1718 304L1737 303ZM1758 285L1747 275L1734 288L1737 303L1751 312L1753 310ZM1779 309L1784 301L1784 293L1776 282L1758 285L1753 310ZM1538 339L1550 328L1548 317L1531 310L1528 327ZM1550 328L1558 333L1571 321L1570 310L1566 309L1548 317ZM1602 330L1602 329L1601 312L1583 304L1570 310L1571 321L1583 336ZM1646 313L1637 312L1634 313L1629 324L1634 341L1655 329ZM1665 333L1677 328L1681 309L1661 296L1646 313L1655 329ZM1751 312L1749 321L1763 334L1784 332L1785 329L1779 309L1753 310ZM1509 337L1509 338L1522 352L1538 348L1538 339L1528 327ZM1538 348L1546 354L1563 347L1558 333L1550 328L1538 339ZM1578 344L1583 336L1571 321L1558 333L1563 347L1569 348ZM1634 341L1631 347L1646 359L1646 359L1662 351L1665 333L1655 329ZM1735 330L1721 322L1707 327L1702 335L1711 347L1728 348L1733 340ZM1790 345L1784 332L1763 334L1761 350L1771 358ZM1784 332L1790 345L1798 350L1804 346L1805 346L1807 323L1805 319L1785 329ZM1509 338L1503 351L1507 366L1515 372L1516 372L1522 352ZM1603 378L1621 368L1619 350L1612 348L1595 363L1595 366L1597 373ZM1619 350L1621 368L1632 379L1646 359L1631 347ZM1646 359L1659 382L1674 362L1662 351ZM1687 347L1677 363L1691 376L1702 369L1703 360ZM1771 358L1761 350L1754 353L1744 372L1751 376L1772 365ZM1797 372L1799 369L1799 365L1798 350L1790 345L1771 358L1772 365L1784 378ZM1597 373L1595 366L1572 370L1565 379L1566 389L1575 395ZM1575 396L1597 401L1609 393L1603 378L1597 373L1575 395ZM1659 386L1669 391L1690 381L1691 376L1677 363L1674 362L1659 382ZM1731 396L1750 402L1761 392L1751 376L1744 372L1733 373L1732 374ZM1772 365L1751 376L1761 392L1778 395L1784 378ZM1552 398L1534 395L1528 405L1532 411L1542 423L1552 418ZM1621 417L1618 395L1609 393L1597 401L1598 417L1609 423ZM1618 395L1621 417L1633 423L1647 413L1643 394L1632 388ZM1647 413L1657 418L1673 408L1669 391L1659 386L1643 394ZM1689 414L1698 396L1690 381L1669 391L1673 408L1687 415ZM1740 421L1751 420L1750 402L1731 396L1724 403ZM1778 395L1761 392L1750 402L1751 420L1758 424L1766 421L1776 410L1778 407L1780 399ZM1575 436L1581 431L1581 428L1574 409L1555 419L1572 436ZM1608 438L1609 423L1598 417L1581 428L1581 431L1603 440ZM1625 448L1633 439L1633 423L1621 417L1609 423L1608 438ZM1633 423L1633 439L1653 443L1661 434L1657 418L1647 413ZM1711 426L1711 425L1689 414L1687 415L1679 437L1682 442L1700 444ZM1595 457L1611 464L1625 456L1625 448L1608 438L1603 440ZM1728 437L1728 435L1711 426L1700 444L1704 451L1710 455L1728 451L1729 450ZM1728 437L1729 450L1742 442L1748 437ZM1664 463L1657 459L1638 469L1642 474L1655 475L1662 474ZM1675 462L1664 463L1662 474L1679 471L1683 470ZM1688 469L1701 464L1710 460L1710 455L1704 451Z" fill="#f6c9c9" stroke="#e08c96" stroke-width="1.6" stroke-linejoin="round"/><path d="M1688 179L1696 188L1711 182L1702 179L1688 177ZM1592 199L1599 198L1607 182L1587 189L1583 191ZM1592 199L1579 223L1595 225L1610 215L1608 206L1599 198ZM1673 225L1684 212L1685 205L1671 194L1659 197L1652 220ZM1738 214L1757 227L1767 222L1768 212L1766 211L1749 198L1747 197L1741 202ZM1548 239L1564 221L1545 220L1533 233L1531 237ZM1695 241L1700 224L1684 212L1673 225L1679 241L1688 246ZM1639 245L1634 264L1644 270L1662 261L1662 250L1643 242ZM1679 241L1662 250L1662 261L1675 273L1678 273L1689 260L1690 257L1688 246ZM1766 250L1755 238L1739 245L1736 262L1745 269L1764 255ZM1779 274L1788 268L1786 246L1782 243L1766 250L1764 255ZM1801 270L1795 251L1792 245L1786 246L1788 268ZM1556 280L1553 264L1532 260L1521 270L1522 275L1542 290L1552 286ZM1583 269L1581 264L1568 253L1557 257L1553 264L1556 280L1566 280ZM1583 293L1595 276L1583 269L1566 280ZM1689 260L1678 273L1686 283L1709 282ZM1689 260L1709 282L1712 283L1722 263L1720 261L1690 257ZM1745 269L1747 275L1758 285L1776 282L1779 274L1764 255ZM1776 282L1784 293L1804 285L1803 274L1801 270L1788 268L1779 274ZM1601 312L1612 301L1613 299L1597 276L1595 276L1583 293L1583 304ZM1637 312L1636 292L1625 287L1613 299L1612 301L1634 313ZM1646 313L1661 296L1660 290L1653 286L1636 292L1637 312ZM1784 293L1784 301L1807 309L1807 298L1804 285ZM1509 337L1528 327L1531 310L1531 309L1524 307L1500 321L1500 322L1501 330ZM1612 301L1601 312L1602 329L1629 324L1634 313ZM1687 306L1681 309L1677 328L1688 336L1702 335L1707 327L1696 305ZM1711 297L1696 305L1707 327L1721 322L1718 304ZM1737 303L1718 304L1721 322L1735 330L1749 321L1751 312ZM1784 301L1779 309L1785 329L1805 319L1807 313L1807 309ZM1578 344L1595 363L1612 348L1602 330L1583 336ZM1629 324L1602 329L1602 330L1612 348L1619 350L1631 347L1634 341ZM1662 351L1674 362L1677 363L1687 347L1688 336L1677 328L1665 333ZM1711 347L1702 335L1688 336L1687 347L1703 360ZM1522 352L1516 372L1530 379L1546 368L1546 354L1538 348ZM1563 347L1546 354L1546 368L1565 379L1572 370L1569 348ZM1572 370L1595 366L1595 363L1578 344L1569 348ZM1732 374L1733 373L1728 348L1711 347L1703 360L1702 369L1718 374ZM1565 379L1546 368L1530 379L1534 395L1552 398L1566 389ZM1621 368L1603 378L1609 393L1618 395L1632 388L1632 379ZM1731 396L1732 374L1718 374L1707 397L1721 404L1724 403ZM1784 378L1778 395L1780 399L1783 399L1789 390L1797 372ZM1574 409L1575 396L1575 395L1566 389L1552 398L1552 418L1555 419ZM1574 409L1581 428L1598 417L1597 401L1575 396ZM1555 419L1552 418L1542 423L1548 429L1561 441L1572 436ZM1575 436L1572 436L1561 441L1566 445L1582 456ZM1595 457L1603 440L1581 431L1575 436L1582 456L1586 458L1587 459ZM1653 443L1657 459L1664 463L1675 462L1682 442L1679 437L1661 434ZM1704 451L1700 444L1682 442L1675 462L1683 470L1688 469ZM1611 464L1595 457L1587 459L1607 468L1610 469ZM1636 468L1625 456L1611 464L1610 469L1631 474L1632 474Z" fill="#b898d8" stroke="#9472c0" stroke-width="1.6" stroke-linejoin="round"/><path d="M1564 213L1566 219L1577 224L1579 223L1592 199L1583 191L1567 201L1567 201ZM1714 242L1726 226L1726 224L1715 218L1700 224L1695 241ZM1687 306L1686 283L1678 273L1675 273L1660 290L1661 296L1681 309ZM1754 353L1761 350L1763 334L1749 321L1735 330L1733 340ZM1625 448L1625 456L1636 468L1638 469L1657 459L1653 443L1633 439Z" fill="#ef8fa3" stroke="#d46880" stroke-width="1.6" stroke-linejoin="round"/><path d="M1620 235L1639 245L1643 242L1650 221L1633 213L1620 219ZM1532 260L1529 240L1529 240L1520 253L1513 267L1521 270ZM1728 348L1733 373L1744 372L1754 353L1733 340ZM1534 395L1530 379L1516 372L1515 372L1511 376L1518 392L1528 405ZM1632 379L1632 388L1643 394L1659 386L1659 382L1646 359L1646 359ZM1718 374L1702 369L1691 376L1690 381L1698 396L1707 397ZM1707 397L1698 396L1689 414L1711 425L1721 404ZM1673 408L1657 418L1661 434L1679 437L1687 415ZM1721 404L1711 425L1711 426L1728 435L1740 421L1724 403ZM1758 424L1751 420L1740 421L1728 435L1728 437L1748 437L1757 429Z" fill="#a8c8ee" stroke="#6c98d4" stroke-width="1.6" stroke-linejoin="round"/><path d="M1623 179h0M1611 192h0M1634 188h0M1660 184h0M1683 191h0M1706 194h0M1731 192h0M1556 216h0M1620 207h0M1646 204h0M1698 212h0M1725 207h0M1564 237h0M1591 236h0M1609 227h0M1660 235h0M1741 229h0M1768 235h0M1784 238h0M1542 250h0M1579 250h0M1595 261h0M1621 251h0M1703 250h0M1726 246h0M1513 281h0M1613 278h0M1637 278h0M1659 274h0M1729 275h0M1509 306h0M1527 292h0M1548 302h0M1568 294h0M1698 292h0M1723 295h0M1746 293h0M1768 297h0M1538 324h0M1559 320h0M1586 319h0M1640 325h0M1664 315h0M1767 320h0M1525 340h0M1549 341h0M1569 335h0M1649 343h0M1719 335h0M1774 343h0M1796 334h0M1512 355h0M1608 363h0M1630 361h0M1659 364h0M1690 362h0M1758 363h0M1786 361h0M1579 378h0M1594 389h0M1674 377h0M1743 387h0M1768 380h0M1541 407h0M1609 407h0M1632 405h0M1657 401h0M1683 397h0M1739 408h0M1763 406h0M1570 422h0M1597 428h0M1620 431h0M1646 429h0M1693 430h0M1610 451h0M1715 441h0M1735 441h0M1652 468h0M1671 467h0M1701 459h0" stroke="#eaa0a8" stroke-width="6" stroke-linecap="round" fill="none"/><path d="M1697 181h0M1595 190h0M1595 212h0M1668 209h0M1753 212h0M1546 229h0M1686 229h0M1647 255h0M1675 256h0M1749 253h0M1778 257h0M1792 258h0M1540 273h0M1566 267h0M1581 280h0M1691 274h0M1706 267h0M1762 272h0M1790 279h0M1596 295h0M1627 299h0M1647 298h0M1796 297h0M1516 322h0M1615 315h0M1691 321h0M1709 312h0M1733 315h0M1792 314h0M1595 345h0M1619 336h0M1674 344h0M1698 345h0M1532 362h0M1559 362h0M1580 358h0M1718 361h0M1547 384h0M1618 382h0M1721 388h0M1786 385h0M1562 403h0M1585 410h0M1556 429h0M1572 444h0M1588 444h0M1667 447h0M1688 454h0M1600 462h0M1623 465h0" stroke="#8c68ba" stroke-width="6" stroke-linecap="round" fill="none"/><ellipse cx="1608" cy="303" rx="15" ry="10" transform="rotate(82 1608 303)" fill="#8c1a22" stroke="#c0444e" stroke-width="3.1"/><ellipse cx="1796" cy="318" rx="24" ry="11" transform="rotate(98 1796 318)" fill="#8c1a22" stroke="#c0444e" stroke-width="3.1"/><ellipse cx="1674" cy="243" rx="16" ry="12" transform="rotate(94 1674 243)" fill="#8c1a22" stroke="#c0444e" stroke-width="3.1"/><ellipse cx="1711" cy="354" rx="22" ry="9" transform="rotate(100 1711 354)" fill="#8c1a22" stroke="#c0444e" stroke-width="3.1"/><ellipse cx="1611" cy="289" rx="14" ry="10" transform="rotate(97 1611 289)" fill="#8c1a22" stroke="#c0444e" stroke-width="3.1"/><ellipse cx="1759" cy="239" rx="22" ry="10" transform="rotate(134 1759 239)" fill="#8c1a22" stroke="#c0444e" stroke-width="3.1"/><ellipse cx="1707" cy="260" rx="14" ry="10" transform="rotate(139 1707 260)" fill="#8c1a22" stroke="#c0444e" stroke-width="3.1"/><ellipse cx="1580" cy="334" rx="15" ry="11" transform="rotate(7 1580 334)" fill="#8c1a22" stroke="#c0444e" stroke-width="3.1"/><circle cx="1775" cy="548" r="152" fill="#fbe3a0"/><path d="M1747 414L1762 408L1760 403L1752 404L1739 406ZM1762 408L1776 409L1782 402L1782 402L1775 402L1760 403ZM1782 402L1803 415L1815 405L1798 403L1782 402ZM1702 425L1706 430L1724 421L1728 408L1707 414L1703 416ZM1736 432L1748 422L1747 414L1739 406L1729 407L1728 408L1724 421ZM1756 429L1775 425L1776 409L1762 408L1747 414L1748 422ZM1776 409L1775 425L1783 436L1803 427L1803 415L1782 402ZM1803 427L1812 433L1831 428L1832 427L1821 406L1815 405L1803 415ZM1849 422L1850 416L1844 413L1821 406L1821 406L1832 427ZM1679 441L1695 448L1707 442L1706 430L1702 425L1687 424L1685 425L1675 432ZM1707 442L1719 451L1734 440L1736 432L1724 421L1706 430ZM1750 448L1756 445L1756 429L1748 422L1736 432L1734 440ZM1831 428L1812 433L1811 445L1824 460L1835 451ZM1643 472L1663 485L1673 463L1669 458L1657 453L1652 455L1650 457L1648 459ZM1688 465L1695 448L1679 441L1669 458L1673 463ZM1745 466L1764 472L1767 471L1771 451L1756 445L1750 448ZM1782 479L1795 460L1794 454L1782 444L1771 451L1767 471ZM1853 449L1850 454L1858 471L1859 471L1873 469L1875 446ZM1873 469L1879 471L1888 468L1897 454L1896 453L1881 438L1875 446ZM1647 499L1665 489L1665 489L1663 485L1643 472L1640 473L1637 478L1631 492ZM1663 485L1665 489L1678 487L1694 475L1688 465L1673 463ZM1745 466L1733 470L1736 486L1754 497L1764 472ZM1830 490L1848 504L1859 491L1859 471L1858 471L1830 481ZM1879 471L1873 469L1859 471L1859 491L1876 496L1884 491ZM1899 497L1906 491L1906 479L1888 468L1879 471L1884 491ZM1670 505L1665 489L1647 499L1646 511L1654 514ZM1693 505L1692 501L1678 487L1665 489L1665 489L1670 505L1681 516ZM1713 509L1718 506L1719 501L1704 479L1703 479L1692 501L1693 505ZM1754 498L1754 497L1736 486L1719 501L1718 506L1733 519L1749 515ZM1781 511L1769 500L1754 498L1749 515L1758 524L1762 526ZM1798 500L1796 491L1783 481L1769 500L1781 511L1786 511L1796 504ZM1822 498L1798 500L1796 504L1811 522L1822 509ZM1859 491L1848 504L1850 514L1853 516L1872 513L1876 496ZM1876 496L1872 513L1886 522L1898 511L1899 497L1884 491ZM1906 491L1899 497L1898 511L1906 516L1927 515L1923 500L1920 493ZM1631 532L1630 522L1626 517L1624 517L1623 524L1621 540L1622 540ZM1670 505L1654 514L1658 529L1681 527L1681 516ZM1681 527L1684 531L1698 534L1702 533L1713 509L1693 505L1681 516ZM1749 515L1733 519L1730 531L1745 542L1758 524ZM1770 539L1790 539L1786 511L1781 511L1762 526ZM1786 511L1790 539L1791 539L1813 533L1811 522L1796 504ZM1811 522L1813 533L1816 534L1827 530L1835 520L1822 509ZM1845 542L1855 527L1853 516L1850 514L1835 520L1827 530ZM1853 516L1855 527L1869 538L1886 526L1886 522L1872 513ZM1886 526L1895 540L1912 540L1906 516L1898 511L1886 522ZM1636 564L1655 558L1648 539L1631 532L1622 540L1621 543L1621 548L1621 554ZM1658 529L1648 539L1655 558L1659 560L1675 555L1684 531L1681 527ZM1684 531L1675 555L1681 560L1698 559L1698 534ZM1698 559L1710 566L1722 557L1719 541L1702 533L1698 534ZM1722 557L1733 561L1748 555L1745 542L1730 531L1719 541ZM1758 524L1745 542L1748 555L1755 557L1763 551L1770 539L1762 526ZM1763 551L1787 566L1793 557L1791 539L1790 539L1770 539ZM1816 534L1822 555L1833 562L1845 550L1845 542L1827 530ZM1869 538L1855 527L1845 542L1845 550L1866 555L1870 554ZM1878 559L1886 557L1895 540L1886 526L1869 538L1870 554ZM1906 568L1916 555L1915 541L1912 540L1895 540L1886 557ZM1915 541L1916 555L1930 560L1931 548L1929 533ZM1636 564L1621 554L1623 572L1625 581L1631 578ZM1708 578L1710 566L1698 559L1681 560L1685 576L1706 580ZM1725 591L1737 582L1733 561L1722 557L1710 566L1708 578ZM1809 560L1793 557L1787 566L1785 577L1801 584L1808 583ZM1824 587L1836 577L1833 562L1822 555L1809 560L1808 583ZM1845 550L1833 562L1836 577L1849 581L1866 555ZM1866 555L1849 581L1853 585L1868 584L1877 576L1878 559L1870 554ZM1877 576L1900 588L1906 569L1906 568L1886 557L1878 559ZM1659 576L1648 589L1647 596L1662 609L1677 592L1676 588ZM1696 600L1711 609L1725 604L1725 591L1708 578L1706 580ZM1764 601L1774 599L1778 581L1761 574L1748 585L1752 596ZM1801 584L1785 577L1778 581L1774 599L1775 600L1798 602ZM1823 601L1824 587L1808 583L1801 584L1798 602L1802 610ZM1868 584L1878 600L1886 602L1900 589L1900 588L1877 576ZM1906 569L1900 588L1900 589L1912 598L1922 595L1927 578ZM1693 601L1686 618L1692 629L1708 620L1711 609L1696 600ZM1708 620L1723 635L1736 616L1735 613L1725 604L1711 609ZM1780 616L1775 600L1774 599L1764 601L1756 619L1767 625ZM1831 612L1823 601L1802 610L1801 612L1817 628L1832 617ZM1831 612L1832 617L1842 623L1859 616L1860 613L1853 593ZM1912 598L1900 589L1886 602L1890 620L1900 626L1908 620L1910 617L1911 617ZM1660 621L1652 625L1649 633L1652 637L1665 651L1676 644ZM1708 647L1723 636L1723 635L1708 620L1692 629L1691 635ZM1759 649L1770 645L1767 625L1756 619L1747 621L1751 646ZM1784 648L1793 641L1790 622L1780 616L1767 625L1770 645ZM1817 628L1801 612L1790 622L1793 641L1809 642L1811 640ZM1845 645L1855 648L1871 642L1872 626L1859 616L1842 623L1843 641ZM1872 626L1871 642L1880 648L1886 647L1896 636L1900 631L1900 626L1890 620ZM1689 666L1677 644L1676 644L1665 651L1668 655L1685 668ZM1689 666L1700 669L1707 663L1708 647L1691 635L1677 644ZM1738 649L1723 636L1708 647L1707 663L1725 667L1733 663ZM1759 649L1751 646L1738 649L1733 663L1746 671L1757 666ZM1880 648L1871 642L1855 648L1858 661L1867 665L1879 655ZM1725 667L1707 663L1700 669L1700 677L1707 681L1729 691L1729 691ZM1773 685L1783 695L1794 690L1797 669L1786 661L1772 683L1772 684ZM1832 662L1822 666L1820 671L1820 681L1832 687L1843 681L1851 676L1850 673ZM1858 661L1850 673L1851 676L1863 668L1867 665ZM1783 695L1773 685L1758 698L1775 700L1783 699ZM1783 699L1799 698L1815 693L1815 689L1794 690L1783 695Z" fill="#fbe3a0" stroke="#e9bd60" stroke-width="1.6" stroke-linejoin="round"/><path d="M1657 453L1669 458L1679 441L1675 432L1666 439L1659 446ZM1771 451L1782 444L1783 436L1775 425L1756 429L1756 445ZM1803 427L1783 436L1782 444L1794 454L1811 445L1812 433ZM1850 454L1853 449L1855 426L1849 422L1832 427L1831 428L1835 451ZM1855 426L1853 449L1875 446L1881 438L1881 437L1868 427ZM1694 475L1703 479L1704 479L1722 464L1719 451L1707 442L1695 448L1688 465ZM1719 451L1722 464L1733 470L1745 466L1750 448L1734 440ZM1811 445L1794 454L1795 460L1814 471L1821 470L1824 460ZM1888 468L1906 479L1910 473L1900 457L1897 454ZM1692 501L1703 479L1694 475L1678 487ZM1722 464L1704 479L1719 501L1736 486L1733 470ZM1769 500L1783 481L1782 479L1767 471L1764 472L1754 497L1754 498ZM1796 491L1814 471L1795 460L1782 479L1783 481ZM1830 490L1830 481L1821 470L1814 471L1796 491L1798 500L1822 498ZM1906 479L1906 491L1920 493L1913 478L1910 473ZM1626 517L1630 522L1646 511L1647 499L1631 492L1628 500L1625 513ZM1835 520L1850 514L1848 504L1830 490L1822 498L1822 509ZM1646 511L1630 522L1631 532L1648 539L1658 529L1654 514ZM1719 541L1730 531L1733 519L1718 506L1713 509L1702 533ZM1685 576L1681 560L1675 555L1659 560L1659 576L1676 588ZM1761 574L1755 557L1748 555L1733 561L1737 582L1748 585ZM1761 574L1778 581L1785 577L1787 566L1763 551L1755 557ZM1916 555L1906 568L1906 569L1927 578L1928 572L1930 560ZM1631 578L1625 581L1628 596L1630 600L1638 602L1647 596L1648 589ZM1685 576L1676 588L1677 592L1693 601L1696 600L1706 580ZM1725 604L1735 613L1752 596L1748 585L1737 582L1725 591ZM1849 581L1836 577L1824 587L1823 601L1831 612L1853 593L1853 585ZM1853 585L1853 593L1860 613L1878 600L1868 584ZM1652 625L1660 621L1663 616L1662 609L1647 596L1638 602L1636 612L1638 618L1638 618ZM1662 609L1663 616L1686 618L1693 601L1677 592ZM1756 619L1764 601L1752 596L1735 613L1736 616L1747 621ZM1860 613L1859 616L1872 626L1890 620L1886 602L1878 600ZM1691 635L1692 629L1686 618L1663 616L1660 621L1676 644L1677 644ZM1747 621L1736 616L1723 635L1723 636L1738 649L1751 646ZM1842 623L1832 617L1817 628L1811 640L1843 641ZM1786 661L1784 648L1770 645L1759 649L1757 666L1772 683ZM1811 640L1809 642L1822 666L1832 662L1845 645L1843 641ZM1858 661L1855 648L1845 645L1832 662L1850 673ZM1745 684L1746 671L1733 663L1725 667L1729 691L1737 693ZM1797 669L1794 690L1815 689L1820 681L1820 671ZM1773 685L1772 684L1745 684L1737 693L1751 697L1758 698ZM1815 689L1815 693L1822 691L1832 687L1820 681Z" fill="#eba8bf" stroke="#cf7f9c" stroke-width="1.6" stroke-linejoin="round"/><path d="M1824 460L1821 470L1830 481L1858 471L1850 454L1835 451ZM1906 516L1912 540L1915 541L1929 533L1929 524L1927 515ZM1802 610L1798 602L1775 600L1780 616L1790 622L1801 612ZM1793 641L1784 648L1786 661L1797 669L1820 671L1822 666L1809 642Z" fill="#9fd2a8" stroke="#5fae74" stroke-width="1.6" stroke-linejoin="round"/><path d="M1813 533L1791 539L1793 557L1809 560L1822 555L1816 534ZM1659 576L1659 560L1655 558L1636 564L1631 578L1648 589ZM1772 683L1757 666L1746 671L1745 684L1772 684Z" fill="#cdb2e6" stroke="#9f7fc8" stroke-width="1.6" stroke-linejoin="round"/><path d="M1751 407h0M1770 405h0M1799 407h0M1713 418h0M1735 418h0M1762 418h0M1787 419h0M1815 420h0M1835 416h0M1692 435h0M1720 435h0M1746 435h0M1823 442h0M1658 467h0M1681 453h0M1758 458h0M1780 461h0M1863 458h0M1883 455h0M1647 486h0M1677 475h0M1747 479h0M1846 486h0M1870 482h0M1892 482h0M1657 502h0M1678 500h0M1705 496h0M1736 503h0M1763 511h0M1784 497h0M1810 507h0M1861 504h0M1885 505h0M1911 504h0M1625 528h0M1667 518h0M1695 519h0M1743 527h0M1778 526h0M1798 523h0M1822 522h0M1842 527h0M1869 524h0M1898 527h0M1636 548h0M1665 542h0M1688 546h0M1708 549h0M1732 547h0M1757 541h0M1780 550h0M1830 545h0M1857 542h0M1881 543h0M1902 552h0M1923 547h0M1627 567h0M1696 568h0M1723 573h0M1798 570h0M1820 571h0M1847 564h0M1865 571h0M1890 571h0M1661 592h0M1711 595h0M1763 587h0M1787 590h0M1810 595h0M1883 589h0M1912 583h0M1697 614h0M1721 617h0M1768 612h0M1817 614h0M1846 610h0M1899 607h0M1661 636h0M1706 633h0M1758 634h0M1779 632h0M1802 629h0M1856 632h0M1884 633h0M1677 655h0M1694 652h0M1721 652h0M1746 657h0M1867 652h0M1714 675h0M1785 678h0M1833 674h0M1857 667h0M1772 694h0M1798 693h0" stroke="#f0b040" stroke-width="6" stroke-linecap="round" fill="none"/><path d="M1668 445h0M1769 437h0M1797 440h0M1843 437h0M1865 437h0M1704 460h0M1734 455h0M1810 458h0M1899 467h0M1691 486h0M1721 481h0M1767 485h0M1797 475h0M1814 486h0M1911 484h0M1635 506h0M1834 505h0M1644 525h0M1717 524h0M1671 570h0M1746 569h0M1771 566h0M1919 566h0M1635 590h0M1690 587h0M1737 596h0M1836 592h0M1863 596h0M1649 611h0M1677 606h0M1750 609h0M1876 613h0M1676 628h0M1738 633h0M1829 631h0M1771 661h0M1826 650h0M1846 658h0M1735 677h0M1806 679h0M1754 689h0M1821 687h0" stroke="#dd6c98" stroke-width="6" stroke-linecap="round" fill="none"/><ellipse cx="1790" cy="441" rx="15" ry="12" transform="rotate(128 1790 441)" fill="#8c1a22" stroke="#c0444e" stroke-width="3.1"/><ellipse cx="1680" cy="628" rx="25" ry="11" transform="rotate(30 1680 628)" fill="#8c1a22" stroke="#c0444e" stroke-width="3.1"/><ellipse cx="1654" cy="595" rx="18" ry="11" transform="rotate(39 1654 595)" fill="#8c1a22" stroke="#c0444e" stroke-width="3.1"/><ellipse cx="1668" cy="466" rx="11" ry="10" transform="rotate(13 1668 466)" fill="#8c1a22" stroke="#c0444e" stroke-width="3.1"/><ellipse cx="1837" cy="488" rx="15" ry="11" transform="rotate(61 1837 488)" fill="#8c1a22" stroke="#c0444e" stroke-width="3.1"/><ellipse cx="1705" cy="594" rx="19" ry="9" transform="rotate(168 1705 594)" fill="#8c1a22" stroke="#c0444e" stroke-width="3.1"/><ellipse cx="1663" cy="596" rx="16" ry="11" transform="rotate(32 1663 596)" fill="#8c1a22" stroke="#c0444e" stroke-width="3.1"/><ellipse cx="1863" cy="484" rx="15" ry="9" transform="rotate(66 1863 484)" fill="#8c1a22" stroke="#c0444e" stroke-width="3.1"/></g><g transform="translate(340 1520) scale(0.18305)"><path d="M290 720C293.3 675 308.3 635 330 600C351.7 565 381.7 534.2 420 510C458.3 485.8 510 469.2 560 455C610 440.8 670 440.8 720 425C770 409.2 820 389.2 860 360C900 330.8 928.3 288.3 960 250C991.7 211.7 1015 165 1050 130C1085 95 1128.3 62.5 1170 40C1211.7 17.5 1256.7 1.7 1300 -5C1343.3 -11.7 1388.3 -10.8 1430 0C1471.7 10.8 1515 26.7 1550 60C1585 93.3 1616.7 143.3 1640 200C1663.3 256.7 1679.2 330 1690 400C1700.8 470 1705 550 1705 620C1705 690 1700.8 763.3 1690 820C1679.2 876.7 1665 921.7 1640 960C1615 998.3 1580 1027.5 1540 1050C1500 1072.5 1456.7 1085.8 1400 1095C1343.3 1104.2 1275 1103.3 1200 1105C1125 1106.7 1033.3 1106.7 950 1105C866.7 1103.3 771.7 1101.7 700 1095C628.3 1088.3 571.7 1082.5 520 1065C468.3 1047.5 425 1022.5 390 990C355 957.5 326.7 915 310 870C293.3 825 286.7 765 290 720Z" fill="#e1eefa" stroke="#8aa4dc" stroke-width="11"/><path d="M185 720H440C560 720 540 520 660 520M1100 520H1200C1330 520 1300 720 1480 720H1785M185 830H440C560 830 540 1025 660 1025M1205 1025C1330 1025 1320 830 1480 830H1785" fill="none" stroke="#967da0" stroke-width="13"/><path d="M215 725V825M249 725V825M283 725V825M317 725V825M351 725V825M385 725V825M419 725V825M1500 725V825M1534 725V825M1568 725V825M1602 725V825M1636 725V825M1670 725V825M1704 725V825M1738 725V825M1772 725V825" stroke="#967da0" stroke-width="9"/><path d="M660 520H1100M660 625H1150C1215 625 1232 590 1232 540V410M660 1025H1100" fill="none" stroke="#551ebe" stroke-width="14"/><path d="M690 525V620M720 525V620M750 525V620M780 525V620M810 525V620M840 525V620M870 525V620M900 525V620M930 525V620M960 525V620M990 525V620M1020 525V620M1050 525V620M1080 525V620" stroke="#551ebe" stroke-width="8"/><path d="M678 1022V978M710 1022V978M742 1022V978M774 1022V978M806 1022V978M838 1022V978M870 1022V978M902 1022V978M934 1022V978M966 1022V978M998 1022V978M1030 1022V978M1062 1022V978M1094 1022V978" stroke="#551ebe" stroke-width="8"/><path d="M1100 1025H1205M1120 1022V978M1155 1022V978M1190 1022V978" stroke="#d62ad0" stroke-width="9" fill="none"/><path d="M1100 1025H1205" stroke="#d62ad0" stroke-width="14"/><path d="M1232 410V235" stroke="#161616" stroke-width="14"/><path d="M1325 235V430C1325 480 1372 490 1400 465C1430 440 1415 390 1430 350C1445 310 1500 300 1495 345C1490 390 1440 400 1430 440C1425 480 1455 505 1480 480" fill="none" stroke="#e63c14" stroke-width="14" stroke-linecap="round"/><path d="M1232 240C1232 150 1325 150 1325 240" fill="none" stroke="#144a8c" stroke-width="14"/><path d="M1238 245H1278M1238 281H1278M1238 317H1278M1238 353H1278M1238 389H1278" stroke="#161616" stroke-width="9"/><path d="M1278 245H1320M1278 281H1320M1278 317H1320M1278 353H1320M1278 389H1320" stroke="#e63c14" stroke-width="9"/><circle cx="945" cy="580" r="60" fill="url(#glow)"/><circle cx="945" cy="1015" r="75" fill="url(#glow)"/><g transform="translate(875 505)"><g fill="none" stroke="#161616" stroke-width="6"><circle cx="-52" cy="-62" r="19" fill="#fff"/><circle cx="28" cy="-118" r="19" fill="#fff"/><path d="M-36 -52L95 20M22 -100L52 55" stroke-width="8" stroke-linecap="round"/></g></g><g transform="translate(875 1045) scale(1 -1)"><g fill="none" stroke="#161616" stroke-width="6"><circle cx="-52" cy="-62" r="19" fill="#fff"/><circle cx="28" cy="-118" r="19" fill="#fff"/><path d="M-36 -52L95 20M22 -100L52 55" stroke-width="8" stroke-linecap="round"/></g></g></g><path d="M204.1 1365.5L208.4 1364L214 1362.1L220.5 1359.9L227.8 1357.4L235.8 1354.7L244 1351.9L252.5 1349L260.8 1346.1L268.9 1343.4L276.4 1340.8L284 1338.2L292.1 1335.5L300.4 1332.6L308.9 1329.8L317.1 1326.9L325.1 1324.2L332.4 1321.7L335.9 1320.5L334.6 1316.7L331.1 1318L323.8 1320.7L316 1323.6L307.7 1326.6L299.4 1329.7L291.1 1332.7L283.1 1335.6L275.6 1338.4L268.1 1341.1L260.1 1344.1L251.8 1347.1L243.4 1350.2L235.2 1353.2L227.4 1356.1L220.1 1358.8L213.6 1361.1L208.1 1363.2L203.9 1364.7Z" fill="#252525"/><path d="M348.1 1314.1L335.2 1325.6L330.8 1313.3Z" fill="#252525"/><path d="M393.2 1262.2L391.8 1260.9L390.1 1259.2L388 1257.3L385.6 1255.1L383.2 1252.8L380.7 1250.3L378.3 1247.7L376 1245.1L373.9 1242.6L372.2 1240.1L370.7 1237.6L369.2 1234.9L367.9 1232.1L366.6 1229.3L365.4 1226.4L364.4 1223.4L363.4 1220.5L362.6 1217.7L361.9 1214.9L361.4 1212.3L361 1209.7L360.7 1207.3L360.6 1204.8L360.7 1202.4L360.8 1200L361.1 1197.6L361.4 1195.3L361.7 1192.9L362.1 1190.5L362.6 1188.2L363 1185.8L363.5 1183.5L364.1 1181.2L364.8 1179L365.5 1176.7L366.3 1174.5L367.1 1172.3L368 1170.2L368.9 1168.2L369.8 1166.2L370.8 1164.4L371.9 1162.6L373 1160.8L374.2 1159.1L375.5 1157.5L376.8 1155.8L378.1 1154.2L379.4 1152.5L380.8 1150.8L382.1 1149.1L383.4 1147.4L383.5 1147.3L379.5 1144.3L379.5 1144.3L378.1 1146.1L376.8 1147.7L375.5 1149.4L374.2 1151L372.8 1152.7L371.5 1154.4L370.2 1156.2L368.9 1158L367.6 1159.9L366.5 1161.9L365.4 1164L364.3 1166.1L363.4 1168.3L362.5 1170.5L361.6 1172.8L360.8 1175.1L360 1177.5L359.3 1179.9L358.7 1182.4L358.1 1184.8L357.6 1187.2L357.2 1189.7L356.8 1192.1L356.4 1194.6L356.1 1197.1L355.8 1199.6L355.7 1202.2L355.7 1204.9L355.8 1207.6L356 1210.3L356.4 1213.1L357 1216L357.8 1219L358.6 1222L359.6 1225.1L360.8 1228.1L362 1231.2L363.3 1234.3L364.8 1237.2L366.3 1240.1L368 1242.9L369.9 1245.6L372.1 1248.4L374.6 1251.1L377.1 1253.8L379.7 1256.3L382.2 1258.7L384.6 1260.9L386.6 1262.9L388.3 1264.5L389.6 1265.8Z" fill="url(#ag1)"/><path d="M393.3 1131.3L389.5 1156.6L369.3 1140.1Z" fill="#252525"/><path d="M441.9 1294.7L444.3 1294.2L447.4 1293.5L451 1292.8L455.2 1291.9L459.6 1291L464.2 1290.1L469 1289.1L473.6 1288.1L478.2 1287.2L482.4 1286.3L486.6 1285.4L491.1 1284.5L495.8 1283.5L500.5 1282.5L505.1 1281.6L509.5 1280.6L513.6 1279.8L514.4 1279.6L513.6 1275.9L512.8 1276.1L508.7 1276.9L504.3 1277.9L499.7 1278.9L495 1279.9L490.3 1280.8L485.8 1281.8L481.6 1282.7L477.4 1283.6L472.9 1284.5L468.2 1285.5L463.5 1286.5L458.9 1287.4L454.4 1288.4L450.3 1289.2L446.6 1290L443.5 1290.6L441.1 1291.1Z" fill="url(#ag2)"/><path d="M522.3 1276L513.6 1283L511.5 1273.2Z" fill="#252525"/><path d="M543.8 981.4L545.6 981.7L548 982L550.7 982.4L553.8 982.9L557 983.4L560.4 984L563.8 984.7L567.1 985.5L570.2 986.3L573.1 987.2L575.8 988.3L578.5 989.5L581.2 990.7L583.8 992.1L586.5 993.5L589.1 995L591.7 996.6L594.2 998.3L596.8 1000L599.3 1001.8L601.8 1003.6L604.3 1005.6L606.8 1007.6L609.3 1009.7L611.7 1011.9L614.2 1014.1L616.5 1016.4L618.8 1018.6L621.1 1020.9L623.3 1023.1L625.3 1025.3L627.4 1027.5L629.3 1029.7L631.2 1031.9L633.1 1034.2L634.9 1036.5L636.7 1038.7L638.4 1041L640.2 1043.4L641.9 1045.7L643.7 1048.1L645.4 1050.5L647.2 1053L648.9 1055.5L650.5 1058L652.2 1060.5L653.7 1062.9L655.2 1065.3L656.7 1067.6L658 1069.8L659.2 1071.8L660.2 1073.8L661.2 1075.6L662.1 1077.4L663 1079.1L663.8 1080.9L664.6 1082.7L665.5 1084.5L666.3 1086.4L667.2 1088.4L668.2 1090.6L668.8 1091.8L673.7 1089.6L673.2 1088.4L672.2 1086.2L671.2 1084.2L670.4 1082.3L669.5 1080.4L668.7 1078.6L667.9 1076.8L667 1075L666 1073.1L665 1071.2L663.9 1069.2L662.6 1067L661.3 1064.8L659.8 1062.4L658.3 1060L656.7 1057.5L655 1055L653.3 1052.5L651.6 1049.9L649.8 1047.4L648 1044.9L646.3 1042.5L644.5 1040.1L642.7 1037.8L640.9 1035.4L639.1 1033.1L637.3 1030.8L635.3 1028.5L633.4 1026.2L631.4 1023.9L629.3 1021.6L627.1 1019.3L624.9 1017.1L622.6 1014.8L620.3 1012.5L617.8 1010.2L615.4 1007.9L612.8 1005.7L610.3 1003.5L607.7 1001.4L605.1 999.3L602.5 997.4L599.9 995.6L597.2 993.8L594.5 992.1L591.8 990.4L589.1 988.8L586.3 987.3L583.5 985.9L580.7 984.5L577.8 983.3L574.9 982.2L571.8 981.1L568.4 980.2L564.9 979.4L561.4 978.7L557.9 978.1L554.6 977.6L551.5 977.1L548.8 976.7L546.5 976.4L544.8 976Z" fill="url(#ag3)"/><path d="M679.2 1109.5L659.2 1091.9L680.4 1082.9Z" fill="#252525"/><path d="M422.5 1417.4L422.5 1419.3L422.5 1421.7L422.6 1424.5L422.6 1427.6L422.7 1431L422.7 1434.5L422.6 1438.1L422.5 1441.6L422.4 1444.9L422.1 1447.9L421.8 1450.9L421.5 1453.8L421.1 1456.8L420.7 1459.7L420.2 1462.5L419.6 1465.3L419 1468.1L418.3 1470.8L417.4 1473.5L416.5 1476.1L415.4 1478.7L414.2 1481.3L412.9 1484L411.5 1486.5L410 1489.1L408.4 1491.6L406.7 1493.9L405.1 1496.2L403.3 1498.4L401.6 1500.4L399.8 1502.2L397.8 1504L395.7 1505.7L393.5 1507.3L391.3 1508.8L389 1510.2L386.8 1511.6L384.7 1512.9L382.7 1514.2L380.9 1515.4L379.4 1516.4L378.1 1517.3L377.1 1518L376.2 1518.7L375.4 1519.2L374.6 1519.7L373.8 1520.2L372.7 1520.7L371.5 1521.2L369.9 1521.9L367.9 1522.6L365.7 1523.4L367.4 1528.5L369.8 1527.7L371.9 1526.9L373.6 1526.2L375 1525.6L376.3 1525L377.3 1524.4L378.3 1523.7L379.3 1523.1L380.2 1522.4L381.3 1521.7L382.5 1520.8L383.9 1519.8L385.6 1518.7L387.5 1517.5L389.7 1516.2L391.9 1514.8L394.2 1513.3L396.6 1511.7L399 1510L401.3 1508.1L403.5 1506.1L405.6 1504L407.5 1501.8L409.3 1499.5L411.1 1497.1L412.9 1494.5L414.6 1491.9L416.2 1489.2L417.7 1486.5L419.1 1483.7L420.3 1480.9L421.5 1478.1L422.6 1475.2L423.5 1472.3L424.2 1469.4L424.9 1466.5L425.5 1463.5L426 1460.5L426.4 1457.5L426.8 1454.5L427.2 1451.5L427.5 1448.5L427.8 1445.2L427.9 1441.8L428 1438.2L428.1 1434.6L428.1 1431L428 1427.6L428 1424.4L427.9 1421.6L427.9 1419.2L427.9 1417.4Z" fill="url(#ag4)"/><path d="M346.2 1532.1L366.7 1513.4L373.6 1536.4Z" fill="#252525"/><path d="M257.9 1636.2L257.9 1637.3L257.8 1638.8L257.7 1640.7L257.6 1642.7L257.5 1645L257.5 1647.4L257.5 1649.9L257.6 1652.3L257.9 1654.7L258.4 1657L258.9 1659.2L259.6 1661.3L260.4 1663.5L261.2 1665.7L262.2 1667.9L263.2 1670L264.4 1672.1L265.7 1674L267.1 1675.9L268.7 1677.6L270.4 1679.1L272.2 1680.5L274.1 1681.8L276.1 1682.9L278.1 1684L280.3 1684.9L282.4 1685.8L284.7 1686.5L286.9 1687.2L289.2 1687.9L291.5 1688.5L293.9 1689L296.4 1689.5L298.9 1689.8L301.4 1690.2L304 1690.4L306.7 1690.6L309.4 1690.7L312.2 1690.8L315 1690.9L317.9 1690.9L321 1690.8L324.2 1690.7L327.4 1690.5L330.7 1690.3L333.9 1690.1L337.1 1689.8L340.2 1689.5L343.2 1689.2L346 1689L348.2 1688.8L347.7 1683.4L345.6 1683.6L342.7 1683.9L339.7 1684.1L336.6 1684.4L333.5 1684.7L330.3 1684.9L327.1 1685.1L323.9 1685.3L320.8 1685.4L317.9 1685.5L315 1685.5L312.3 1685.4L309.6 1685.3L307 1685.2L304.5 1685L302 1684.8L299.6 1684.5L297.3 1684.1L295 1683.7L292.8 1683.3L290.6 1682.7L288.5 1682.1L286.4 1681.4L284.3 1680.7L282.3 1679.9L280.4 1679.1L278.6 1678.2L276.9 1677.2L275.3 1676.2L273.8 1675L272.5 1673.8L271.3 1672.4L270.1 1670.9L269 1669.2L268 1667.5L267.1 1665.6L266.2 1663.6L265.4 1661.6L264.7 1659.6L264.1 1657.7L263.6 1655.8L263.3 1653.9L263 1651.9L262.9 1649.7L262.9 1647.4L262.9 1645.2L263 1643L263.1 1641L263.2 1639.1L263.3 1637.5L263.3 1636.2Z" fill="url(#ag5)"/><path d="M369.9 1683.4L345.9 1701L342.3 1672.2Z" fill="#252525"/><path d="M680.6 1658.5L682.5 1658.9L684.8 1659.4L687.6 1660L690.8 1660.6L694.2 1661.3L697.8 1662.1L701.4 1662.8L705.2 1663.4L708.8 1664L712.4 1664.4L715.9 1664.7L719.5 1665.1L723.2 1665.4L727.1 1665.6L730.9 1665.8L734.7 1666L738.4 1666L742.1 1666L745.6 1665.9L748.9 1665.7L752.1 1665.5L755.2 1665.2L758.2 1664.8L761.1 1664.4L764 1663.9L766.7 1663.2L769.4 1662.5L772 1661.6L774.6 1660.6L777 1659.4L779.4 1658.1L781.7 1656.7L783.9 1655.1L786 1653.5L788 1651.7L789.9 1649.7L791.7 1647.6L793.4 1645.4L795 1643.1L796.4 1640.6L797.7 1637.9L798.9 1635L800 1632.1L801 1629L801.8 1625.7L802.5 1622.4L803.1 1619.1L803.6 1615.6L804 1612.2L804.2 1608.7L804.3 1605.2L804.3 1601.6L804.1 1598L803.9 1594.2L803.5 1590.5L803.1 1586.7L802.5 1582.9L801.9 1579.2L801.3 1575.4L800.5 1571.7L799.8 1568.1L798.9 1564.4L797.9 1560.8L796.9 1557.2L795.8 1553.7L794.7 1550L793.5 1546.4L792.2 1542.7L790.9 1538.9L789.5 1535.1L788.1 1531.1L786.7 1527L785.1 1522.9L783.6 1518.7L781.9 1514.5L780.2 1510.2L778.5 1505.9L776.8 1501.7L775 1497.4L773.2 1493.2L771.3 1488.9L769.3 1484.5L767.3 1480L765.2 1475.5L763 1471.1L760.9 1466.7L758.9 1462.5L756.8 1458.5L754.9 1454.7L753.1 1451.3L751.3 1448.1L750.4 1446.7L745.6 1449.6L746.4 1450.9L748.1 1453.9L749.9 1457.3L751.8 1461L753.8 1465L755.9 1469.1L758 1473.5L760.1 1477.9L762.2 1482.4L764.2 1486.8L766.2 1491.2L768 1495.4L769.8 1499.6L771.6 1503.8L773.3 1508L775 1512.3L776.7 1516.5L778.3 1520.7L779.9 1524.9L781.4 1529L782.9 1533L784.3 1536.9L785.6 1540.8L786.9 1544.5L788.1 1548.2L789.3 1551.8L790.5 1555.3L791.5 1558.8L792.5 1562.3L793.5 1565.8L794.3 1569.3L795.1 1572.9L795.8 1576.5L796.4 1580.1L797 1583.8L797.5 1587.4L797.9 1591.1L798.3 1594.7L798.5 1598.3L798.7 1601.8L798.7 1605.2L798.6 1608.5L798.4 1611.7L798 1615L797.6 1618.2L797.1 1621.4L796.5 1624.5L795.8 1627.6L795 1630.5L794.1 1633.2L793.1 1635.8L792 1638.2L790.7 1640.5L789.4 1642.6L787.9 1644.6L786.4 1646.5L784.7 1648.3L782.9 1650L781.1 1651.5L779.1 1653L777.1 1654.3L775 1655.6L772.8 1656.7L770.5 1657.7L768.2 1658.5L765.7 1659.3L763.1 1659.9L760.4 1660.5L757.6 1660.9L754.7 1661.4L751.7 1661.7L748.7 1662.1L745.4 1662.3L742 1662.5L738.4 1662.6L734.7 1662.6L731 1662.6L727.2 1662.5L723.4 1662.3L719.7 1662.1L716.1 1661.9L712.6 1661.6L709.2 1661.3L705.6 1660.8L701.9 1660.3L698.2 1659.7L694.6 1659L691.2 1658.4L688.1 1657.8L685.2 1657.3L682.9 1656.8L681 1656.5Z" fill="url(#ag6)"/><path d="M735.6 1429.9L760.6 1444.3L739.9 1458.4Z" fill="#252525"/></g><g id="p30_right"><g transform="translate(1331 1091.5) scale(0.2459)"><use href="#silh" opacity="0.4"/><use href="#orgGrey"/></g><g transform="translate(1560 900) scale(0.14743)"><path d="M720 585C896.1 552 951.1 512.3 1010 405C1028.5 506.7 1056.5 515.3 1250 290C1094.5 540.8 1112.3 566.1 1300 560C1111.5 635.5 1058.7 683.7 1000 800C943.8 684.8 891.1 640.3 720 585Z" fill="#f3e3b6" stroke="#aa503c" stroke-width="8" stroke-linejoin="round"/><ellipse cx="1000" cy="600" rx="75" ry="42" transform="rotate(-8 1000 600)" fill="none" stroke="#aa503c" stroke-width="6.4"/><path d="M430 565C628.5 629.4 668 602 670 440C748.6 585 806.7 595.6 1010 405C864.5 632.5 884 660 1090 640C894.6 713.8 882 753.8 900 830C779.5 821.8 654.5 800.7 430 790C595.3 712.1 598.4 679.6 430 565Z" fill="#f3e3b6" stroke="#aa503c" stroke-width="8" stroke-linejoin="round"/><ellipse cx="745" cy="705" rx="80" ry="45" transform="rotate(-8 745 705)" fill="none" stroke="#aa503c" stroke-width="6.4"/><path d="M1250 290C1207.8 589.3 1235.1 601.2 1430 405C1270.7 628.8 1288.1 653.2 1500 620C1299.2 687.9 1299.7 707.6 1600 785C1263.6 778.4 1173.6 818.5 1100 830C1053.4 791.8 1013.5 749.8 940 720C1016.7 645 1101.1 586.6 1250 290Z" fill="#f3e3b6" stroke="#aa503c" stroke-width="8" stroke-linejoin="round"/><ellipse cx="1150" cy="700" rx="80" ry="45" transform="rotate(-8 1150 700)" fill="none" stroke="#aa503c" stroke-width="6.4"/><path d="M425 895C602.4 891.3 609.1 872.3 560 815C670.4 814.8 770.7 802.7 860 790C862.7 858.1 879.1 899.4 1005 960C826.9 999.8 699.7 1019.3 430 1105C609.7 952.9 601.2 926.4 425 895Z" fill="#f3e3b6" stroke="#aa503c" stroke-width="8" stroke-linejoin="round"/><ellipse cx="740" cy="912" rx="80" ry="45" transform="rotate(-8 740 912)" fill="none" stroke="#aa503c" stroke-width="6.4"/><path d="M850 892C1025.8 847.7 1108.1 799.8 1180 790C1206.6 803.9 1233.4 815.3 1420 620C1269.2 842.2 1287.2 866.5 1500 830C1299 901 1299.9 920.3 1600 990C1244.3 1008.3 1107.4 1030.1 845 1105C1010 958.1 1001 928.6 850 892Z" fill="#f3e3b6" stroke="#aa503c" stroke-width="8" stroke-linejoin="round"/><ellipse cx="1150" cy="915" rx="80" ry="45" transform="rotate(-8 1150 915)" fill="none" stroke="#aa503c" stroke-width="6.4"/></g><g transform="translate(1820 1300) scale(0.21538)" stroke="#cd553c" stroke-width="5"><ellipse cx="570" cy="300" rx="180" ry="152" transform="rotate(-35 570 300)" fill="#f1a18c"/><ellipse cx="575" cy="275" rx="115" ry="98" transform="rotate(-35 570 300)" fill="#e2836f" stroke="none"/><ellipse cx="685" cy="495" rx="160" ry="135" transform="rotate(0 685 495)" fill="#f1a18c"/><ellipse cx="690" cy="470" rx="115" ry="98" transform="rotate(0 685 495)" fill="#e2836f" stroke="none"/><ellipse cx="455" cy="525" rx="205" ry="172" transform="rotate(-35 455 525)" fill="#f1a18c"/><ellipse cx="463" cy="492" rx="122" ry="104" transform="rotate(-35 463 492)" fill="#e2836f" stroke="#d8705c" stroke-width="3"/><ellipse cx="872" cy="578" rx="198" ry="172" transform="rotate(28 872 578)" fill="#f1a18c"/><ellipse cx="880" cy="545" rx="122" ry="104" transform="rotate(28 880 545)" fill="#e2836f" stroke="#d8705c" stroke-width="3"/><ellipse cx="757" cy="322" rx="200" ry="172" transform="rotate(-38 757 322)" fill="#f1a18c"/><ellipse cx="766" cy="288" rx="122" ry="104" transform="rotate(-38 766 288)" fill="#e2836f" stroke="#d8705c" stroke-width="3"/></g><g transform="translate(1340 1380) scale(0.26976)"><path d="M1440 615C1458.1 605.9 1488 598.5 1520 615C1552 631.5 1710.7 741.7 1740 770C1769.3 798.3 1796.1 835.2 1795 880C1793.9 924.8 1748.7 1148.4 1730 1190C1711.3 1231.6 1640.3 1262 1620 1270C1599.7 1278 1569.9 1282.1 1540 1265C1510.1 1247.9 1365.6 1137.2 1340 1110C1314.4 1082.8 1298.9 1053.7 1300 1010C1301.1 966.3 1335.1 742.1 1350 700C1364.9 657.9 1421.9 624.1 1440 615Z" fill="#fddec8" stroke="#cd6932" stroke-width="7.5" stroke-linejoin="round"/><circle cx="1510" cy="875" r="75" fill="#ebb9a0" stroke="#cd6932" stroke-width="5"/><circle cx="1375" cy="760" r="22" fill="#f0bea0"/><circle cx="1680" cy="960" r="22" fill="#f0bea0"/><circle cx="1430" cy="1045" r="22" fill="#e19a6e"/><circle cx="1585" cy="1060" r="22" fill="#f0bea0"/><path d="M1000 455C1018.1 455 1076.9 453.5 1110 470C1143.1 486.5 1284.4 585.5 1310 610C1335.6 634.5 1352.1 657.3 1350 700C1347.9 742.7 1308.1 967.3 1290 1010C1271.9 1052.7 1202.4 1089.9 1180 1100C1157.6 1110.1 1109.9 1116.7 1080 1105C1050.1 1093.3 927.7 1035.3 900 990C872.3 944.7 825.3 725.9 820 680C814.7 634.1 837.2 582.4 850 560C862.8 537.6 924 481.2 940 470C956 458.8 981.9 455 1000 455Z" fill="#fddec8" stroke="#cd6932" stroke-width="7.5" stroke-linejoin="round"/><circle cx="1070" cy="715" r="75" fill="#ebb9a0" stroke="#cd6932" stroke-width="5"/><circle cx="930" cy="600" r="22" fill="#f0bea0"/><circle cx="1240" cy="800" r="22" fill="#f0bea0"/><circle cx="990" cy="885" r="22" fill="#e19a6e"/><circle cx="1145" cy="900" r="22" fill="#f0bea0"/></g><path d="M1479.4 1122.3L1479.8 1120.2L1480.2 1117.6L1480.6 1114.5L1481.2 1111.1L1481.8 1107.4L1482.5 1103.6L1483.4 1099.6L1484.5 1095.6L1485.7 1091.7L1487.2 1087.9L1489 1084L1490.9 1080L1493.1 1075.8L1495.4 1071.5L1497.9 1067.1L1500.5 1062.8L1503.3 1058.7L1506.2 1054.6L1509.1 1050.8L1512.2 1047.2L1515.4 1043.9L1518.8 1040.6L1522.3 1037.4L1526 1034.4L1529.7 1031.5L1533.6 1028.7L1537.5 1026L1541.5 1023.6L1545.6 1021.3L1549.6 1019.2L1553.8 1017.3L1558.2 1015.6L1562.7 1014L1567.4 1012.6L1572.2 1011.4L1576.8 1010.3L1581.4 1009.3L1585.7 1008.3L1589.8 1007.5L1593.5 1006.6L1596.9 1005.9L1597.7 1005.8L1596.9 1001.3L1596 1001.4L1592.5 1002.2L1588.8 1003L1584.8 1003.8L1580.4 1004.8L1575.8 1005.8L1571 1006.9L1566.2 1008.2L1561.4 1009.6L1556.6 1011.2L1552 1013L1547.6 1015L1543.4 1017.2L1539.2 1019.6L1535.1 1022.2L1531 1024.9L1527 1027.8L1523.1 1030.8L1519.3 1033.9L1515.6 1037.2L1512.1 1040.6L1508.8 1044.2L1505.6 1047.9L1502.5 1051.9L1499.5 1056.1L1496.7 1060.4L1493.9 1064.8L1491.4 1069.2L1489 1073.6L1486.8 1077.9L1484.8 1082.1L1483 1086.1L1481.4 1090.1L1480.1 1094.3L1478.9 1098.5L1478 1102.6L1477.2 1106.6L1476.6 1110.4L1476.1 1113.9L1475.6 1116.9L1475.2 1119.5L1474.8 1121.5Z" fill="url(#ag7)"/><path d="M1618.4 1001.3L1594.8 1015.9L1592.3 992Z" fill="#252525"/><path d="M1832.2 1026.1L1835 1027.7L1838.7 1029.8L1842.9 1032.1L1847.7 1034.7L1852.8 1037.6L1858.1 1040.7L1863.5 1044L1868.7 1047.4L1873.6 1050.9L1878 1054.5L1882.2 1058.2L1886.2 1062.1L1890.2 1066.2L1894.2 1070.4L1898.1 1074.9L1901.9 1079.4L1905.8 1084.1L1909.7 1089L1913.6 1093.9L1917.5 1099L1921.6 1104.2L1925.7 1109.6L1929.9 1115.2L1934.2 1120.9L1938.3 1126.8L1942.5 1132.6L1946.4 1138.5L1950.3 1144.4L1953.9 1150.2L1957.2 1156L1960.3 1161.7L1963.3 1167.4L1966.1 1173.2L1968.8 1179L1971.3 1184.8L1973.7 1190.6L1975.9 1196.3L1978.1 1202L1980 1207.5L1981.9 1212.9L1983.6 1218.1L1985.1 1223.3L1986.5 1228.4L1987.7 1233.4L1988.8 1238.4L1989.7 1243.3L1990.6 1248.1L1991.5 1252.9L1992.2 1257.6L1993 1262.2L1993.6 1266.8L1994.2 1271.4L1994.6 1275.9L1995 1280.4L1995.3 1284.8L1995.6 1289.1L1995.8 1293.2L1995.9 1297.2L1996.1 1300.9L1996.3 1304.3L1996.4 1307.5L1996.4 1307.6L2001.9 1307.4L2001.9 1307.3L2001.7 1304.1L2001.6 1300.6L2001.4 1296.9L2001.2 1293L2001 1288.8L2000.8 1284.5L2000.5 1280L2000.1 1275.4L1999.7 1270.8L1999.1 1266.1L1998.4 1261.4L1997.7 1256.7L1996.9 1252L1996.1 1247.2L1995.1 1242.3L1994.1 1237.3L1993 1232.2L1991.8 1227.1L1990.4 1221.8L1988.8 1216.5L1987.1 1211.1L1985.2 1205.7L1983.2 1200.1L1981.1 1194.3L1978.8 1188.6L1976.4 1182.7L1973.8 1176.8L1971.1 1170.9L1968.2 1165L1965.2 1159.1L1962 1153.2L1958.6 1147.4L1954.9 1141.5L1951 1135.5L1947 1129.5L1942.8 1123.6L1938.6 1117.7L1934.3 1111.9L1930.1 1106.3L1925.9 1100.8L1921.9 1095.6L1917.9 1090.5L1914 1085.6L1910.1 1080.7L1906.2 1075.9L1902.2 1071.3L1898.3 1066.8L1894.2 1062.4L1890.1 1058.2L1885.9 1054.2L1881.6 1050.3L1876.9 1046.6L1871.8 1042.9L1866.4 1039.4L1861 1036L1855.6 1032.9L1850.4 1029.9L1845.6 1027.3L1841.3 1024.9L1837.7 1022.9L1835 1021.3Z" fill="url(#ag8)"/><path d="M1999 1327.9L1985.7 1303.8L2012.7 1304Z" fill="#252525"/><path d="M1958.5 1509.4L1957.5 1511.6L1956.2 1514.6L1954.8 1518.1L1953.2 1522L1951.4 1526.2L1949.5 1530.6L1947.5 1534.9L1945.6 1539.1L1943.6 1543L1941.6 1546.5L1939.6 1549.8L1937.6 1552.9L1935.6 1556L1933.6 1559L1931.4 1561.9L1929.2 1564.7L1926.9 1567.5L1924.5 1570.2L1922 1572.9L1919.3 1575.6L1916.3 1578.2L1913.2 1580.9L1909.9 1583.5L1906.4 1586.1L1902.8 1588.7L1899.3 1591.2L1895.7 1593.6L1892.2 1595.9L1888.8 1598.1L1885.6 1600.2L1882.5 1602.2L1879.6 1604L1876.8 1605.7L1874 1607.2L1871.3 1608.7L1868.6 1610.2L1865.8 1611.6L1863.1 1613.1L1860.2 1614.5L1857.3 1616L1854.2 1617.6L1850.9 1619.3L1847.4 1621L1846 1621.7L1847.8 1625.5L1849.2 1624.8L1852.8 1623L1856.1 1621.4L1859.3 1619.8L1862.2 1618.3L1865 1616.8L1867.8 1615.4L1870.5 1613.9L1873.3 1612.4L1876.1 1610.9L1878.9 1609.3L1881.8 1607.6L1884.8 1605.7L1887.8 1603.8L1891.1 1601.7L1894.5 1599.4L1898 1597.1L1901.6 1594.6L1905.3 1592.1L1908.9 1589.5L1912.4 1586.9L1915.9 1584.1L1919.1 1581.4L1922.1 1578.6L1925 1575.8L1927.6 1573L1930.1 1570.2L1932.5 1567.3L1934.8 1564.4L1937 1561.4L1939.1 1558.4L1941.2 1555.2L1943.2 1552L1945.2 1548.7L1947.3 1545L1949.3 1541L1951.4 1536.7L1953.3 1532.3L1955.2 1527.9L1957 1523.7L1958.7 1519.7L1960.1 1516.2L1961.3 1513.3L1962.3 1511Z" fill="url(#ag9)"/><path d="M1827.7 1632.7L1845.1 1611.1L1855.4 1632.8Z" fill="#252525"/><path d="M1596.6 1606.6L1594.2 1606.3L1591.1 1606L1587.5 1605.7L1583.4 1605.4L1579 1604.9L1574.5 1604.4L1569.8 1603.8L1565.2 1603.1L1560.7 1602.3L1556.4 1601.3L1552.3 1600.2L1548.1 1599.1L1543.8 1597.8L1539.5 1596.5L1535.3 1595.1L1531 1593.5L1526.7 1591.8L1522.4 1589.9L1518.2 1587.8L1514 1585.4L1509.7 1582.7L1505.2 1579.8L1500.7 1576.7L1496.2 1573.4L1491.7 1569.9L1487.3 1566.3L1483.1 1562.5L1479 1558.7L1475.1 1554.8L1471.5 1550.8L1468.2 1546.8L1465 1542.6L1462 1538.3L1459.2 1533.9L1456.5 1529.4L1453.9 1524.8L1451.5 1520.1L1449.2 1515.3L1447.1 1510.6L1445 1505.8L1443.1 1500.9L1441.3 1495.8L1439.7 1490.6L1438.2 1485.3L1436.9 1480L1435.6 1474.7L1434.5 1469.5L1433.4 1464.5L1432.5 1459.6L1431.7 1455L1430.9 1450.7L1430.4 1446.5L1430 1442.5L1429.7 1438.6L1429.5 1434.8L1429.3 1431.1L1429.2 1427.5L1429.2 1424.1L1429.1 1420.8L1429 1417.7L1428.9 1414.7L1428.9 1414.3L1423.5 1414.3L1423.5 1414.9L1423.6 1417.9L1423.7 1421L1423.8 1424.2L1423.8 1427.7L1423.9 1431.3L1424.1 1435L1424.3 1438.9L1424.6 1443L1425 1447.2L1425.6 1451.5L1426.3 1456L1427.2 1460.6L1428.1 1465.5L1429.2 1470.6L1430.3 1475.9L1431.6 1481.3L1433 1486.7L1434.5 1492.2L1436.2 1497.5L1438 1502.8L1440 1507.8L1442.1 1512.7L1444.3 1517.6L1446.7 1522.5L1449.2 1527.3L1451.8 1532.1L1454.6 1536.7L1457.5 1541.3L1460.7 1545.8L1464 1550.2L1467.5 1554.4L1471.2 1558.5L1475.2 1562.5L1479.4 1566.5L1483.8 1570.4L1488.3 1574.1L1493 1577.7L1497.6 1581.1L1502.2 1584.3L1506.8 1587.3L1511.2 1590L1515.7 1592.5L1520.1 1594.8L1524.6 1596.8L1529 1598.6L1533.5 1600.2L1537.9 1601.7L1542.3 1603L1546.6 1604.3L1550.9 1605.4L1555.2 1606.5L1559.6 1607.5L1564.3 1608.4L1569 1609.2L1573.8 1609.8L1578.5 1610.3L1582.9 1610.7L1587 1611.1L1590.6 1611.4L1593.6 1611.7L1596 1612Z" fill="url(#ag10)"/><path d="M1426.9 1394.8L1438.1 1418.2L1414.1 1417.4Z" fill="#252525"/></g><g id="p40_center"><g transform="translate(890 910) scale(0.16377)"><path d="M122 440L170 445L172 700Q175 760 160 772Q130 770 128 720Z" fill="#505256"/><path d="M382 445L434 440L430 720Q428 770 398 772Q382 760 384 700Z" fill="#505256"/><path d="M170 655H382L376 1168H305L285 760H268L245 1168H172Z" fill="#48607a"/><path d="M172 1150L240 1160Q235 1230 200 1255Q150 1265 140 1240Q150 1190 172 1150Z" fill="#3c3e42"/><path d="M308 1150L378 1145Q400 1190 396 1235Q370 1255 340 1240Q310 1200 308 1150Z" fill="#3c3e42"/><rect x="240" y="260" width="62" height="60" fill="#505256"/><ellipse cx="270" cy="205" rx="62" ry="86" fill="#505256"/><path d="M225 295Q270 325 318 295L395 320Q425 340 438 440L385 455L380 665Q275 680 170 665L168 455L118 440Q125 340 150 320Z" fill="#cdd5e8"/><path d="M618 500L680 500L668 760Q665 800 640 805Q612 790 615 740Z" fill="#505256"/><path d="M945 500L1005 500L1003 740Q1005 790 978 805Q955 800 952 760Z" fill="#505256"/><path d="M655 720Q810 780 965 720Q985 900 915 1168H850L812 860L770 1168H702Q630 900 655 720Z" fill="#48607a"/><path d="M700 1160H768Q770 1250 745 1275Q700 1285 682 1262Q685 1200 700 1160Z" fill="#3c3e42"/><path d="M850 1160H918Q930 1200 925 1262Q900 1285 862 1275Q845 1250 850 1160Z" fill="#3c3e42"/><rect x="775" y="290" width="70" height="60" fill="#505256"/><ellipse cx="810" cy="232" rx="72" ry="90" fill="#505256"/><path d="M750 325Q810 370 868 325Q960 350 985 420L1000 480L940 510Q975 640 960 730Q810 790 660 730Q640 640 682 510L622 480L640 420Q665 350 750 325Z" fill="#cdd5e8"/><path d="M1258 900H1325L1318 1190H1268Z" fill="#505256"/><path d="M1365 900H1432L1410 1160H1375Z" fill="#505256"/><path d="M1250 1185L1312 1185Q1310 1245 1262 1256Q1245 1230 1250 1185Z" fill="#20283a"/><path d="M1358 1140L1395 1150L1470 1218Q1440 1232 1400 1205L1378 1180L1372 1222H1362Z" fill="#20283a"/><path d="M1215 690Q1210 760 1235 775Q1255 760 1250 690ZM1452 690Q1450 760 1470 775Q1490 755 1482 690Z" fill="#505256"/><path d="M1240 690H1452L1455 900Q1345 925 1236 900Z" fill="#48607a"/><rect x="1318" y="255" width="58" height="50" fill="#505256"/><ellipse cx="1345" cy="200" rx="62" ry="88" fill="#505256"/><path d="M1295 250Q1270 265 1275 300L1292 345L1305 290Z" fill="#4a4c52"/><path d="M1298 285L1410 285L1420 440L1385 665H1340L1300 440Z" fill="#e4e8f4"/><path d="M1298 285L1350 460L1345 690L1262 700L1245 690L1210 690Q1180 450 1198 335Q1240 300 1298 285ZM1410 285Q1460 300 1478 335Q1500 500 1485 690L1455 700L1362 690L1368 460Z" fill="#48607a"/><path d="M1668 640L1704 640L1700 850Q1690 870 1678 862Q1668 800 1668 640ZM1868 640L1906 640Q1908 800 1900 862Q1885 872 1875 850Z" fill="#505256"/><path d="M1712 940H1762L1755 1095H1718ZM1808 940H1862L1852 1095H1815Z" fill="#505256"/><path d="M1710 1085H1748V1128H1712ZM1815 1085H1856V1128H1818Z" fill="#eef0f5"/><path d="M1712 1122L1750 1130Q1745 1190 1700 1208Q1665 1205 1660 1185Q1680 1150 1712 1122Z" fill="#838588"/><path d="M1815 1125L1862 1122Q1875 1160 1870 1205Q1840 1220 1812 1205Q1808 1160 1815 1125Z" fill="#838588"/><path d="M1698 775H1868L1872 945H1795L1785 860L1772 945H1694Z" fill="#48607a"/><rect x="1755" y="465" width="50" height="50" fill="#505256"/><ellipse cx="1780" cy="410" rx="60" ry="75" fill="#505256"/><path d="M1740 500Q1780 530 1822 500L1880 520Q1905 560 1910 625L1866 645L1866 785Q1782 798 1700 785L1702 645L1662 625Q1668 560 1690 520Z" fill="#cdd5e8"/></g></g><g id="p90_text"><text class="serif" font-size="50" textLength="513.6" lengthAdjust="spacing"><textPath href="#tp_short" textLength="513.6" lengthAdjust="spacing">Shortage of donor supply</textPath></text><text class="serif" font-size="49.5" textLength="780.4" lengthAdjust="spacing"><textPath href="#tp_unlim" textLength="780.4" lengthAdjust="spacing">Unlimited supply, High risk of rejection</textPath></text><text class="serif" font-size="49.5" textLength="1429.4" lengthAdjust="spacing"><textPath href="#tp_prom" textLength="1429.4" lengthAdjust="spacing">Promise to overcome donor shortage, Very low rejection risk, Expensive</textPath></text><text class="serif" font-size="49.5" text-anchor="start" transform="translate(863.6 1273.8) rotate(-117.4)" >Xeno-Tx</text><text class="serif" font-size="48.8" text-anchor="start" transform="translate(1355.9 1100.8) rotate(120)" >SC β-cells</text><text class="serif" font-size="49" text-anchor="middle" x="1065" y="785.6" >Allo-Tx</text><text class="serif" font-size="46.4" text-anchor="middle" x="1033.4" y="212.5" >RECIPIENT</text><text class="serif" font-size="37" text-anchor="middle" x="806" y="404.1" >DONOR</text><text class="sans" font-size="21.5" text-anchor="middle" x="820" y="770.6" textLength="91">Pancreas</text><text class="serif" font-size="19.1" text-anchor="middle" x="1451.4" y="375" font-weight="bold">Islet</text><text class="serif" font-size="19.1" text-anchor="middle" x="1451" y="395.2" font-weight="bold">of</text><text class="serif" font-size="19.1" text-anchor="middle" x="1454" y="416.1" font-weight="bold" textLength="97.8">Langerhans</text><text class="sans" font-size="18" text-anchor="middle" x="1411.4" y="556.1" font-weight="bold">Islet</text><text class="sans" font-size="18" text-anchor="middle" x="1410.5" y="578.9" font-weight="bold">of</text><text class="sans" font-size="18" text-anchor="middle" x="1413.9" y="601.6" font-weight="bold" textLength="106.2">Langerhans</text><text class="sans" font-size="18" text-anchor="middle" x="1391.5" y="668.3" font-weight="bold" textLength="61.5">Acinus</text><text class="sans" font-size="44" text-anchor="middle" x="1064" y="1175.5" >T1D</text><text class="sans" font-size="44" text-anchor="middle" x="1064" y="1232.3" >PATIENT</text><text class="sans" font-size="32.5" text-anchor="middle" x="459" y="1084.5" textLength="60.7">Islet</text><text class="sans" font-size="32.5" text-anchor="middle" x="458.3" y="1122.6" textLength="208.6">encapsulation</text><text class="sans" font-size="32.5" text-anchor="middle" x="425.6" y="1387.2" textLength="151.8">Islet alone</text><text class="sans" font-size="32.5" text-anchor="middle" x="264.2" y="1544.6" textLength="112.4">Genetic</text><text class="sans" font-size="32.5" text-anchor="middle" x="267" y="1583.4" textLength="179">modification</text><text class="sans" font-size="32.5" text-anchor="middle" x="264.3" y="1621.1" textLength="99.9">of islet</text><text class="sans" font-size="32.5" text-anchor="middle" x="500.3" y="1770.1" textLength="203">CRISPR/Cas9</text><text class="sans" font-size="33" text-anchor="middle" x="1698.2" y="1096.1" textLength="123.1">Somatic</text><text class="sans" font-size="33" text-anchor="middle" x="1698.2" y="1133.7" textLength="67.1">cells</text><text class="sans" font-size="33" text-anchor="middle" x="1857.3" y="1202" textLength="122.2">CRISPR/</text><text class="sans" font-size="33" text-anchor="middle" x="1859.8" y="1240.6" textLength="74.8">Cas9</text><text class="sans" font-size="33" text-anchor="middle" x="1970.1" y="1494.9" textLength="86.2">iPSCs</text><text class="sans" font-size="33" text-anchor="middle" x="1632" y="1713.2" textLength="87.7">iPSCs</text><text class="sans" font-size="33" text-anchor="middle" x="1632.7" y="1751.7" textLength="148.4">Derived β-</text><text class="sans" font-size="33" text-anchor="middle" x="1631.3" y="1789.5" textLength="67.5">cells</text><text class="sans" font-size="32"><textPath href="#tp_diff" textLength="234" lengthAdjust="spacing">Differentiation</textPath></text><text class="sans" font-size="27.5"><textPath href="#tp_remr" textLength="297" lengthAdjust="spacing">Removable device: FDA</textPath></text><text class="sans" font-size="25" text-anchor="middle" transform="translate(672.9 1014.1) rotate(54)" textLength="126.5">Removable</text><text class="sans" font-size="25" text-anchor="middle" transform="translate(648.9 1034.6) rotate(54)" textLength="138.1">device: FDA</text></g>
</svg>
</body></html>
